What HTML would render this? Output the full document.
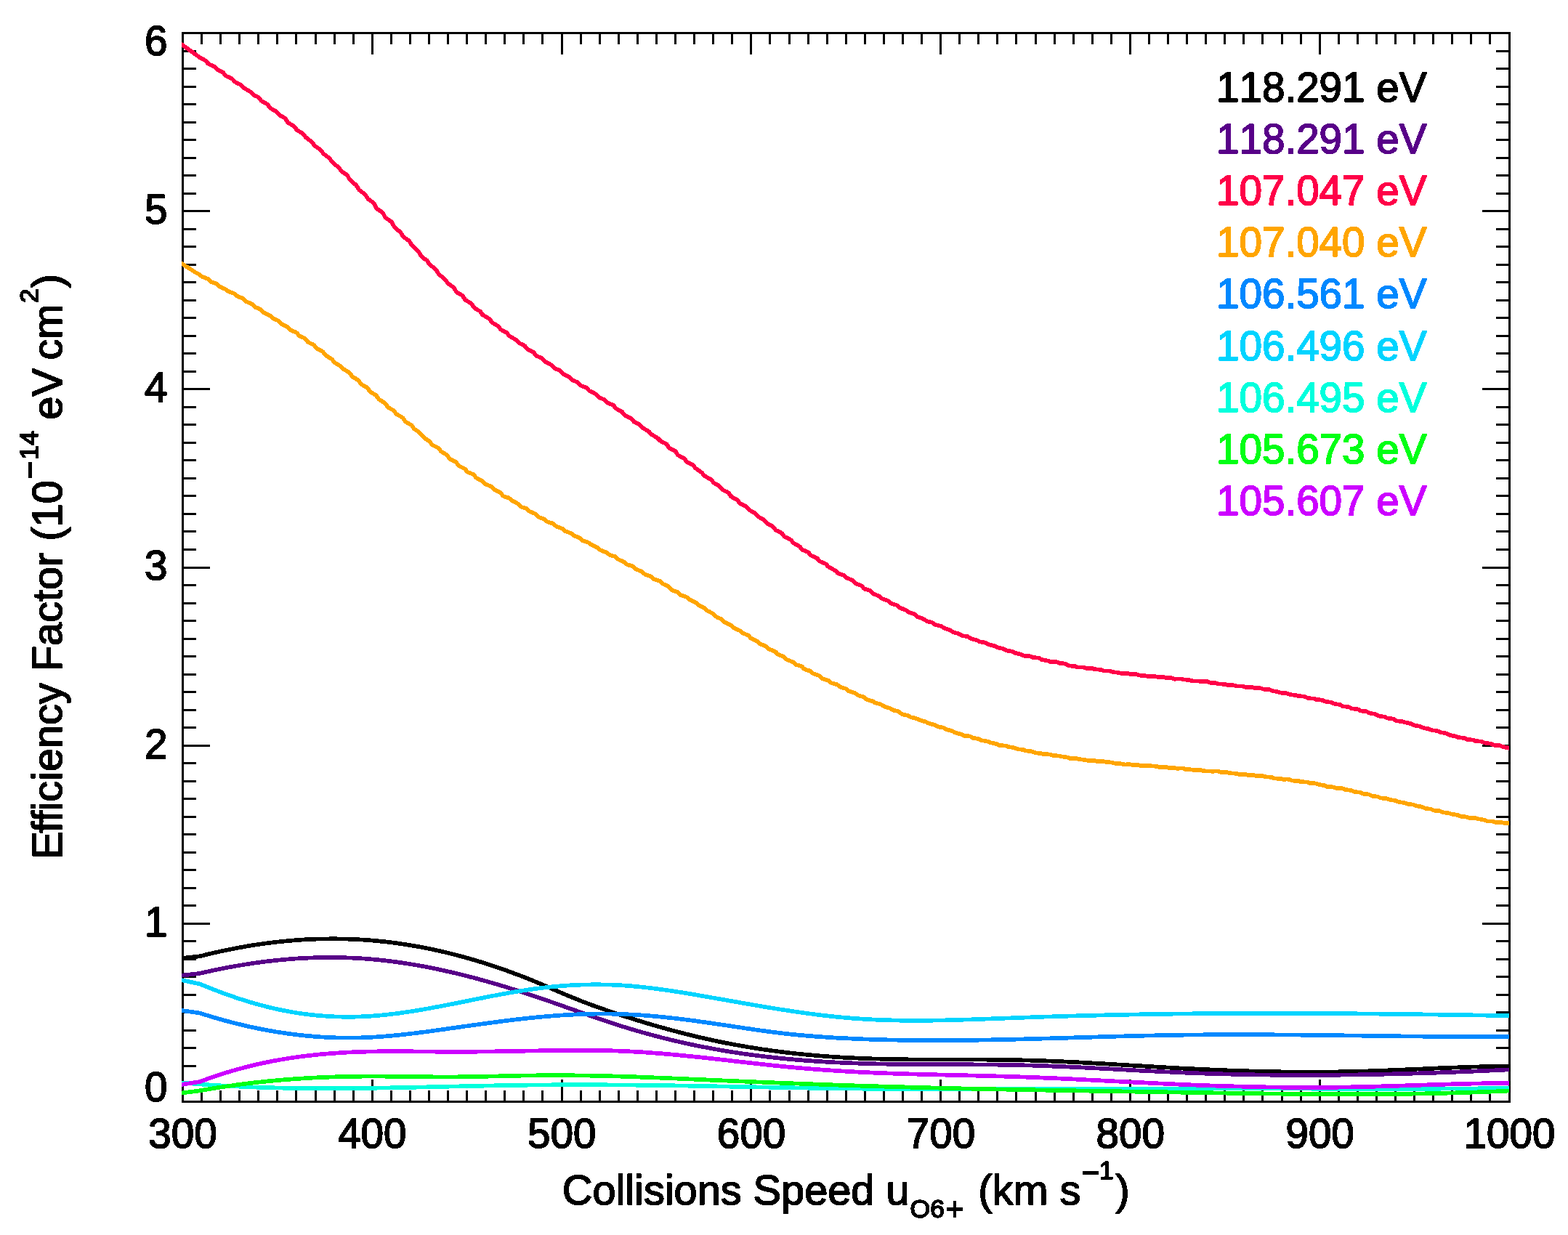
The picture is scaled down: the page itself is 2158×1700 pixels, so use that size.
<!DOCTYPE html>
<html lang="en"><head><meta charset="utf-8"><title>Efficiency Factor vs Collisions Speed</title>
<style>html,body{margin:0;padding:0;background:#fff}body{width:2158px;height:1700px;overflow:hidden}svg{display:block}text{font-family:"Liberation Sans",sans-serif;font-kerning:none;font-variant-ligatures:none;white-space:pre;stroke-width:1.7;stroke-linejoin:round;paint-order:stroke}.t{font-size:56.6px}.l{font-size:57.7px}.k{fill:#000;stroke:#000}</style></head><body>
<svg width="2158" height="1700" viewBox="0 0 2158 1700">
<rect width="2158" height="1700" fill="#fff"/>
<path d="M277.5,1516.5V1501M277.5,45.5V61M303.5,1516.5V1501M303.5,45.5V61M329.5,1516.5V1501M329.5,45.5V61M355.5,1516.5V1501M355.5,45.5V61M381.5,1516.5V1501M381.5,45.5V61M407.5,1516.5V1501M407.5,45.5V61M434.5,1516.5V1501M434.5,45.5V61M460.5,1516.5V1501M460.5,45.5V61M486.5,1516.5V1501M486.5,45.5V61M512.5,1516.5V1486M512.5,45.5V75M538.5,1516.5V1501M538.5,45.5V61M564.5,1516.5V1501M564.5,45.5V61M590.5,1516.5V1501M590.5,45.5V61M616.5,1516.5V1501M616.5,45.5V61M642.5,1516.5V1501M642.5,45.5V61M668.5,1516.5V1501M668.5,45.5V61M694.5,1516.5V1501M694.5,45.5V61M720.5,1516.5V1501M720.5,45.5V61M746.5,1516.5V1501M746.5,45.5V61M773.5,1516.5V1486M773.5,45.5V75M799.5,1516.5V1501M799.5,45.5V61M825.5,1516.5V1501M825.5,45.5V61M851.5,1516.5V1501M851.5,45.5V61M877.5,1516.5V1501M877.5,45.5V61M903.5,1516.5V1501M903.5,45.5V61M929.5,1516.5V1501M929.5,45.5V61M955.5,1516.5V1501M955.5,45.5V61M981.5,1516.5V1501M981.5,45.5V61M1007.5,1516.5V1501M1007.5,45.5V61M1033.5,1516.5V1486M1033.5,45.5V75M1059.5,1516.5V1501M1059.5,45.5V61M1086.5,1516.5V1501M1086.5,45.5V61M1112.5,1516.5V1501M1112.5,45.5V61M1138.5,1516.5V1501M1138.5,45.5V61M1164.5,1516.5V1501M1164.5,45.5V61M1190.5,1516.5V1501M1190.5,45.5V61M1216.5,1516.5V1501M1216.5,45.5V61M1242.5,1516.5V1501M1242.5,45.5V61M1268.5,1516.5V1501M1268.5,45.5V61M1294.5,1516.5V1486M1294.5,45.5V75M1320.5,1516.5V1501M1320.5,45.5V61M1346.5,1516.5V1501M1346.5,45.5V61M1372.5,1516.5V1501M1372.5,45.5V61M1398.5,1516.5V1501M1398.5,45.5V61M1425.5,1516.5V1501M1425.5,45.5V61M1451.5,1516.5V1501M1451.5,45.5V61M1477.5,1516.5V1501M1477.5,45.5V61M1503.5,1516.5V1501M1503.5,45.5V61M1529.5,1516.5V1501M1529.5,45.5V61M1555.5,1516.5V1486M1555.5,45.5V75M1581.5,1516.5V1501M1581.5,45.5V61M1607.5,1516.5V1501M1607.5,45.5V61M1633.5,1516.5V1501M1633.5,45.5V61M1659.5,1516.5V1501M1659.5,45.5V61M1685.5,1516.5V1501M1685.5,45.5V61M1711.5,1516.5V1501M1711.5,45.5V61M1737.5,1516.5V1501M1737.5,45.5V61M1764.5,1516.5V1501M1764.5,45.5V61M1790.5,1516.5V1501M1790.5,45.5V61M1816.5,1516.5V1486M1816.5,45.5V75M1842.5,1516.5V1501M1842.5,45.5V61M1868.5,1516.5V1501M1868.5,45.5V61M1894.5,1516.5V1501M1894.5,45.5V61M1920.5,1516.5V1501M1920.5,45.5V61M1946.5,1516.5V1501M1946.5,45.5V61M1972.5,1516.5V1501M1972.5,45.5V61M1998.5,1516.5V1501M1998.5,45.5V61M2024.5,1516.5V1501M2024.5,45.5V61M2050.5,1516.5V1501M2050.5,45.5V61M251.5,1491.5H270M2077.5,1491.5H2059M251.5,1467.5H270M2077.5,1467.5H2059M251.5,1442.5H270M2077.5,1442.5H2059M251.5,1418.5H270M2077.5,1418.5H2059M251.5,1393.5H270M2077.5,1393.5H2059M251.5,1369.5H270M2077.5,1369.5H2059M251.5,1344.5H270M2077.5,1344.5H2059M251.5,1320.5H270M2077.5,1320.5H2059M251.5,1295.5H270M2077.5,1295.5H2059M251.5,1271.5H289M2077.5,1271.5H2040M251.5,1246.5H270M2077.5,1246.5H2059M251.5,1222.5H270M2077.5,1222.5H2059M251.5,1197.5H270M2077.5,1197.5H2059M251.5,1173.5H270M2077.5,1173.5H2059M251.5,1148.5H270M2077.5,1148.5H2059M251.5,1124.5H270M2077.5,1124.5H2059M251.5,1099.5H270M2077.5,1099.5H2059M251.5,1075.5H270M2077.5,1075.5H2059M251.5,1050.5H270M2077.5,1050.5H2059M251.5,1026.5H289M2077.5,1026.5H2040M251.5,1001.5H270M2077.5,1001.5H2059M251.5,977.5H270M2077.5,977.5H2059M251.5,952.5H270M2077.5,952.5H2059M251.5,928.5H270M2077.5,928.5H2059M251.5,903.5H270M2077.5,903.5H2059M251.5,879.5H270M2077.5,879.5H2059M251.5,854.5H270M2077.5,854.5H2059M251.5,830.5H270M2077.5,830.5H2059M251.5,805.5H270M2077.5,805.5H2059M251.5,781.5H289M2077.5,781.5H2040M251.5,756.5H270M2077.5,756.5H2059M251.5,731.5H270M2077.5,731.5H2059M251.5,707.5H270M2077.5,707.5H2059M251.5,682.5H270M2077.5,682.5H2059M251.5,658.5H270M2077.5,658.5H2059M251.5,633.5H270M2077.5,633.5H2059M251.5,609.5H270M2077.5,609.5H2059M251.5,584.5H270M2077.5,584.5H2059M251.5,560.5H270M2077.5,560.5H2059M251.5,535.5H289M2077.5,535.5H2040M251.5,511.5H270M2077.5,511.5H2059M251.5,486.5H270M2077.5,486.5H2059M251.5,462.5H270M2077.5,462.5H2059M251.5,437.5H270M2077.5,437.5H2059M251.5,413.5H270M2077.5,413.5H2059M251.5,388.5H270M2077.5,388.5H2059M251.5,364.5H270M2077.5,364.5H2059M251.5,339.5H270M2077.5,339.5H2059M251.5,315.5H270M2077.5,315.5H2059M251.5,290.5H289M2077.5,290.5H2040M251.5,266.5H270M2077.5,266.5H2059M251.5,241.5H270M2077.5,241.5H2059M251.5,217.5H270M2077.5,217.5H2059M251.5,192.5H270M2077.5,192.5H2059M251.5,168.5H270M2077.5,168.5H2059M251.5,143.5H270M2077.5,143.5H2059M251.5,119.5H270M2077.5,119.5H2059M251.5,94.5H270M2077.5,94.5H2059M251.5,70.5H270M2077.5,70.5H2059" stroke="#000" stroke-width="3.0" fill="none" shape-rendering="crispEdges"/>
<rect x="251.5" y="45.5" width="1826.0" height="1471.0" fill="none" stroke="#000" stroke-width="3.0" shape-rendering="crispEdges"/>
<clipPath id="cp"><rect x="250.0" y="44.0" width="1827.0" height="1474.0"/></clipPath>
<g clip-path="url(#cp)" shape-rendering="crispEdges">
<path d="M245.2,1316.7 L248.2,1316.4 L251.2,1316.0 L254.2,1315.7 L257.2,1315.4 L260.2,1315.0 L263.2,1314.7 L266.2,1314.4 L269.2,1314.1 L272.2,1313.7 L275.0,1313.4 L277.8,1312.7 L280.8,1311.9 L283.8,1311.2 L286.8,1310.4 L289.8,1309.7 L292.9,1309.0 L295.9,1308.3 L298.9,1307.7 L301.9,1307.0 L304.9,1306.3 L307.9,1305.7 L310.9,1305.1 L313.9,1304.5 L316.9,1303.8 L320.0,1303.3 L323.0,1302.7 L326.0,1302.1 L329.0,1301.5 L332.0,1301.0 L335.0,1300.5 L338.0,1299.9 L341.0,1299.4 L344.0,1298.9 L347.1,1298.4 L350.1,1298.0 L353.1,1297.5 L356.1,1297.0 L359.1,1296.6 L362.1,1296.2 L365.1,1295.8 L368.1,1295.4 L371.1,1295.0 L374.2,1294.6 L377.2,1294.3 L380.2,1293.9 L383.2,1293.6 L386.2,1293.2 L389.2,1292.9 L392.2,1292.6 L395.2,1292.4 L398.3,1292.1 L401.3,1291.8 L404.3,1291.6 L407.3,1291.3 L410.3,1291.1 L413.3,1290.9 L416.3,1290.7 L419.3,1290.5 L422.3,1290.4 L425.4,1290.2 L428.4,1290.1 L431.4,1290.0 L434.4,1289.8 L437.4,1289.7 L440.4,1289.7 L443.4,1289.6 L446.5,1289.5 L449.5,1289.5 L452.5,1289.5 L455.5,1289.4 L458.5,1289.4 L461.5,1289.4 L464.5,1289.5 L467.5,1289.5 L470.6,1289.6 L473.6,1289.6 L476.6,1289.7 L479.6,1289.8 L482.6,1289.9 L485.6,1290.0 L488.6,1290.1 L491.6,1290.3 L494.7,1290.5 L497.7,1290.6 L500.7,1290.8 L503.7,1291.0 L506.7,1291.3 L509.7,1291.5 L512.7,1291.7 L515.8,1292.0 L518.8,1292.3 L521.8,1292.6 L524.8,1292.9 L527.8,1293.2 L530.8,1293.5 L533.8,1293.9 L536.8,1294.2 L539.9,1294.6 L542.9,1295.0 L545.9,1295.4 L548.9,1295.8 L551.9,1296.3 L554.9,1296.7 L557.9,1297.2 L560.9,1297.6 L564.0,1298.1 L567.0,1298.6 L570.0,1299.1 L573.0,1299.7 L576.0,1300.2 L579.0,1300.8 L582.0,1301.3 L585.0,1301.9 L588.1,1302.5 L591.1,1303.1 L594.1,1303.8 L597.1,1304.4 L600.1,1305.0 L603.1,1305.7 L606.1,1306.4 L609.1,1307.1 L612.2,1307.8 L615.2,1308.5 L618.2,1309.2 L621.2,1310.0 L624.2,1310.7 L627.2,1311.5 L630.2,1312.3 L633.2,1313.1 L636.2,1313.9 L639.3,1314.7 L642.3,1315.5 L645.3,1316.4 L648.3,1317.2 L651.3,1318.1 L654.3,1319.0 L657.3,1319.9 L660.3,1320.8 L663.3,1321.7 L666.4,1322.7 L669.4,1323.6 L672.4,1324.6 L675.4,1325.6 L678.4,1326.6 L681.4,1327.6 L684.4,1328.6 L687.4,1329.6 L690.4,1330.6 L693.4,1331.7 L696.5,1332.8 L699.5,1333.8 L702.5,1334.9 L705.5,1336.0 L708.5,1337.2 L711.5,1338.3 L714.5,1339.4 L717.5,1340.6 L720.5,1341.7 L723.5,1342.9 L726.6,1344.1 L729.6,1345.3 L732.6,1346.5 L735.6,1347.7 L738.6,1349.0 L741.6,1350.2 L744.6,1351.5 L747.6,1352.8 L750.6,1354.1 L753.6,1355.3 L756.6,1356.6 L759.6,1357.9 L762.6,1359.3 L765.6,1360.6 L768.6,1361.9 L771.6,1363.2 L774.6,1364.4 L777.6,1365.7 L780.6,1367.0 L783.6,1368.3 L786.6,1369.5 L789.6,1370.7 L792.6,1371.9 L795.6,1373.1 L798.5,1374.3 L801.5,1375.5 L804.5,1376.6 L807.5,1377.8 L810.5,1378.9 L813.5,1380.0 L816.5,1381.1 L819.5,1382.2 L822.5,1383.3 L825.5,1384.3 L828.4,1385.4 L831.4,1386.4 L834.4,1387.5 L837.4,1388.5 L840.4,1389.5 L843.4,1390.5 L846.4,1391.5 L849.4,1392.5 L852.4,1393.5 L855.4,1394.5 L858.4,1395.5 L861.4,1396.5 L864.4,1397.4 L867.4,1398.4 L870.4,1399.3 L873.4,1400.3 L876.3,1401.2 L879.3,1402.1 L882.3,1403.1 L885.3,1404.0 L888.3,1404.9 L891.3,1405.8 L894.3,1406.7 L897.3,1407.6 L900.3,1408.5 L903.3,1409.3 L906.3,1410.2 L909.3,1411.0 L912.3,1411.9 L915.3,1412.7 L918.3,1413.6 L921.3,1414.4 L924.2,1415.2 L927.2,1416.0 L930.2,1416.8 L933.2,1417.6 L936.2,1418.4 L939.2,1419.2 L942.2,1419.9 L945.2,1420.7 L948.2,1421.4 L951.2,1422.2 L954.2,1422.9 L957.2,1423.6 L960.2,1424.4 L963.1,1425.1 L966.1,1425.8 L969.1,1426.4 L972.1,1427.1 L975.1,1427.8 L978.1,1428.4 L981.1,1429.1 L984.1,1429.7 L987.1,1430.4 L990.1,1431.0 L993.1,1431.6 L996.1,1432.2 L999.1,1432.8 L1002.0,1433.4 L1005.0,1434.0 L1008.0,1434.5 L1011.0,1435.1 L1014.0,1435.6 L1017.0,1436.2 L1020.0,1436.7 L1023.0,1437.2 L1026.0,1437.7 L1029.0,1438.3 L1032.0,1438.8 L1035.0,1439.2 L1037.9,1439.7 L1040.9,1440.2 L1043.9,1440.7 L1046.9,1441.1 L1049.9,1441.6 L1052.9,1442.0 L1055.9,1442.4 L1058.9,1442.9 L1061.9,1443.3 L1064.9,1443.7 L1067.9,1444.1 L1070.9,1444.5 L1073.9,1444.9 L1076.9,1445.2 L1079.8,1445.6 L1082.8,1446.0 L1085.8,1446.3 L1088.8,1446.7 L1091.8,1447.0 L1094.8,1447.3 L1097.8,1447.7 L1100.8,1448.0 L1103.8,1448.3 L1106.8,1448.6 L1109.8,1448.9 L1112.8,1449.2 L1115.8,1449.4 L1118.8,1449.7 L1121.7,1450.0 L1124.7,1450.2 L1127.7,1450.5 L1130.7,1450.7 L1133.7,1451.0 L1136.7,1451.2 L1139.7,1451.4 L1142.7,1451.6 L1145.7,1451.8 L1148.7,1452.0 L1151.7,1452.2 L1154.7,1452.4 L1157.7,1452.6 L1160.7,1452.8 L1163.7,1452.9 L1166.7,1453.1 L1169.6,1453.3 L1172.6,1453.4 L1175.6,1453.5 L1178.6,1453.7 L1181.6,1453.8 L1184.6,1453.9 L1187.6,1454.1 L1190.6,1454.2 L1193.6,1454.3 L1196.6,1454.4 L1199.6,1454.5 L1202.6,1454.6 L1205.6,1454.7 L1208.6,1454.7 L1211.6,1454.8 L1214.6,1454.9 L1217.6,1455.0 L1220.6,1455.0 L1223.6,1455.1 L1226.6,1455.1 L1229.5,1455.2 L1232.5,1455.2 L1235.5,1455.3 L1238.5,1455.3 L1241.5,1455.4 L1244.5,1455.4 L1247.5,1455.4 L1250.5,1455.5 L1253.5,1455.5 L1256.5,1455.5 L1259.5,1455.5 L1262.5,1455.6 L1265.5,1455.6 L1268.5,1455.6 L1271.5,1455.6 L1274.5,1455.6 L1277.5,1455.6 L1280.5,1455.6 L1283.5,1455.6 L1286.5,1455.6 L1289.5,1455.6 L1292.5,1455.6 L1295.5,1455.6 L1298.5,1455.7 L1301.5,1455.7 L1304.5,1455.7 L1307.5,1455.7 L1310.5,1455.7 L1313.5,1455.7 L1316.5,1455.7 L1319.5,1455.7 L1322.5,1455.7 L1325.5,1455.7 L1328.5,1455.7 L1331.5,1455.7 L1334.5,1455.7 L1337.5,1455.7 L1340.5,1455.7 L1343.5,1455.7 L1346.5,1455.7 L1349.5,1455.7 L1352.5,1455.7 L1355.5,1455.7 L1358.5,1455.8 L1361.5,1455.8 L1364.5,1455.8 L1367.5,1455.8 L1370.5,1455.9 L1373.5,1455.9 L1376.5,1455.9 L1379.5,1456.0 L1382.5,1456.0 L1385.5,1456.0 L1388.5,1456.1 L1391.5,1456.1 L1394.6,1456.2 L1397.6,1456.3 L1400.6,1456.3 L1403.6,1456.4 L1406.6,1456.5 L1409.6,1456.5 L1412.6,1456.6 L1415.6,1456.7 L1418.6,1456.8 L1421.6,1456.9 L1424.6,1457.0 L1427.6,1457.1 L1430.6,1457.2 L1433.6,1457.3 L1436.6,1457.4 L1439.6,1457.5 L1442.6,1457.6 L1445.6,1457.7 L1448.6,1457.9 L1451.6,1458.0 L1454.6,1458.1 L1457.6,1458.2 L1460.6,1458.4 L1463.6,1458.5 L1466.6,1458.6 L1469.6,1458.8 L1472.6,1458.9 L1475.6,1459.1 L1478.6,1459.2 L1481.6,1459.4 L1484.6,1459.5 L1487.6,1459.7 L1490.6,1459.8 L1493.7,1460.0 L1496.7,1460.2 L1499.7,1460.3 L1502.7,1460.5 L1505.7,1460.7 L1508.7,1460.8 L1511.7,1461.0 L1514.7,1461.2 L1517.7,1461.3 L1520.7,1461.5 L1523.7,1461.7 L1526.7,1461.9 L1529.7,1462.0 L1532.7,1462.2 L1535.7,1462.4 L1538.7,1462.6 L1541.7,1462.7 L1544.7,1462.9 L1547.7,1463.1 L1550.7,1463.3 L1553.7,1463.5 L1556.7,1463.6 L1559.7,1463.8 L1562.7,1464.0 L1565.7,1464.2 L1568.7,1464.4 L1571.7,1464.5 L1574.7,1464.7 L1577.7,1464.9 L1580.7,1465.1 L1583.7,1465.2 L1586.7,1465.4 L1589.7,1465.6 L1592.7,1465.8 L1595.7,1465.9 L1598.7,1466.1 L1601.7,1466.3 L1604.7,1466.5 L1607.7,1466.6 L1610.7,1466.8 L1613.7,1467.0 L1616.7,1467.1 L1619.7,1467.3 L1622.7,1467.5 L1625.7,1467.6 L1628.6,1467.8 L1631.6,1467.9 L1634.6,1468.1 L1637.6,1468.2 L1640.6,1468.4 L1643.6,1468.5 L1646.6,1468.7 L1649.6,1468.8 L1652.6,1469.0 L1655.6,1469.1 L1658.6,1469.2 L1661.6,1469.4 L1664.6,1469.5 L1667.6,1469.6 L1670.6,1469.8 L1673.6,1469.9 L1676.6,1470.0 L1679.6,1470.1 L1682.6,1470.3 L1685.6,1470.4 L1688.6,1470.5 L1691.6,1470.6 L1694.6,1470.7 L1697.6,1470.8 L1700.6,1470.9 L1703.6,1471.0 L1706.6,1471.1 L1709.6,1471.2 L1712.6,1471.3 L1715.6,1471.4 L1718.6,1471.5 L1721.6,1471.6 L1724.6,1471.7 L1727.6,1471.8 L1730.6,1471.8 L1733.6,1471.9 L1736.6,1472.0 L1739.6,1472.0 L1742.6,1472.1 L1745.6,1472.2 L1748.6,1472.2 L1751.6,1472.3 L1754.6,1472.3 L1757.5,1472.4 L1760.5,1472.4 L1763.5,1472.5 L1766.5,1472.5 L1769.5,1472.6 L1772.5,1472.6 L1775.5,1472.6 L1778.5,1472.7 L1781.5,1472.7 L1784.5,1472.7 L1787.5,1472.7 L1790.5,1472.8 L1793.5,1472.8 L1796.5,1472.8 L1799.5,1472.8 L1802.5,1472.8 L1805.5,1472.8 L1808.5,1472.8 L1811.5,1472.8 L1814.5,1472.8 L1817.5,1472.7 L1820.5,1472.7 L1823.5,1472.7 L1826.5,1472.7 L1829.5,1472.7 L1832.5,1472.6 L1835.5,1472.6 L1838.5,1472.5 L1841.5,1472.5 L1844.5,1472.4 L1847.4,1472.4 L1850.4,1472.3 L1853.4,1472.3 L1856.4,1472.2 L1859.4,1472.2 L1862.4,1472.1 L1865.4,1472.0 L1868.4,1471.9 L1871.4,1471.8 L1874.4,1471.8 L1877.4,1471.7 L1880.4,1471.6 L1883.4,1471.5 L1886.4,1471.4 L1889.4,1471.3 L1892.4,1471.2 L1895.4,1471.1 L1898.4,1471.0 L1901.4,1470.8 L1904.4,1470.7 L1907.4,1470.6 L1910.4,1470.5 L1913.4,1470.4 L1916.4,1470.3 L1919.4,1470.1 L1922.4,1470.0 L1925.4,1469.9 L1928.4,1469.8 L1931.4,1469.6 L1934.4,1469.5 L1937.4,1469.4 L1940.4,1469.2 L1943.4,1469.1 L1946.4,1469.0 L1949.4,1468.8 L1952.4,1468.7 L1955.4,1468.6 L1958.4,1468.5 L1961.4,1468.3 L1964.4,1468.2 L1967.4,1468.1 L1970.4,1467.9 L1973.4,1467.8 L1976.4,1467.7 L1979.4,1467.5 L1982.4,1467.4 L1985.4,1467.3 L1988.4,1467.2 L1991.4,1467.0 L1994.4,1466.9 L1997.4,1466.8 L2000.4,1466.7 L2003.4,1466.6 L2006.4,1466.5 L2009.4,1466.3 L2012.4,1466.2 L2015.4,1466.1 L2018.4,1466.0 L2021.4,1465.9 L2024.4,1465.8 L2027.4,1465.7 L2030.4,1465.6 L2033.4,1465.6 L2036.4,1465.5 L2039.4,1465.4 L2042.4,1465.3 L2045.4,1465.2 L2048.4,1465.2 L2051.4,1465.1 L2054.4,1465.0 L2057.4,1465.0 L2060.5,1464.9 L2063.5,1464.9 L2066.5,1464.8 L2069.5,1464.8 L2072.5,1464.8 L2075.5,1464.7 L2078.5,1464.7 L2081.5,1464.7 L2081.5,1470.4 L2078.5,1470.4 L2075.5,1470.4 L2072.5,1470.5 L2069.5,1470.5 L2066.5,1470.5 L2063.5,1470.6 L2060.5,1470.6 L2057.6,1470.7 L2054.6,1470.7 L2051.6,1470.8 L2048.6,1470.9 L2045.6,1470.9 L2042.6,1471.0 L2039.6,1471.1 L2036.6,1471.2 L2033.6,1471.3 L2030.6,1471.3 L2027.6,1471.4 L2024.6,1471.5 L2021.6,1471.6 L2018.6,1471.7 L2015.6,1471.8 L2012.6,1471.9 L2009.6,1472.0 L2006.6,1472.2 L2003.6,1472.3 L2000.6,1472.4 L1997.6,1472.5 L1994.6,1472.6 L1991.6,1472.7 L1988.6,1472.9 L1985.6,1473.0 L1982.6,1473.1 L1979.6,1473.2 L1976.6,1473.4 L1973.6,1473.5 L1970.6,1473.6 L1967.6,1473.8 L1964.6,1473.9 L1961.6,1474.0 L1958.6,1474.1 L1955.6,1474.3 L1952.6,1474.4 L1949.6,1474.5 L1946.6,1474.7 L1943.6,1474.8 L1940.6,1474.9 L1937.6,1475.1 L1934.6,1475.2 L1931.6,1475.3 L1928.6,1475.5 L1925.6,1475.6 L1922.6,1475.7 L1919.6,1475.8 L1916.6,1476.0 L1913.6,1476.1 L1910.6,1476.2 L1907.6,1476.3 L1904.6,1476.4 L1901.6,1476.5 L1898.6,1476.7 L1895.6,1476.8 L1892.6,1476.9 L1889.6,1477.0 L1886.6,1477.1 L1883.6,1477.2 L1880.6,1477.3 L1877.6,1477.4 L1874.6,1477.5 L1871.6,1477.5 L1868.6,1477.6 L1865.6,1477.7 L1862.6,1477.8 L1859.6,1477.9 L1856.6,1477.9 L1853.6,1478.0 L1850.6,1478.0 L1847.6,1478.1 L1844.5,1478.1 L1841.5,1478.2 L1838.5,1478.2 L1835.5,1478.3 L1832.5,1478.3 L1829.5,1478.4 L1826.5,1478.4 L1823.5,1478.4 L1820.5,1478.4 L1817.5,1478.4 L1814.5,1478.5 L1811.5,1478.5 L1808.5,1478.5 L1805.5,1478.5 L1802.5,1478.5 L1799.5,1478.5 L1796.5,1478.5 L1793.5,1478.5 L1790.5,1478.5 L1787.5,1478.4 L1784.5,1478.4 L1781.5,1478.4 L1778.5,1478.4 L1775.5,1478.3 L1772.5,1478.3 L1769.5,1478.3 L1766.5,1478.2 L1763.5,1478.2 L1760.5,1478.1 L1757.5,1478.1 L1754.4,1478.0 L1751.4,1478.0 L1748.4,1477.9 L1745.4,1477.9 L1742.4,1477.8 L1739.4,1477.7 L1736.4,1477.7 L1733.4,1477.6 L1730.4,1477.5 L1727.4,1477.5 L1724.4,1477.4 L1721.4,1477.3 L1718.4,1477.2 L1715.4,1477.1 L1712.4,1477.0 L1709.4,1476.9 L1706.4,1476.8 L1703.4,1476.7 L1700.4,1476.6 L1697.4,1476.5 L1694.4,1476.4 L1691.4,1476.3 L1688.4,1476.2 L1685.4,1476.1 L1682.4,1476.0 L1679.4,1475.8 L1676.4,1475.7 L1673.4,1475.6 L1670.4,1475.5 L1667.4,1475.3 L1664.4,1475.2 L1661.4,1475.1 L1658.4,1474.9 L1655.4,1474.8 L1652.4,1474.7 L1649.4,1474.5 L1646.4,1474.4 L1643.4,1474.2 L1640.4,1474.1 L1637.4,1473.9 L1634.4,1473.8 L1631.4,1473.6 L1628.4,1473.5 L1625.3,1473.3 L1622.3,1473.1 L1619.3,1473.0 L1616.3,1472.8 L1613.3,1472.7 L1610.3,1472.5 L1607.3,1472.3 L1604.3,1472.2 L1601.3,1472.0 L1598.3,1471.8 L1595.3,1471.6 L1592.3,1471.5 L1589.3,1471.3 L1586.3,1471.1 L1583.3,1470.9 L1580.3,1470.8 L1577.3,1470.6 L1574.3,1470.4 L1571.3,1470.2 L1568.3,1470.0 L1565.3,1469.9 L1562.3,1469.7 L1559.3,1469.5 L1556.3,1469.3 L1553.3,1469.1 L1550.3,1469.0 L1547.3,1468.8 L1544.3,1468.6 L1541.3,1468.4 L1538.3,1468.3 L1535.3,1468.1 L1532.3,1467.9 L1529.3,1467.7 L1526.3,1467.5 L1523.3,1467.4 L1520.3,1467.2 L1517.3,1467.0 L1514.3,1466.9 L1511.3,1466.7 L1508.3,1466.5 L1505.3,1466.4 L1502.3,1466.2 L1499.3,1466.0 L1496.3,1465.9 L1493.3,1465.7 L1490.4,1465.5 L1487.4,1465.4 L1484.4,1465.2 L1481.4,1465.1 L1478.4,1464.9 L1475.4,1464.8 L1472.4,1464.6 L1469.4,1464.5 L1466.4,1464.3 L1463.4,1464.2 L1460.4,1464.1 L1457.4,1463.9 L1454.4,1463.8 L1451.4,1463.7 L1448.4,1463.6 L1445.4,1463.4 L1442.4,1463.3 L1439.4,1463.2 L1436.4,1463.1 L1433.4,1463.0 L1430.4,1462.9 L1427.4,1462.8 L1424.4,1462.7 L1421.4,1462.6 L1418.4,1462.5 L1415.4,1462.4 L1412.4,1462.3 L1409.4,1462.2 L1406.4,1462.2 L1403.4,1462.1 L1400.4,1462.0 L1397.4,1462.0 L1394.4,1461.9 L1391.5,1461.8 L1388.5,1461.8 L1385.5,1461.7 L1382.5,1461.7 L1379.5,1461.7 L1376.5,1461.6 L1373.5,1461.6 L1370.5,1461.6 L1367.5,1461.5 L1364.5,1461.5 L1361.5,1461.5 L1358.5,1461.5 L1355.5,1461.4 L1352.5,1461.4 L1349.5,1461.4 L1346.5,1461.4 L1343.5,1461.4 L1340.5,1461.4 L1337.5,1461.4 L1334.5,1461.4 L1331.5,1461.4 L1328.5,1461.4 L1325.5,1461.4 L1322.5,1461.4 L1319.5,1461.4 L1316.5,1461.4 L1313.5,1461.4 L1310.5,1461.4 L1307.5,1461.4 L1304.5,1461.4 L1301.5,1461.4 L1298.5,1461.4 L1295.5,1461.3 L1292.5,1461.3 L1289.5,1461.3 L1286.5,1461.3 L1283.5,1461.3 L1280.5,1461.3 L1277.5,1461.3 L1274.5,1461.3 L1271.5,1461.3 L1268.5,1461.3 L1265.5,1461.3 L1262.5,1461.3 L1259.5,1461.2 L1256.5,1461.2 L1253.5,1461.2 L1250.5,1461.2 L1247.5,1461.1 L1244.5,1461.1 L1241.5,1461.1 L1238.5,1461.0 L1235.5,1461.0 L1232.5,1460.9 L1229.5,1460.9 L1226.4,1460.8 L1223.4,1460.8 L1220.4,1460.7 L1217.4,1460.7 L1214.4,1460.6 L1211.4,1460.5 L1208.4,1460.4 L1205.4,1460.4 L1202.4,1460.3 L1199.4,1460.2 L1196.4,1460.1 L1193.4,1460.0 L1190.4,1459.9 L1187.4,1459.8 L1184.4,1459.6 L1181.4,1459.5 L1178.4,1459.4 L1175.4,1459.2 L1172.4,1459.1 L1169.4,1458.9 L1166.3,1458.8 L1163.3,1458.6 L1160.3,1458.5 L1157.3,1458.3 L1154.3,1458.1 L1151.3,1457.9 L1148.3,1457.7 L1145.3,1457.5 L1142.3,1457.3 L1139.3,1457.1 L1136.3,1456.9 L1133.3,1456.6 L1130.3,1456.4 L1127.3,1456.2 L1124.3,1455.9 L1121.3,1455.6 L1118.2,1455.4 L1115.2,1455.1 L1112.2,1454.8 L1109.2,1454.5 L1106.2,1454.3 L1103.2,1453.9 L1100.2,1453.6 L1097.2,1453.3 L1094.2,1453.0 L1091.2,1452.7 L1088.2,1452.3 L1085.2,1452.0 L1082.2,1451.6 L1079.2,1451.3 L1076.1,1450.9 L1073.1,1450.5 L1070.1,1450.1 L1067.1,1449.7 L1064.1,1449.3 L1061.1,1448.9 L1058.1,1448.5 L1055.1,1448.1 L1052.1,1447.6 L1049.1,1447.2 L1046.1,1446.8 L1043.1,1446.3 L1040.1,1445.8 L1037.1,1445.4 L1034.0,1444.9 L1031.0,1444.4 L1028.0,1443.9 L1025.0,1443.4 L1022.0,1442.9 L1019.0,1442.3 L1016.0,1441.8 L1013.0,1441.2 L1010.0,1440.7 L1007.0,1440.1 L1004.0,1439.6 L1001.0,1439.0 L997.9,1438.4 L994.9,1437.8 L991.9,1437.2 L988.9,1436.6 L985.9,1435.9 L982.9,1435.3 L979.9,1434.7 L976.9,1434.0 L973.9,1433.3 L970.9,1432.7 L967.9,1432.0 L964.9,1431.3 L961.9,1430.6 L958.8,1429.9 L955.8,1429.2 L952.8,1428.5 L949.8,1427.7 L946.8,1427.0 L943.8,1426.2 L940.8,1425.5 L937.8,1424.7 L934.8,1423.9 L931.8,1423.1 L928.8,1422.3 L925.8,1421.5 L922.8,1420.7 L919.7,1419.9 L916.7,1419.1 L913.7,1418.2 L910.7,1417.4 L907.7,1416.5 L904.7,1415.7 L901.7,1414.8 L898.7,1413.9 L895.7,1413.0 L892.7,1412.2 L889.7,1411.3 L886.7,1410.4 L883.7,1409.4 L880.7,1408.5 L877.7,1407.6 L874.7,1406.7 L871.6,1405.7 L868.6,1404.8 L865.6,1403.8 L862.6,1402.9 L859.6,1401.9 L856.6,1400.9 L853.6,1399.9 L850.6,1398.9 L847.6,1398.0 L844.6,1397.0 L841.6,1395.9 L838.6,1394.9 L835.6,1393.9 L832.6,1392.9 L829.6,1391.8 L826.6,1390.8 L823.5,1389.7 L820.5,1388.6 L817.5,1387.6 L814.5,1386.5 L811.5,1385.3 L808.5,1384.2 L805.5,1383.1 L802.5,1381.9 L799.5,1380.8 L796.5,1379.6 L793.4,1378.4 L790.4,1377.2 L787.4,1376.0 L784.4,1374.8 L781.4,1373.5 L778.4,1372.2 L775.4,1371.0 L772.4,1369.7 L769.4,1368.4 L766.4,1367.1 L763.4,1365.8 L760.4,1364.5 L757.4,1363.2 L754.4,1361.9 L751.4,1360.6 L748.4,1359.3 L745.4,1358.0 L742.4,1356.7 L739.4,1355.5 L736.4,1354.3 L733.4,1353.0 L730.4,1351.8 L727.4,1350.6 L724.4,1349.4 L721.5,1348.2 L718.5,1347.0 L715.5,1345.9 L712.5,1344.7 L709.5,1343.6 L706.5,1342.5 L703.5,1341.4 L700.5,1340.3 L697.5,1339.2 L694.5,1338.1 L691.6,1337.1 L688.6,1336.0 L685.6,1335.0 L682.6,1334.0 L679.6,1333.0 L676.6,1332.0 L673.6,1331.0 L670.6,1330.0 L667.6,1329.1 L664.6,1328.1 L661.7,1327.2 L658.7,1326.3 L655.7,1325.4 L652.7,1324.5 L649.7,1323.6 L646.7,1322.7 L643.7,1321.9 L640.7,1321.0 L637.7,1320.2 L634.8,1319.4 L631.8,1318.6 L628.8,1317.8 L625.8,1317.0 L622.8,1316.2 L619.8,1315.5 L616.8,1314.8 L613.8,1314.0 L610.8,1313.3 L607.9,1312.6 L604.9,1311.9 L601.9,1311.3 L598.9,1310.6 L595.9,1310.0 L592.9,1309.3 L589.9,1308.7 L586.9,1308.1 L584.0,1307.5 L581.0,1306.9 L578.0,1306.4 L575.0,1305.8 L572.0,1305.3 L569.0,1304.8 L566.0,1304.3 L563.0,1303.8 L560.1,1303.3 L557.1,1302.8 L554.1,1302.3 L551.1,1301.9 L548.1,1301.5 L545.1,1301.1 L542.1,1300.7 L539.1,1300.3 L536.2,1299.9 L533.2,1299.5 L530.2,1299.2 L527.2,1298.9 L524.2,1298.6 L521.2,1298.2 L518.2,1298.0 L515.2,1297.7 L512.3,1297.4 L509.3,1297.2 L506.3,1296.9 L503.3,1296.7 L500.3,1296.5 L497.3,1296.3 L494.3,1296.2 L491.4,1296.0 L488.4,1295.8 L485.4,1295.7 L482.4,1295.6 L479.4,1295.5 L476.4,1295.4 L473.4,1295.3 L470.4,1295.2 L467.5,1295.2 L464.5,1295.2 L461.5,1295.1 L458.5,1295.1 L455.5,1295.1 L452.5,1295.2 L449.5,1295.2 L446.5,1295.2 L443.6,1295.3 L440.6,1295.4 L437.6,1295.4 L434.6,1295.5 L431.6,1295.7 L428.6,1295.8 L425.6,1295.9 L422.7,1296.1 L419.7,1296.2 L416.7,1296.4 L413.7,1296.6 L410.7,1296.8 L407.7,1297.0 L404.7,1297.3 L401.7,1297.5 L398.7,1297.8 L395.8,1298.0 L392.8,1298.3 L389.8,1298.6 L386.8,1298.9 L383.8,1299.2 L380.8,1299.6 L377.8,1299.9 L374.8,1300.3 L371.9,1300.6 L368.9,1301.0 L365.9,1301.4 L362.9,1301.8 L359.9,1302.3 L356.9,1302.7 L353.9,1303.1 L350.9,1303.6 L347.9,1304.1 L345.0,1304.5 L342.0,1305.0 L339.0,1305.5 L336.0,1306.1 L333.0,1306.6 L330.0,1307.1 L327.0,1307.7 L324.0,1308.3 L321.0,1308.8 L318.1,1309.4 L315.1,1310.0 L312.1,1310.7 L309.1,1311.3 L306.1,1311.9 L303.1,1312.6 L300.1,1313.2 L297.1,1313.9 L294.1,1314.6 L291.2,1315.3 L288.2,1316.0 L285.2,1316.7 L282.2,1317.4 L279.2,1318.2 L276.0,1319.0 L272.8,1319.4 L269.8,1319.7 L266.8,1320.0 L263.8,1320.4 L260.8,1320.7 L257.8,1321.0 L254.8,1321.4 L251.8,1321.7 L248.8,1322.0 L245.8,1322.4Z" fill="#000000"/>
<path d="M245.2,1340.4 L248.2,1340.1 L251.2,1339.7 L254.2,1339.4 L257.2,1339.0 L260.2,1338.7 L263.2,1338.4 L266.2,1338.0 L269.2,1337.7 L272.2,1337.3 L275.0,1336.9 L277.9,1336.3 L280.9,1335.6 L283.9,1334.9 L286.9,1334.3 L289.9,1333.6 L292.9,1333.0 L295.9,1332.3 L298.9,1331.7 L301.9,1331.1 L304.9,1330.5 L308.0,1329.9 L311.0,1329.3 L314.0,1328.8 L317.0,1328.2 L320.0,1327.7 L323.0,1327.1 L326.0,1326.6 L329.0,1326.1 L332.0,1325.6 L335.0,1325.1 L338.1,1324.6 L341.1,1324.1 L344.1,1323.7 L347.1,1323.2 L350.1,1322.8 L353.1,1322.4 L356.1,1321.9 L359.1,1321.5 L362.1,1321.1 L365.1,1320.8 L368.2,1320.4 L371.2,1320.0 L374.2,1319.7 L377.2,1319.4 L380.2,1319.1 L383.2,1318.7 L386.2,1318.5 L389.2,1318.2 L392.2,1317.9 L395.3,1317.6 L398.3,1317.4 L401.3,1317.2 L404.3,1316.9 L407.3,1316.7 L410.3,1316.5 L413.3,1316.3 L416.3,1316.2 L419.4,1316.0 L422.4,1315.9 L425.4,1315.7 L428.4,1315.6 L431.4,1315.5 L434.4,1315.4 L437.4,1315.3 L440.4,1315.3 L443.5,1315.2 L446.5,1315.2 L449.5,1315.1 L452.5,1315.1 L455.5,1315.1 L458.5,1315.1 L461.5,1315.1 L464.5,1315.2 L467.6,1315.2 L470.6,1315.3 L473.6,1315.4 L476.6,1315.5 L479.6,1315.6 L482.6,1315.7 L485.6,1315.8 L488.6,1316.0 L491.7,1316.1 L494.7,1316.3 L497.7,1316.5 L500.7,1316.7 L503.7,1316.9 L506.7,1317.1 L509.7,1317.4 L512.8,1317.7 L515.8,1317.9 L518.8,1318.2 L521.8,1318.5 L524.8,1318.8 L527.8,1319.2 L530.8,1319.5 L533.8,1319.8 L536.9,1320.2 L539.9,1320.6 L542.9,1321.0 L545.9,1321.4 L548.9,1321.8 L551.9,1322.2 L554.9,1322.7 L557.9,1323.1 L560.9,1323.6 L564.0,1324.1 L567.0,1324.6 L570.0,1325.1 L573.0,1325.6 L576.0,1326.1 L579.0,1326.7 L582.0,1327.2 L585.0,1327.8 L588.0,1328.4 L591.0,1328.9 L594.1,1329.5 L597.1,1330.1 L600.1,1330.8 L603.1,1331.4 L606.1,1332.0 L609.1,1332.7 L612.1,1333.3 L615.1,1334.0 L618.1,1334.7 L621.1,1335.4 L624.2,1336.1 L627.2,1336.8 L630.2,1337.5 L633.2,1338.2 L636.2,1339.0 L639.2,1339.7 L642.2,1340.5 L645.2,1341.3 L648.2,1342.0 L651.2,1342.8 L654.2,1343.6 L657.2,1344.4 L660.2,1345.3 L663.3,1346.1 L666.3,1346.9 L669.3,1347.8 L672.3,1348.6 L675.3,1349.5 L678.3,1350.3 L681.3,1351.2 L684.3,1352.1 L687.3,1353.0 L690.3,1353.9 L693.3,1354.8 L696.3,1355.7 L699.3,1356.6 L702.3,1357.5 L705.4,1358.5 L708.4,1359.4 L711.4,1360.4 L714.4,1361.3 L717.4,1362.3 L720.4,1363.3 L723.4,1364.2 L726.4,1365.2 L729.4,1366.2 L732.4,1367.2 L735.4,1368.2 L738.4,1369.2 L741.4,1370.2 L744.4,1371.3 L747.4,1372.3 L750.4,1373.3 L753.4,1374.4 L756.4,1375.4 L759.4,1376.5 L762.4,1377.5 L765.4,1378.6 L768.4,1379.6 L771.4,1380.7 L774.5,1381.7 L777.5,1382.8 L780.5,1383.9 L783.5,1384.9 L786.5,1386.0 L789.5,1387.1 L792.5,1388.1 L795.5,1389.2 L798.5,1390.3 L801.4,1391.3 L804.4,1392.4 L807.4,1393.4 L810.4,1394.5 L813.4,1395.5 L816.4,1396.6 L819.4,1397.6 L822.4,1398.6 L825.4,1399.7 L828.4,1400.7 L831.4,1401.7 L834.4,1402.7 L837.4,1403.7 L840.4,1404.7 L843.4,1405.7 L846.4,1406.7 L849.4,1407.6 L852.4,1408.6 L855.4,1409.5 L858.3,1410.5 L861.3,1411.4 L864.3,1412.3 L867.3,1413.2 L870.3,1414.1 L873.3,1415.0 L876.3,1415.9 L879.3,1416.8 L882.3,1417.6 L885.3,1418.5 L888.3,1419.3 L891.3,1420.1 L894.3,1421.0 L897.2,1421.8 L900.2,1422.6 L903.2,1423.4 L906.2,1424.2 L909.2,1424.9 L912.2,1425.7 L915.2,1426.5 L918.2,1427.2 L921.2,1427.9 L924.2,1428.7 L927.2,1429.4 L930.2,1430.1 L933.1,1430.8 L936.1,1431.5 L939.1,1432.2 L942.1,1432.8 L945.1,1433.5 L948.1,1434.1 L951.1,1434.8 L954.1,1435.4 L957.1,1436.0 L960.1,1436.7 L963.1,1437.3 L966.1,1437.9 L969.0,1438.5 L972.0,1439.0 L975.0,1439.6 L978.0,1440.2 L981.0,1440.7 L984.0,1441.3 L987.0,1441.8 L990.0,1442.3 L993.0,1442.8 L996.0,1443.4 L999.0,1443.9 L1002.0,1444.4 L1005.0,1444.8 L1007.9,1445.3 L1010.9,1445.8 L1013.9,1446.2 L1016.9,1446.7 L1019.9,1447.1 L1022.9,1447.6 L1025.9,1448.0 L1028.9,1448.4 L1031.9,1448.8 L1034.9,1449.2 L1037.9,1449.6 L1040.9,1450.0 L1043.9,1450.4 L1046.8,1450.8 L1049.8,1451.1 L1052.8,1451.5 L1055.8,1451.9 L1058.8,1452.2 L1061.8,1452.5 L1064.8,1452.9 L1067.8,1453.2 L1070.8,1453.5 L1073.8,1453.8 L1076.8,1454.1 L1079.8,1454.4 L1082.8,1454.7 L1085.8,1455.0 L1088.8,1455.3 L1091.8,1455.5 L1094.7,1455.8 L1097.7,1456.0 L1100.7,1456.3 L1103.7,1456.5 L1106.7,1456.8 L1109.7,1457.0 L1112.7,1457.2 L1115.7,1457.4 L1118.7,1457.7 L1121.7,1457.9 L1124.7,1458.1 L1127.7,1458.3 L1130.7,1458.4 L1133.7,1458.6 L1136.7,1458.8 L1139.7,1459.0 L1142.7,1459.1 L1145.7,1459.3 L1148.6,1459.5 L1151.6,1459.6 L1154.6,1459.8 L1157.6,1459.9 L1160.6,1460.0 L1163.6,1460.2 L1166.6,1460.3 L1169.6,1460.4 L1172.6,1460.5 L1175.6,1460.6 L1178.6,1460.7 L1181.6,1460.8 L1184.6,1460.9 L1187.6,1461.0 L1190.6,1461.1 L1193.6,1461.2 L1196.6,1461.3 L1199.6,1461.3 L1202.6,1461.4 L1205.6,1461.5 L1208.6,1461.5 L1211.6,1461.6 L1214.6,1461.7 L1217.5,1461.7 L1220.5,1461.8 L1223.5,1461.8 L1226.5,1461.8 L1229.5,1461.9 L1232.5,1461.9 L1235.5,1462.0 L1238.5,1462.0 L1241.5,1462.0 L1244.5,1462.1 L1247.5,1462.1 L1250.5,1462.1 L1253.5,1462.1 L1256.5,1462.1 L1259.5,1462.2 L1262.5,1462.2 L1265.5,1462.2 L1268.5,1462.2 L1271.5,1462.2 L1274.5,1462.2 L1277.5,1462.3 L1280.5,1462.3 L1283.5,1462.3 L1286.5,1462.3 L1289.5,1462.3 L1292.5,1462.3 L1295.5,1462.3 L1298.5,1462.3 L1301.5,1462.3 L1304.5,1462.3 L1307.5,1462.3 L1310.5,1462.3 L1313.5,1462.3 L1316.5,1462.4 L1319.5,1462.4 L1322.5,1462.4 L1325.5,1462.4 L1328.5,1462.4 L1331.5,1462.4 L1334.5,1462.4 L1337.5,1462.4 L1340.5,1462.5 L1343.5,1462.5 L1346.5,1462.5 L1349.5,1462.5 L1352.5,1462.5 L1355.5,1462.6 L1358.5,1462.6 L1361.5,1462.6 L1364.5,1462.6 L1367.5,1462.7 L1370.5,1462.7 L1373.5,1462.8 L1376.5,1462.8 L1379.5,1462.8 L1382.5,1462.9 L1385.5,1462.9 L1388.6,1463.0 L1391.6,1463.0 L1394.6,1463.1 L1397.6,1463.2 L1400.6,1463.2 L1403.6,1463.3 L1406.6,1463.4 L1409.6,1463.5 L1412.6,1463.5 L1415.6,1463.6 L1418.6,1463.7 L1421.6,1463.8 L1424.6,1463.9 L1427.6,1464.0 L1430.6,1464.1 L1433.6,1464.2 L1436.6,1464.3 L1439.6,1464.4 L1442.6,1464.5 L1445.6,1464.7 L1448.6,1464.8 L1451.6,1464.9 L1454.6,1465.0 L1457.6,1465.2 L1460.6,1465.3 L1463.6,1465.4 L1466.6,1465.5 L1469.6,1465.7 L1472.6,1465.8 L1475.6,1466.0 L1478.6,1466.1 L1481.6,1466.2 L1484.6,1466.4 L1487.6,1466.5 L1490.6,1466.7 L1493.6,1466.8 L1496.6,1467.0 L1499.6,1467.1 L1502.6,1467.3 L1505.6,1467.4 L1508.6,1467.6 L1511.6,1467.7 L1514.6,1467.9 L1517.6,1468.1 L1520.6,1468.2 L1523.7,1468.4 L1526.7,1468.5 L1529.7,1468.7 L1532.7,1468.9 L1535.7,1469.0 L1538.7,1469.2 L1541.7,1469.3 L1544.7,1469.5 L1547.7,1469.7 L1550.7,1469.8 L1553.7,1470.0 L1556.7,1470.1 L1559.7,1470.3 L1562.6,1470.5 L1565.6,1470.6 L1568.6,1470.8 L1571.6,1470.9 L1574.6,1471.1 L1577.6,1471.2 L1580.6,1471.4 L1583.6,1471.5 L1586.6,1471.7 L1589.6,1471.8 L1592.6,1472.0 L1595.6,1472.1 L1598.6,1472.3 L1601.6,1472.4 L1604.6,1472.6 L1607.6,1472.7 L1610.6,1472.8 L1613.6,1473.0 L1616.6,1473.1 L1619.6,1473.3 L1622.6,1473.4 L1625.6,1473.5 L1628.6,1473.6 L1631.6,1473.8 L1634.6,1473.9 L1637.6,1474.0 L1640.6,1474.1 L1643.6,1474.2 L1646.6,1474.3 L1649.6,1474.5 L1652.6,1474.6 L1655.6,1474.7 L1658.6,1474.8 L1661.6,1474.9 L1664.6,1475.0 L1667.6,1475.1 L1670.6,1475.2 L1673.6,1475.2 L1676.6,1475.3 L1679.6,1475.4 L1682.6,1475.5 L1685.6,1475.6 L1688.6,1475.7 L1691.6,1475.7 L1694.6,1475.8 L1697.6,1475.9 L1700.6,1476.0 L1703.6,1476.0 L1706.6,1476.1 L1709.6,1476.1 L1712.6,1476.2 L1715.6,1476.3 L1718.6,1476.3 L1721.5,1476.4 L1724.5,1476.4 L1727.5,1476.5 L1730.5,1476.5 L1733.5,1476.6 L1736.5,1476.6 L1739.5,1476.7 L1742.5,1476.7 L1745.5,1476.7 L1748.5,1476.8 L1751.5,1476.8 L1754.5,1476.8 L1757.5,1476.8 L1760.5,1476.9 L1763.5,1476.9 L1766.5,1476.9 L1769.5,1476.9 L1772.5,1477.0 L1775.5,1477.0 L1778.5,1477.0 L1781.5,1477.0 L1784.5,1477.0 L1787.5,1477.0 L1790.5,1477.0 L1793.5,1477.0 L1796.5,1477.0 L1799.5,1477.0 L1802.5,1477.0 L1805.5,1477.0 L1808.5,1477.0 L1811.5,1477.0 L1814.5,1477.0 L1817.5,1477.0 L1820.5,1477.0 L1823.5,1476.9 L1826.5,1476.9 L1829.5,1476.9 L1832.5,1476.9 L1835.5,1476.9 L1838.5,1476.8 L1841.5,1476.8 L1844.5,1476.8 L1847.5,1476.7 L1850.5,1476.7 L1853.5,1476.7 L1856.5,1476.6 L1859.5,1476.6 L1862.5,1476.6 L1865.5,1476.5 L1868.5,1476.5 L1871.5,1476.4 L1874.5,1476.4 L1877.5,1476.3 L1880.5,1476.3 L1883.4,1476.2 L1886.4,1476.2 L1889.4,1476.1 L1892.4,1476.0 L1895.4,1476.0 L1898.4,1475.9 L1901.4,1475.9 L1904.4,1475.8 L1907.4,1475.7 L1910.4,1475.7 L1913.4,1475.6 L1916.4,1475.5 L1919.4,1475.4 L1922.4,1475.4 L1925.4,1475.3 L1928.4,1475.2 L1931.4,1475.1 L1934.4,1475.1 L1937.4,1475.0 L1940.4,1474.9 L1943.4,1474.8 L1946.4,1474.7 L1949.4,1474.6 L1952.4,1474.5 L1955.4,1474.4 L1958.4,1474.3 L1961.4,1474.3 L1964.4,1474.2 L1967.4,1474.1 L1970.4,1474.0 L1973.4,1473.9 L1976.4,1473.8 L1979.4,1473.6 L1982.4,1473.5 L1985.4,1473.4 L1988.4,1473.3 L1991.4,1473.2 L1994.4,1473.1 L1997.4,1473.0 L2000.4,1472.9 L2003.4,1472.8 L2006.4,1472.6 L2009.4,1472.5 L2012.4,1472.4 L2015.4,1472.3 L2018.4,1472.2 L2021.4,1472.0 L2024.4,1471.9 L2027.4,1471.8 L2030.4,1471.7 L2033.4,1471.5 L2036.4,1471.4 L2039.4,1471.3 L2042.4,1471.1 L2045.4,1471.0 L2048.4,1470.9 L2051.4,1470.7 L2054.4,1470.6 L2057.4,1470.5 L2060.4,1470.3 L2063.4,1470.2 L2066.4,1470.0 L2069.4,1469.9 L2072.4,1469.7 L2075.4,1469.6 L2078.4,1469.4 L2081.4,1469.3 L2081.6,1475.0 L2078.6,1475.1 L2075.6,1475.3 L2072.6,1475.4 L2069.6,1475.6 L2066.6,1475.7 L2063.6,1475.9 L2060.6,1476.0 L2057.6,1476.1 L2054.6,1476.3 L2051.6,1476.4 L2048.6,1476.6 L2045.6,1476.7 L2042.6,1476.8 L2039.6,1477.0 L2036.6,1477.1 L2033.6,1477.2 L2030.6,1477.4 L2027.6,1477.5 L2024.6,1477.6 L2021.6,1477.7 L2018.6,1477.9 L2015.6,1478.0 L2012.6,1478.1 L2009.6,1478.2 L2006.6,1478.3 L2003.6,1478.5 L2000.6,1478.6 L1997.6,1478.7 L1994.6,1478.8 L1991.6,1478.9 L1988.6,1479.0 L1985.6,1479.1 L1982.6,1479.2 L1979.6,1479.3 L1976.6,1479.5 L1973.6,1479.6 L1970.6,1479.7 L1967.6,1479.8 L1964.6,1479.9 L1961.6,1480.0 L1958.6,1480.0 L1955.6,1480.1 L1952.6,1480.2 L1949.6,1480.3 L1946.6,1480.4 L1943.6,1480.5 L1940.6,1480.6 L1937.6,1480.7 L1934.6,1480.8 L1931.6,1480.8 L1928.6,1480.9 L1925.6,1481.0 L1922.6,1481.1 L1919.6,1481.1 L1916.6,1481.2 L1913.6,1481.3 L1910.6,1481.4 L1907.6,1481.4 L1904.6,1481.5 L1901.6,1481.6 L1898.6,1481.6 L1895.6,1481.7 L1892.6,1481.7 L1889.6,1481.8 L1886.6,1481.9 L1883.6,1481.9 L1880.5,1482.0 L1877.5,1482.0 L1874.5,1482.1 L1871.5,1482.1 L1868.5,1482.2 L1865.5,1482.2 L1862.5,1482.3 L1859.5,1482.3 L1856.5,1482.3 L1853.5,1482.4 L1850.5,1482.4 L1847.5,1482.4 L1844.5,1482.5 L1841.5,1482.5 L1838.5,1482.5 L1835.5,1482.6 L1832.5,1482.6 L1829.5,1482.6 L1826.5,1482.6 L1823.5,1482.6 L1820.5,1482.7 L1817.5,1482.7 L1814.5,1482.7 L1811.5,1482.7 L1808.5,1482.7 L1805.5,1482.7 L1802.5,1482.7 L1799.5,1482.7 L1796.5,1482.7 L1793.5,1482.7 L1790.5,1482.7 L1787.5,1482.7 L1784.5,1482.7 L1781.5,1482.7 L1778.5,1482.7 L1775.5,1482.7 L1772.5,1482.7 L1769.5,1482.6 L1766.5,1482.6 L1763.5,1482.6 L1760.5,1482.6 L1757.5,1482.5 L1754.5,1482.5 L1751.5,1482.5 L1748.5,1482.5 L1745.5,1482.4 L1742.5,1482.4 L1739.5,1482.3 L1736.5,1482.3 L1733.5,1482.3 L1730.5,1482.2 L1727.5,1482.2 L1724.5,1482.1 L1721.5,1482.1 L1718.4,1482.0 L1715.4,1482.0 L1712.4,1481.9 L1709.4,1481.8 L1706.4,1481.8 L1703.4,1481.7 L1700.4,1481.6 L1697.4,1481.6 L1694.4,1481.5 L1691.4,1481.4 L1688.4,1481.4 L1685.4,1481.3 L1682.4,1481.2 L1679.4,1481.1 L1676.4,1481.0 L1673.4,1480.9 L1670.4,1480.9 L1667.4,1480.8 L1664.4,1480.7 L1661.4,1480.6 L1658.4,1480.5 L1655.4,1480.4 L1652.4,1480.3 L1649.4,1480.2 L1646.4,1480.0 L1643.4,1479.9 L1640.4,1479.8 L1637.4,1479.7 L1634.4,1479.6 L1631.4,1479.5 L1628.4,1479.3 L1625.4,1479.2 L1622.4,1479.1 L1619.4,1478.9 L1616.4,1478.8 L1613.4,1478.7 L1610.4,1478.5 L1607.4,1478.4 L1604.4,1478.3 L1601.4,1478.1 L1598.4,1478.0 L1595.4,1477.8 L1592.4,1477.7 L1589.4,1477.5 L1586.4,1477.4 L1583.4,1477.2 L1580.4,1477.1 L1577.4,1476.9 L1574.4,1476.8 L1571.4,1476.6 L1568.4,1476.5 L1565.4,1476.3 L1562.4,1476.1 L1559.3,1476.0 L1556.3,1475.8 L1553.3,1475.7 L1550.3,1475.5 L1547.3,1475.3 L1544.3,1475.2 L1541.3,1475.0 L1538.3,1474.9 L1535.3,1474.7 L1532.3,1474.5 L1529.3,1474.4 L1526.3,1474.2 L1523.3,1474.1 L1520.4,1473.9 L1517.4,1473.8 L1514.4,1473.6 L1511.4,1473.4 L1508.4,1473.3 L1505.4,1473.1 L1502.4,1473.0 L1499.4,1472.8 L1496.4,1472.7 L1493.4,1472.5 L1490.4,1472.4 L1487.4,1472.2 L1484.4,1472.1 L1481.4,1471.9 L1478.4,1471.8 L1475.4,1471.7 L1472.4,1471.5 L1469.4,1471.4 L1466.4,1471.2 L1463.4,1471.1 L1460.4,1471.0 L1457.4,1470.9 L1454.4,1470.7 L1451.4,1470.6 L1448.4,1470.5 L1445.4,1470.4 L1442.4,1470.2 L1439.4,1470.1 L1436.4,1470.0 L1433.4,1469.9 L1430.4,1469.8 L1427.4,1469.7 L1424.4,1469.6 L1421.4,1469.5 L1418.4,1469.4 L1415.4,1469.3 L1412.4,1469.2 L1409.4,1469.2 L1406.4,1469.1 L1403.4,1469.0 L1400.4,1468.9 L1397.4,1468.9 L1394.4,1468.8 L1391.4,1468.7 L1388.4,1468.7 L1385.5,1468.6 L1382.5,1468.6 L1379.5,1468.5 L1376.5,1468.5 L1373.5,1468.5 L1370.5,1468.4 L1367.5,1468.4 L1364.5,1468.3 L1361.5,1468.3 L1358.5,1468.3 L1355.5,1468.3 L1352.5,1468.2 L1349.5,1468.2 L1346.5,1468.2 L1343.5,1468.2 L1340.5,1468.2 L1337.5,1468.1 L1334.5,1468.1 L1331.5,1468.1 L1328.5,1468.1 L1325.5,1468.1 L1322.5,1468.1 L1319.5,1468.1 L1316.5,1468.1 L1313.5,1468.0 L1310.5,1468.0 L1307.5,1468.0 L1304.5,1468.0 L1301.5,1468.0 L1298.5,1468.0 L1295.5,1468.0 L1292.5,1468.0 L1289.5,1468.0 L1286.5,1468.0 L1283.5,1468.0 L1280.5,1468.0 L1277.5,1468.0 L1274.5,1467.9 L1271.5,1467.9 L1268.5,1467.9 L1265.5,1467.9 L1262.5,1467.9 L1259.5,1467.9 L1256.5,1467.8 L1253.5,1467.8 L1250.5,1467.8 L1247.5,1467.8 L1244.5,1467.8 L1241.5,1467.7 L1238.5,1467.7 L1235.5,1467.7 L1232.5,1467.6 L1229.5,1467.6 L1226.5,1467.5 L1223.5,1467.5 L1220.5,1467.5 L1217.5,1467.4 L1214.4,1467.4 L1211.4,1467.3 L1208.4,1467.2 L1205.4,1467.2 L1202.4,1467.1 L1199.4,1467.0 L1196.4,1467.0 L1193.4,1466.9 L1190.4,1466.8 L1187.4,1466.7 L1184.4,1466.6 L1181.4,1466.5 L1178.4,1466.4 L1175.4,1466.3 L1172.4,1466.2 L1169.4,1466.1 L1166.4,1466.0 L1163.4,1465.9 L1160.4,1465.7 L1157.4,1465.6 L1154.4,1465.4 L1151.4,1465.3 L1148.4,1465.2 L1145.3,1465.0 L1142.3,1464.8 L1139.3,1464.7 L1136.3,1464.5 L1133.3,1464.3 L1130.3,1464.1 L1127.3,1463.9 L1124.3,1463.8 L1121.3,1463.6 L1118.3,1463.3 L1115.3,1463.1 L1112.3,1462.9 L1109.3,1462.7 L1106.3,1462.5 L1103.3,1462.2 L1100.3,1462.0 L1097.3,1461.7 L1094.3,1461.5 L1091.2,1461.2 L1088.2,1460.9 L1085.2,1460.7 L1082.2,1460.4 L1079.2,1460.1 L1076.2,1459.8 L1073.2,1459.5 L1070.2,1459.2 L1067.2,1458.9 L1064.2,1458.5 L1061.2,1458.2 L1058.2,1457.9 L1055.2,1457.5 L1052.2,1457.2 L1049.2,1456.8 L1046.2,1456.4 L1043.1,1456.1 L1040.1,1455.7 L1037.1,1455.3 L1034.1,1454.9 L1031.1,1454.5 L1028.1,1454.1 L1025.1,1453.6 L1022.1,1453.2 L1019.1,1452.8 L1016.1,1452.3 L1013.1,1451.9 L1010.1,1451.4 L1007.1,1450.9 L1004.0,1450.5 L1001.0,1450.0 L998.0,1449.5 L995.0,1449.0 L992.0,1448.5 L989.0,1447.9 L986.0,1447.4 L983.0,1446.9 L980.0,1446.3 L977.0,1445.8 L974.0,1445.2 L971.0,1444.6 L968.0,1444.0 L964.9,1443.5 L961.9,1442.9 L958.9,1442.2 L955.9,1441.6 L952.9,1441.0 L949.9,1440.4 L946.9,1439.7 L943.9,1439.1 L940.9,1438.4 L937.9,1437.7 L934.9,1437.0 L931.9,1436.3 L928.8,1435.6 L925.8,1434.9 L922.8,1434.2 L919.8,1433.5 L916.8,1432.7 L913.8,1432.0 L910.8,1431.2 L907.8,1430.5 L904.8,1429.7 L901.8,1428.9 L898.8,1428.1 L895.8,1427.3 L892.7,1426.5 L889.7,1425.6 L886.7,1424.8 L883.7,1424.0 L880.7,1423.1 L877.7,1422.2 L874.7,1421.4 L871.7,1420.5 L868.7,1419.6 L865.7,1418.7 L862.7,1417.8 L859.7,1416.9 L856.7,1415.9 L853.6,1415.0 L850.6,1414.0 L847.6,1413.1 L844.6,1412.1 L841.6,1411.1 L838.6,1410.1 L835.6,1409.1 L832.6,1408.1 L829.6,1407.1 L826.6,1406.1 L823.6,1405.1 L820.6,1404.0 L817.6,1403.0 L814.6,1401.9 L811.6,1400.9 L808.6,1399.9 L805.6,1398.8 L802.6,1397.7 L799.6,1396.7 L796.5,1395.6 L793.5,1394.6 L790.5,1393.5 L787.5,1392.4 L784.5,1391.4 L781.5,1390.3 L778.5,1389.2 L775.5,1388.2 L772.5,1387.1 L769.6,1386.1 L766.6,1385.0 L763.6,1383.9 L760.6,1382.9 L757.6,1381.8 L754.6,1380.8 L751.6,1379.7 L748.6,1378.7 L745.6,1377.7 L742.6,1376.7 L739.6,1375.6 L736.6,1374.6 L733.6,1373.6 L730.6,1372.6 L727.6,1371.6 L724.6,1370.6 L721.6,1369.7 L718.6,1368.7 L715.6,1367.7 L712.6,1366.8 L709.6,1365.8 L706.6,1364.9 L703.6,1363.9 L700.7,1363.0 L697.7,1362.1 L694.7,1361.1 L691.7,1360.2 L688.7,1359.3 L685.7,1358.4 L682.7,1357.5 L679.7,1356.7 L676.7,1355.8 L673.7,1354.9 L670.7,1354.1 L667.7,1353.2 L664.7,1352.4 L661.7,1351.6 L658.8,1350.8 L655.8,1349.9 L652.8,1349.1 L649.8,1348.3 L646.8,1347.6 L643.8,1346.8 L640.8,1346.0 L637.8,1345.3 L634.8,1344.5 L631.8,1343.8 L628.8,1343.1 L625.8,1342.3 L622.8,1341.6 L619.9,1340.9 L616.9,1340.2 L613.9,1339.6 L610.9,1338.9 L607.9,1338.2 L604.9,1337.6 L601.9,1337.0 L598.9,1336.3 L595.9,1335.7 L592.9,1335.1 L590.0,1334.5 L587.0,1334.0 L584.0,1333.4 L581.0,1332.8 L578.0,1332.3 L575.0,1331.7 L572.0,1331.2 L569.0,1330.7 L566.0,1330.2 L563.0,1329.7 L560.1,1329.2 L557.1,1328.8 L554.1,1328.3 L551.1,1327.9 L548.1,1327.5 L545.1,1327.0 L542.1,1326.6 L539.1,1326.2 L536.1,1325.9 L533.2,1325.5 L530.2,1325.2 L527.2,1324.8 L524.2,1324.5 L521.2,1324.2 L518.2,1323.9 L515.2,1323.6 L512.2,1323.3 L509.3,1323.1 L506.3,1322.8 L503.3,1322.6 L500.3,1322.4 L497.3,1322.2 L494.3,1322.0 L491.3,1321.8 L488.4,1321.7 L485.4,1321.5 L482.4,1321.4 L479.4,1321.3 L476.4,1321.2 L473.4,1321.1 L470.4,1321.0 L467.4,1320.9 L464.5,1320.9 L461.5,1320.8 L458.5,1320.8 L455.5,1320.8 L452.5,1320.8 L449.5,1320.8 L446.5,1320.9 L443.5,1320.9 L440.6,1321.0 L437.6,1321.0 L434.6,1321.1 L431.6,1321.2 L428.6,1321.3 L425.6,1321.4 L422.6,1321.6 L419.6,1321.7 L416.7,1321.9 L413.7,1322.0 L410.7,1322.2 L407.7,1322.4 L404.7,1322.6 L401.7,1322.8 L398.7,1323.1 L395.7,1323.3 L392.8,1323.6 L389.8,1323.8 L386.8,1324.1 L383.8,1324.4 L380.8,1324.7 L377.8,1325.0 L374.8,1325.4 L371.8,1325.7 L368.8,1326.1 L365.9,1326.4 L362.9,1326.8 L359.9,1327.2 L356.9,1327.6 L353.9,1328.0 L350.9,1328.4 L347.9,1328.9 L344.9,1329.3 L341.9,1329.8 L338.9,1330.2 L336.0,1330.7 L333.0,1331.2 L330.0,1331.7 L327.0,1332.2 L324.0,1332.7 L321.0,1333.3 L318.0,1333.8 L315.0,1334.4 L312.0,1334.9 L309.0,1335.5 L306.1,1336.1 L303.1,1336.7 L300.1,1337.3 L297.1,1337.9 L294.1,1338.5 L291.1,1339.2 L288.1,1339.8 L285.1,1340.5 L282.1,1341.2 L279.1,1341.8 L276.0,1342.6 L272.8,1343.0 L269.8,1343.3 L266.8,1343.7 L263.8,1344.0 L260.8,1344.4 L257.8,1344.7 L254.8,1345.1 L251.8,1345.4 L248.8,1345.8 L245.8,1346.1Z" fill="#580088"/>
<path d="M247.2,55.6 L248.7,56.7 L250.2,57.7 L251.7,58.8 L253.2,59.9 L254.7,61.0 L256.2,62.0 L257.7,63.1 L259.2,64.2 L260.7,65.3 L262.2,66.4 L263.7,67.4 L265.2,68.5 L266.7,69.6 L268.2,70.7 L269.7,71.7 L271.2,72.8 L272.7,73.9 L274.4,75.2 L275.7,76.7 L276.6,76.8 L278.3,77.6 L279.9,78.5 L281.4,79.4 L282.9,80.2 L284.9,81.5 L286.6,83.5 L288.0,85.0 L289.1,85.9 L290.2,86.4 L291.6,87.0 L293.1,87.6 L294.6,88.3 L296.7,89.2 L298.6,91.1 L300.0,92.6 L301.2,93.7 L302.3,94.2 L303.8,95.0 L305.3,95.7 L306.8,96.5 L308.8,97.6 L310.7,99.8 L312.1,101.7 L313.0,102.3 L314.2,102.8 L315.7,103.5 L317.2,104.2 L318.7,104.9 L320.6,105.8 L322.5,107.5 L324.1,109.3 L325.3,110.6 L326.3,111.0 L327.8,111.7 L329.3,112.5 L330.8,113.2 L332.6,114.2 L334.6,115.9 L336.1,117.7 L337.2,118.7 L338.4,119.4 L339.9,120.2 L341.4,121.1 L342.9,121.9 L344.6,122.9 L346.4,124.3 L348.0,125.9 L349.4,127.4 L350.5,128.3 L351.7,128.8 L353.2,129.5 L354.7,130.2 L356.5,131.0 L358.6,132.6 L360.3,135.0 L361.5,136.7 L362.4,137.1 L363.9,137.9 L365.4,138.7 L366.9,139.6 L368.6,140.6 L370.6,142.1 L372.3,144.5 L373.6,146.3 L374.7,147.1 L376.1,148.0 L377.4,148.9 L378.8,149.6 L380.3,150.3 L382.3,151.4 L384.2,153.5 L385.6,155.2 L386.7,156.3 L387.8,156.7 L389.5,157.7 L391.0,158.7 L392.5,159.6 L394.6,161.0 L396.4,163.6 L397.8,165.9 L398.8,166.9 L400.1,167.7 L401.5,168.6 L403.0,169.5 L404.5,170.5 L406.4,171.7 L408.2,173.7 L409.7,175.7 L410.9,177.1 L411.9,177.7 L413.4,178.6 L415.0,179.5 L416.5,180.4 L418.3,181.5 L420.2,183.5 L421.7,185.7 L423.0,187.1 L424.2,188.0 L425.7,189.2 L427.2,190.3 L428.7,191.5 L430.4,192.8 L432.2,194.7 L433.8,196.8 L435.1,198.7 L436.1,199.3 L437.6,200.3 L439.1,201.3 L440.6,202.3 L442.3,203.4 L444.2,205.3 L445.9,207.7 L447.1,209.7 L448.2,210.4 L449.7,211.5 L451.2,212.7 L452.7,213.8 L454.3,215.0 L456.2,216.7 L457.9,219.1 L459.2,221.1 L460.4,222.3 L461.8,223.3 L463.3,224.5 L464.7,225.7 L466.2,226.8 L468.1,228.3 L469.8,230.7 L471.3,232.8 L472.4,234.2 L473.5,234.8 L475.0,235.8 L476.6,236.8 L478.2,238.0 L480.2,239.6 L482.0,242.6 L483.3,245.2 L484.5,246.3 L485.9,247.5 L487.4,248.8 L488.9,250.1 L490.4,251.3 L492.2,252.9 L493.9,255.5 L495.4,257.9 L496.6,259.8 L497.8,260.6 L499.2,261.7 L500.6,262.7 L502.1,263.7 L504.0,265.0 L505.8,267.4 L507.4,270.0 L508.6,272.1 L509.6,272.5 L511.2,273.6 L512.7,274.7 L514.2,275.8 L516.1,277.3 L518.0,279.9 L519.5,283.1 L520.7,285.5 L521.6,285.9 L523.0,286.8 L524.5,287.8 L526.0,288.7 L527.9,290.0 L529.9,292.3 L531.5,295.5 L532.7,297.9 L533.6,298.2 L535.2,299.3 L536.7,300.4 L538.2,301.5 L539.9,302.7 L541.8,304.7 L543.5,307.8 L544.8,310.5 L545.9,311.4 L547.4,312.7 L548.9,314.0 L550.4,315.3 L552.0,316.7 L553.8,318.6 L555.4,321.3 L556.7,323.5 L557.8,324.3 L559.2,325.3 L560.7,326.4 L562.2,327.5 L563.7,328.6 L565.7,330.3 L567.4,333.1 L568.8,335.4 L570.0,336.8 L571.4,338.1 L572.9,339.4 L574.4,340.8 L575.9,342.1 L577.7,343.9 L579.4,346.4 L581.0,349.0 L582.2,351.3 L583.2,351.9 L584.7,353.1 L586.1,354.1 L587.4,354.9 L589.6,356.3 L591.4,359.0 L592.9,361.7 L593.9,363.0 L595.1,363.7 L596.6,364.7 L598.3,366.0 L599.8,367.2 L601.6,368.8 L603.4,371.2 L604.9,373.8 L606.1,375.5 L607.4,376.6 L608.8,377.9 L610.3,379.0 L611.8,380.2 L613.4,381.5 L615.2,383.4 L616.9,385.7 L618.2,388.0 L619.1,388.5 L620.7,389.5 L622.1,390.6 L623.6,391.7 L625.4,392.9 L627.3,394.9 L628.9,397.6 L630.2,399.8 L631.2,400.5 L632.5,401.3 L634.0,402.2 L635.5,403.0 L637.1,404.1 L639.2,405.8 L640.9,408.5 L642.2,410.6 L643.1,411.2 L644.5,412.0 L646.0,412.9 L647.4,413.8 L649.0,414.7 L651.1,416.1 L652.9,418.8 L654.3,420.9 L655.4,422.2 L656.5,422.8 L657.9,423.7 L659.4,424.5 L660.9,425.4 L663.1,426.8 L664.9,429.4 L666.0,431.3 L666.9,431.6 L668.5,432.5 L669.9,433.4 L671.4,434.3 L673.0,435.2 L674.9,436.4 L676.7,438.4 L678.2,440.3 L679.5,441.9 L680.5,442.5 L682.0,443.4 L683.5,444.3 L684.9,445.2 L686.8,446.3 L688.7,448.3 L690.2,450.3 L691.3,451.5 L692.4,452.1 L693.9,452.9 L695.4,453.7 L696.9,454.6 L698.7,455.6 L700.6,457.4 L702.1,459.4 L703.3,460.5 L704.5,461.3 L706.0,462.2 L707.4,463.0 L708.9,463.9 L710.6,464.8 L712.4,466.2 L714.0,467.8 L715.4,469.2 L716.5,470.1 L717.7,470.6 L719.3,471.4 L720.8,472.1 L722.5,473.0 L724.5,474.4 L726.2,476.6 L727.5,478.3 L728.4,478.9 L729.7,479.5 L731.2,480.2 L732.7,480.9 L734.3,481.7 L736.5,483.1 L738.3,485.5 L739.5,487.2 L740.3,487.6 L741.7,488.2 L743.2,488.9 L744.7,489.5 L746.2,490.2 L748.3,491.3 L750.2,493.4 L751.5,495.0 L752.5,495.7 L753.9,496.5 L755.4,497.3 L756.9,498.1 L758.4,499.0 L760.3,500.1 L762.1,501.9 L763.6,503.5 L764.6,504.6 L765.5,504.9 L767.0,505.5 L768.5,506.0 L770.0,506.6 L772.2,507.5 L774.2,509.5 L775.6,511.4 L776.6,512.4 L777.7,512.9 L779.2,513.6 L780.7,514.3 L782.2,515.1 L784.1,516.0 L786.0,517.6 L787.6,519.3 L788.7,520.5 L789.6,520.8 L791.1,521.5 L792.6,522.1 L794.1,522.8 L796.0,523.6 L797.9,525.1 L799.7,527.0 L800.8,528.4 L801.5,528.6 L803.0,529.2 L804.5,529.8 L806.0,530.3 L807.8,531.0 L809.9,532.4 L811.7,534.5 L812.7,535.8 L813.5,535.8 L815.2,536.6 L816.8,537.4 L818.4,538.3 L820.0,539.2 L821.9,540.5 L823.6,542.3 L825.0,543.9 L826.1,544.9 L827.1,545.3 L828.4,545.8 L829.9,546.3 L831.5,546.9 L833.8,547.9 L835.7,550.1 L836.9,551.7 L837.8,552.1 L839.1,552.6 L840.6,553.3 L842.1,553.9 L843.6,554.5 L845.8,555.6 L847.7,557.7 L849.1,559.4 L850.2,560.4 L851.4,561.1 L852.9,561.9 L854.4,562.7 L855.9,563.5 L857.9,564.7 L859.8,567.0 L861.1,568.9 L862.0,569.5 L863.3,570.1 L864.8,570.9 L866.3,571.6 L867.8,572.4 L869.6,573.3 L871.5,574.9 L873.2,576.8 L874.4,578.4 L875.3,578.7 L876.8,579.4 L878.3,580.2 L879.8,580.9 L881.7,581.9 L883.7,583.8 L885.1,585.8 L886.2,586.8 L887.4,587.4 L888.9,588.2 L890.4,589.1 L891.9,589.9 L893.6,590.9 L895.5,592.4 L897.2,594.3 L898.4,595.7 L899.5,596.3 L901.0,597.3 L902.5,598.2 L904.0,599.1 L905.5,600.0 L907.4,601.3 L909.1,603.0 L910.5,604.5 L911.6,605.5 L912.6,605.9 L914.1,606.5 L915.7,607.2 L917.4,608.0 L919.6,609.5 L921.4,612.1 L922.6,614.0 L923.6,614.7 L924.8,615.3 L926.3,616.1 L927.9,616.9 L929.4,617.7 L931.6,619.1 L933.4,621.8 L934.7,623.8 L935.7,624.8 L936.8,625.4 L938.2,626.1 L939.7,626.8 L941.2,627.5 L943.4,628.7 L945.3,631.1 L946.7,633.1 L947.6,634.0 L948.8,634.6 L950.3,635.3 L951.8,636.1 L953.3,636.9 L955.3,637.9 L957.2,639.9 L958.6,641.7 L959.8,642.8 L961.1,643.8 L962.6,644.8 L964.1,645.9 L965.6,646.9 L967.4,648.2 L969.2,650.1 L970.6,652.0 L971.7,653.1 L972.9,653.7 L974.4,654.5 L975.9,655.3 L977.4,656.1 L979.1,657.1 L980.9,658.5 L982.7,660.4 L984.0,662.4 L984.9,662.8 L986.4,663.6 L987.9,664.5 L989.4,665.4 L991.2,666.4 L993.1,668.0 L994.8,670.2 L996.0,671.9 L996.8,672.3 L998.2,672.9 L999.7,673.6 L1001.2,674.3 L1003.0,675.2 L1005.1,676.8 L1006.9,679.3 L1008.2,681.2 L1009.1,682.0 L1010.4,682.7 L1011.9,683.6 L1013.3,684.4 L1014.8,685.1 L1016.9,686.3 L1018.8,688.8 L1020.0,690.5 L1020.9,690.8 L1022.3,691.6 L1023.8,692.4 L1025.4,693.2 L1026.9,694.1 L1028.8,695.2 L1030.7,697.2 L1032.0,698.8 L1033.1,699.8 L1034.4,700.5 L1035.9,701.3 L1037.4,702.2 L1038.9,703.1 L1040.8,704.2 L1042.6,706.0 L1044.1,707.8 L1045.3,709.1 L1046.3,709.5 L1047.8,710.3 L1049.3,711.1 L1050.8,711.9 L1052.8,712.9 L1054.7,714.9 L1056.2,717.0 L1057.3,718.4 L1058.2,718.7 L1059.7,719.4 L1061.2,720.1 L1062.7,720.8 L1064.6,721.8 L1066.7,723.7 L1068.3,725.9 L1069.4,727.5 L1070.2,727.7 L1071.7,728.5 L1073.2,729.2 L1074.7,729.9 L1076.6,730.8 L1078.7,732.6 L1080.3,735.0 L1081.3,736.6 L1082.0,736.4 L1083.9,737.4 L1085.4,738.2 L1086.9,739.1 L1088.5,739.9 L1090.4,741.3 L1092.1,743.1 L1093.5,744.7 L1094.6,745.6 L1095.9,746.3 L1097.4,747.1 L1098.9,748.0 L1100.5,748.9 L1102.4,750.2 L1104.2,752.2 L1105.5,753.8 L1106.5,754.7 L1107.6,755.1 L1109.1,755.7 L1110.6,756.3 L1112.1,757.0 L1114.4,758.0 L1116.3,760.4 L1117.5,762.0 L1118.3,762.5 L1119.7,763.1 L1121.2,763.8 L1122.7,764.5 L1124.2,765.2 L1126.2,766.2 L1128.1,768.1 L1129.5,769.7 L1130.6,770.6 L1131.6,771.0 L1133.1,771.7 L1134.7,772.3 L1136.2,773.1 L1138.2,774.0 L1140.1,775.9 L1141.5,777.5 L1142.5,778.3 L1143.9,779.0 L1145.4,779.8 L1146.8,780.6 L1148.3,781.4 L1150.1,782.4 L1151.9,783.7 L1153.6,785.3 L1154.8,786.8 L1155.6,787.0 L1156.9,787.5 L1158.3,787.9 L1159.8,788.4 L1161.7,788.9 L1163.8,790.3 L1165.6,792.1 L1166.6,793.3 L1167.3,793.3 L1169.0,793.9 L1170.5,794.5 L1172.0,795.0 L1173.8,795.7 L1175.9,797.1 L1177.7,799.2 L1178.8,800.6 L1179.6,800.8 L1181.0,801.4 L1182.5,802.0 L1184.0,802.6 L1185.7,803.2 L1187.9,804.4 L1189.7,806.5 L1190.8,807.9 L1191.6,808.2 L1192.8,808.6 L1194.3,809.0 L1195.8,809.5 L1197.4,809.9 L1199.7,810.9 L1201.6,812.9 L1202.9,814.5 L1203.8,815.0 L1205.1,815.5 L1206.6,816.1 L1208.1,816.8 L1209.6,817.4 L1211.6,818.3 L1213.5,820.1 L1214.7,821.3 L1215.6,821.7 L1217.0,822.2 L1218.5,822.7 L1219.9,823.2 L1221.5,823.8 L1223.4,824.5 L1225.3,825.9 L1226.9,827.3 L1227.9,828.3 L1228.8,828.5 L1230.3,828.9 L1231.8,829.4 L1233.3,829.8 L1235.4,830.5 L1237.4,832.1 L1238.8,833.5 L1239.8,834.1 L1241.0,834.6 L1242.5,835.1 L1244.0,835.7 L1245.4,836.2 L1247.2,836.8 L1249.1,837.9 L1250.9,839.2 L1252.0,840.4 L1252.7,840.4 L1254.2,840.8 L1255.9,841.3 L1257.4,841.9 L1259.3,842.5 L1261.3,843.8 L1263.1,845.6 L1264.0,846.7 L1264.8,846.7 L1266.5,847.4 L1267.9,847.9 L1269.4,848.4 L1271.0,849.0 L1272.9,849.8 L1274.6,851.0 L1276.0,852.0 L1277.1,852.6 L1278.2,852.8 L1279.7,853.2 L1281.2,853.6 L1282.8,853.9 L1285.0,854.7 L1286.9,856.4 L1287.9,857.4 L1288.6,857.4 L1290.2,857.8 L1291.7,858.2 L1293.2,858.5 L1294.7,858.9 L1296.6,859.4 L1298.5,860.5 L1300.0,861.4 L1301.2,862.1 L1302.4,862.5 L1303.9,863.0 L1305.4,863.5 L1306.9,864.0 L1308.8,864.6 L1310.7,865.9 L1312.0,867.0 L1313.1,867.5 L1314.3,867.9 L1315.8,868.3 L1317.3,868.8 L1318.8,869.2 L1320.6,869.8 L1322.4,870.8 L1324.0,871.7 L1325.0,872.4 L1325.9,872.4 L1327.4,872.7 L1328.9,872.9 L1330.4,873.1 L1332.5,873.4 L1334.6,874.6 L1336.1,875.8 L1337.1,876.3 L1338.3,876.6 L1339.8,877.1 L1341.3,877.5 L1342.7,877.9 L1344.3,878.2 L1346.2,878.9 L1347.9,879.9 L1349.0,880.6 L1350.0,880.7 L1351.5,880.9 L1353.0,881.2 L1354.6,881.5 L1356.3,881.9 L1358.3,882.6 L1360.0,883.7 L1361.1,884.4 L1362.1,884.5 L1363.7,884.9 L1365.2,885.3 L1366.7,885.7 L1368.3,886.1 L1370.1,886.7 L1371.8,887.6 L1373.2,888.3 L1374.3,888.7 L1375.6,889.0 L1377.1,889.3 L1378.6,889.7 L1380.2,890.0 L1382.1,890.5 L1383.9,891.5 L1385.2,892.3 L1386.3,892.7 L1387.5,892.9 L1389.0,893.2 L1390.5,893.4 L1392.0,893.7 L1394.0,894.1 L1395.9,895.1 L1397.1,895.8 L1398.2,896.1 L1399.7,896.5 L1401.2,896.8 L1402.7,897.2 L1404.2,897.5 L1405.9,898.0 L1407.8,898.8 L1409.2,899.6 L1410.2,900.0 L1411.1,900.0 L1412.6,900.1 L1414.1,900.1 L1415.6,900.2 L1417.5,900.3 L1419.6,901.0 L1421.1,901.8 L1422.1,902.2 L1423.3,902.2 L1424.8,902.4 L1426.3,902.5 L1427.8,902.7 L1429.6,902.9 L1431.7,903.5 L1433.5,904.6 L1434.6,905.3 L1435.5,905.4 L1437.0,905.7 L1438.5,906.0 L1440.0,906.3 L1441.5,906.6 L1443.3,906.9 L1445.1,907.7 L1446.1,908.1 L1447.0,908.1 L1448.5,908.0 L1450.0,908.0 L1451.5,908.0 L1453.3,908.1 L1455.4,908.5 L1457.3,909.4 L1458.3,909.9 L1459.3,910.0 L1460.8,910.1 L1462.3,910.3 L1464.0,910.5 L1465.6,910.8 L1467.5,911.3 L1469.3,912.3 L1470.7,913.0 L1471.7,913.4 L1472.9,913.6 L1474.2,913.8 L1475.5,913.8 L1477.0,913.8 L1479.2,913.9 L1481.2,914.8 L1482.3,915.4 L1483.3,915.5 L1484.6,915.5 L1486.0,915.5 L1487.5,915.5 L1489.0,915.5 L1491.0,915.6 L1492.9,916.2 L1494.3,916.7 L1495.3,917.0 L1496.5,916.9 L1498.0,916.9 L1499.5,916.9 L1501.0,916.9 L1502.9,917.0 L1505.0,917.6 L1506.3,918.1 L1507.4,918.3 L1508.8,918.5 L1510.3,918.6 L1511.8,918.7 L1513.3,918.9 L1515.0,919.0 L1516.9,919.5 L1518.5,920.1 L1519.5,920.5 L1520.6,920.5 L1522.1,920.6 L1523.6,920.6 L1525.1,920.7 L1526.8,920.7 L1528.8,921.1 L1530.5,921.7 L1531.7,922.2 L1532.9,922.3 L1534.4,922.5 L1535.9,922.7 L1537.3,922.8 L1539.0,923.0 L1540.6,923.4 L1542.2,923.7 L1543.5,924.1 L1544.6,924.2 L1545.8,924.1 L1547.3,924.0 L1548.8,923.9 L1550.4,923.8 L1552.6,923.9 L1554.5,924.6 L1555.4,925.0 L1556.4,924.9 L1558.0,924.9 L1559.5,924.9 L1561.1,924.9 L1562.8,925.0 L1564.8,925.3 L1566.5,926.0 L1567.9,926.5 L1569.0,926.8 L1570.4,927.0 L1571.9,927.2 L1573.2,927.4 L1574.5,927.4 L1576.3,927.4 L1578.2,927.8 L1579.5,928.1 L1580.6,928.2 L1582.0,928.2 L1583.5,928.2 L1585.0,928.2 L1586.4,928.2 L1588.2,928.2 L1590.0,928.4 L1591.5,928.7 L1592.7,928.9 L1593.9,928.8 L1595.5,928.8 L1597.1,928.9 L1598.6,928.9 L1600.3,929.0 L1602.1,929.3 L1603.8,929.8 L1604.9,930.1 L1606.1,930.1 L1607.6,930.2 L1609.1,930.2 L1610.6,930.3 L1612.4,930.4 L1614.4,930.8 L1616.0,931.5 L1617.0,931.9 L1617.9,931.8 L1619.4,931.7 L1620.9,931.6 L1622.4,931.5 L1624.1,931.5 L1626.0,931.7 L1627.9,932.2 L1629.0,932.6 L1630.2,932.6 L1631.8,932.8 L1633.3,932.9 L1634.8,933.1 L1636.4,933.3 L1638.2,933.6 L1639.8,934.0 L1641.0,934.4 L1642.2,934.5 L1643.6,934.5 L1645.1,934.5 L1646.6,934.6 L1648.1,934.6 L1649.9,934.7 L1651.6,935.1 L1652.9,935.4 L1654.0,935.4 L1655.3,935.4 L1656.8,935.3 L1658.3,935.2 L1660.0,935.1 L1662.1,935.2 L1664.1,936.0 L1665.4,936.6 L1666.5,936.9 L1667.8,937.0 L1669.3,937.2 L1670.8,937.3 L1672.1,937.4 L1673.9,937.5 L1675.9,938.0 L1677.2,938.5 L1678.3,938.7 L1679.6,938.7 L1681.1,938.7 L1682.6,938.8 L1684.1,938.8 L1685.9,938.9 L1687.8,939.4 L1689.4,940.0 L1690.5,940.3 L1691.6,940.3 L1693.1,940.4 L1694.5,940.4 L1696.0,940.4 L1697.8,940.4 L1699.7,940.7 L1701.4,941.3 L1702.4,941.7 L1703.4,941.6 L1705.0,941.6 L1706.5,941.6 L1708.0,941.6 L1709.8,941.6 L1711.9,942.1 L1713.6,942.8 L1714.6,943.2 L1715.5,943.2 L1716.9,943.1 L1718.4,943.1 L1719.9,943.0 L1721.6,942.9 L1723.6,943.1 L1725.4,943.7 L1726.5,944.1 L1727.5,944.1 L1729.1,944.1 L1730.6,944.2 L1732.1,944.3 L1733.7,944.3 L1735.6,944.6 L1737.4,945.2 L1738.7,945.6 L1739.8,945.8 L1741.2,945.9 L1742.7,946.0 L1744.2,946.1 L1745.7,946.2 L1747.7,946.4 L1749.7,947.2 L1751.1,947.9 L1752.2,948.2 L1753.5,948.5 L1755.0,948.7 L1756.5,949.0 L1758.0,949.3 L1759.8,949.7 L1761.5,950.3 L1762.7,950.8 L1763.8,950.9 L1765.2,951.0 L1766.7,951.1 L1768.2,951.2 L1769.7,951.4 L1771.6,951.6 L1773.5,952.2 L1775.0,952.8 L1776.2,953.2 L1777.4,953.4 L1778.9,953.6 L1780.4,953.8 L1781.8,954.1 L1783.4,954.1 L1785.3,954.5 L1786.8,955.0 L1787.9,955.4 L1789.1,955.4 L1790.6,955.5 L1792.2,955.5 L1793.9,955.7 L1795.7,956.0 L1797.6,956.7 L1799.2,957.5 L1800.4,958.0 L1801.5,958.2 L1802.9,958.4 L1804.2,958.6 L1805.6,958.6 L1807.3,958.7 L1809.2,959.0 L1811.0,959.7 L1812.1,960.1 L1813.1,960.1 L1814.8,960.2 L1816.4,960.4 L1817.9,960.6 L1819.5,960.9 L1821.5,961.3 L1823.2,962.2 L1824.5,962.8 L1825.5,963.0 L1826.9,963.2 L1828.4,963.4 L1829.9,963.6 L1831.4,963.8 L1833.5,964.2 L1835.4,965.2 L1836.7,965.9 L1837.6,966.3 L1838.8,966.4 L1840.3,966.6 L1841.8,966.7 L1843.3,966.9 L1845.5,967.3 L1847.6,968.6 L1848.7,969.4 L1849.5,969.6 L1850.8,969.7 L1852.3,969.8 L1853.8,970.0 L1855.3,970.2 L1857.4,970.5 L1859.4,971.5 L1860.8,972.3 L1861.7,972.7 L1862.8,972.8 L1864.3,972.9 L1865.8,973.1 L1867.3,973.2 L1869.3,973.5 L1871.4,974.4 L1872.8,975.3 L1873.8,975.8 L1874.8,975.8 L1876.3,976.0 L1877.8,976.2 L1879.3,976.3 L1881.3,976.6 L1883.4,977.5 L1884.9,978.5 L1885.9,979.0 L1886.9,979.1 L1888.4,979.4 L1889.9,979.6 L1891.5,979.9 L1893.3,980.2 L1895.3,981.0 L1897.1,982.1 L1898.1,982.9 L1898.9,983.0 L1900.4,983.2 L1901.9,983.4 L1903.2,983.6 L1904.9,983.7 L1907.1,984.2 L1909.0,985.3 L1909.9,985.9 L1910.7,985.9 L1912.2,986.0 L1913.9,986.1 L1915.5,986.4 L1917.1,986.7 L1919.2,987.3 L1921.1,988.5 L1922.2,989.3 L1923.1,989.5 L1924.4,989.8 L1925.7,989.8 L1927.1,989.9 L1928.7,990.0 L1930.8,990.2 L1932.7,991.1 L1933.8,991.6 L1934.9,991.7 L1936.6,992.0 L1938.2,992.4 L1939.7,992.7 L1941.2,993.1 L1943.0,993.5 L1944.8,994.4 L1946.3,995.2 L1947.4,995.7 L1948.5,995.9 L1950.0,996.1 L1951.5,996.4 L1953.0,996.7 L1954.9,997.0 L1956.9,998.0 L1958.2,998.8 L1959.2,999.1 L1960.5,999.4 L1962.0,999.6 L1963.5,999.9 L1965.0,1000.2 L1966.8,1000.5 L1968.6,1001.3 L1970.1,1001.9 L1971.2,1002.3 L1972.4,1002.5 L1973.9,1002.7 L1975.4,1002.9 L1976.9,1003.1 L1978.6,1003.3 L1980.5,1003.9 L1982.3,1004.8 L1983.5,1005.4 L1984.4,1005.6 L1985.9,1005.8 L1987.4,1006.0 L1988.9,1006.3 L1990.7,1006.6 L1992.8,1007.3 L1994.5,1008.4 L1995.7,1009.1 L1996.6,1009.3 L1998.0,1009.6 L1999.5,1009.8 L2000.9,1010.1 L2002.4,1010.3 L2004.5,1010.7 L2006.4,1011.7 L2007.3,1012.3 L2008.2,1012.3 L2009.8,1012.5 L2011.3,1012.6 L2012.9,1012.8 L2014.5,1013.0 L2016.4,1013.4 L2018.2,1014.2 L2019.6,1014.9 L2020.6,1015.2 L2021.7,1015.3 L2023.2,1015.4 L2024.6,1015.5 L2026.1,1015.5 L2028.2,1015.6 L2030.3,1016.6 L2031.4,1017.2 L2032.3,1017.3 L2033.7,1017.4 L2035.3,1017.5 L2036.8,1017.7 L2038.3,1017.8 L2040.3,1018.1 L2042.2,1018.9 L2043.5,1019.6 L2044.5,1019.8 L2045.9,1020.0 L2047.4,1020.2 L2048.9,1020.5 L2050.4,1020.7 L2052.2,1021.0 L2054.0,1021.6 L2055.7,1022.3 L2056.8,1022.9 L2057.6,1022.9 L2059.1,1022.9 L2060.6,1023.0 L2062.1,1023.1 L2064.0,1023.2 L2066.1,1023.9 L2067.7,1024.7 L2068.8,1025.1 L2070.1,1025.4 L2071.6,1025.7 L2073.0,1026.0 L2074.5,1026.3 L2076.2,1026.6 L2078.0,1027.2 L2079.4,1027.8 L2080.3,1028.1 L2081.4,1028.0 L2081.6,1033.7 L2079.7,1033.7 L2077.6,1033.2 L2076.0,1032.5 L2074.8,1032.1 L2073.5,1031.9 L2072.0,1031.6 L2070.4,1031.3 L2068.9,1031.0 L2067.2,1030.6 L2065.3,1029.9 L2063.9,1029.1 L2063.0,1028.8 L2061.9,1028.8 L2060.4,1028.7 L2058.9,1028.6 L2057.4,1028.6 L2055.2,1028.4 L2053.3,1027.5 L2052.0,1026.9 L2050.8,1026.5 L2049.6,1026.3 L2048.1,1026.1 L2046.6,1025.9 L2045.1,1025.6 L2043.5,1025.4 L2041.5,1024.9 L2039.8,1024.1 L2038.7,1023.6 L2037.7,1023.5 L2036.2,1023.4 L2034.7,1023.2 L2033.3,1023.1 L2031.7,1023.0 L2029.6,1022.6 L2027.7,1021.7 L2026.8,1021.2 L2025.9,1021.2 L2024.4,1021.2 L2022.8,1021.1 L2021.3,1021.0 L2019.4,1020.8 L2017.4,1020.2 L2015.8,1019.4 L2014.6,1018.8 L2013.5,1018.7 L2012.1,1018.5 L2010.7,1018.3 L2009.2,1018.1 L2007.8,1018.0 L2005.7,1017.8 L2003.6,1016.7 L2002.5,1016.0 L2001.6,1015.9 L2000.1,1015.7 L1998.5,1015.5 L1997.0,1015.2 L1995.4,1014.9 L1993.3,1014.3 L1991.5,1013.2 L1990.2,1012.4 L1989.3,1012.1 L1988.1,1011.9 L1986.6,1011.7 L1985.1,1011.4 L1983.6,1011.2 L1981.5,1010.8 L1979.7,1009.8 L1978.5,1009.2 L1977.4,1008.9 L1976.1,1008.7 L1974.6,1008.5 L1973.1,1008.3 L1971.6,1008.1 L1969.8,1007.9 L1967.9,1007.2 L1966.4,1006.5 L1965.2,1006.0 L1964.0,1005.8 L1962.5,1005.5 L1961.0,1005.3 L1959.5,1005.0 L1957.8,1004.6 L1955.8,1003.9 L1954.1,1003.0 L1953.1,1002.4 L1952.0,1002.3 L1950.5,1002.0 L1949.0,1001.8 L1947.5,1001.5 L1945.6,1001.1 L1943.7,1000.3 L1942.2,999.5 L1941.0,998.9 L1939.8,998.6 L1938.3,998.3 L1936.8,997.9 L1935.4,997.6 L1934.1,997.4 L1932.2,997.1 L1930.3,996.3 L1929.2,995.7 L1928.3,995.7 L1926.9,995.6 L1925.3,995.5 L1923.6,995.4 L1921.9,995.1 L1919.8,994.5 L1917.9,993.3 L1916.8,992.5 L1915.9,992.3 L1914.5,992.0 L1913.1,991.8 L1911.8,991.7 L1910.3,991.6 L1908.1,991.3 L1906.0,990.2 L1904.9,989.5 L1904.1,989.3 L1902.8,989.3 L1901.1,989.1 L1899.6,988.8 L1898.1,988.6 L1895.9,988.2 L1893.9,986.8 L1892.7,986.1 L1891.7,985.7 L1890.5,985.5 L1889.1,985.2 L1887.6,985.0 L1886.1,984.8 L1884.1,984.4 L1882.1,983.4 L1880.6,982.5 L1879.7,982.1 L1878.7,982.0 L1877.2,981.8 L1875.7,981.7 L1874.2,981.5 L1872.2,981.3 L1870.2,980.4 L1868.6,979.4 L1867.7,979.0 L1866.7,978.9 L1865.2,978.7 L1863.7,978.6 L1862.2,978.4 L1860.3,978.2 L1858.2,977.4 L1856.6,976.4 L1855.6,975.9 L1854.7,975.8 L1853.2,975.7 L1851.7,975.5 L1850.2,975.4 L1848.5,975.2 L1846.3,974.5 L1844.4,973.3 L1843.5,972.6 L1842.7,972.6 L1841.2,972.4 L1839.7,972.2 L1838.2,972.1 L1836.4,971.8 L1834.3,971.1 L1832.6,970.2 L1831.5,969.6 L1830.6,969.4 L1829.1,969.2 L1827.6,969.0 L1826.1,968.9 L1824.5,968.6 L1822.5,968.1 L1820.8,967.3 L1819.5,966.7 L1818.5,966.5 L1817.1,966.3 L1815.6,966.1 L1814.2,965.9 L1812.9,965.8 L1810.9,965.7 L1809.0,965.0 L1807.8,964.5 L1806.7,964.4 L1805.4,964.3 L1803.8,964.3 L1802.1,964.1 L1800.5,963.8 L1798.6,963.5 L1796.8,962.6 L1795.4,962.0 L1794.3,961.6 L1793.1,961.4 L1791.8,961.2 L1790.4,961.2 L1788.9,961.1 L1787.1,961.0 L1785.2,960.5 L1783.7,960.0 L1782.6,959.8 L1781.2,959.7 L1779.6,959.5 L1778.1,959.3 L1776.6,959.0 L1774.8,958.8 L1773.0,958.2 L1771.5,957.5 L1770.4,957.1 L1769.3,957.0 L1767.8,956.9 L1766.3,956.8 L1764.8,956.7 L1763.2,956.6 L1761.3,956.3 L1759.5,955.7 L1758.2,955.2 L1757.0,954.9 L1755.5,954.6 L1754.0,954.3 L1752.5,954.1 L1750.8,953.7 L1748.9,953.2 L1747.3,952.4 L1746.3,951.9 L1745.3,951.9 L1743.8,951.8 L1742.3,951.7 L1740.8,951.6 L1739.2,951.5 L1737.3,951.1 L1735.6,950.5 L1734.4,950.1 L1733.3,950.0 L1731.9,950.0 L1730.4,949.9 L1728.9,949.8 L1727.5,949.8 L1725.5,949.8 L1723.6,949.1 L1722.4,948.7 L1721.4,948.6 L1720.1,948.7 L1718.6,948.8 L1717.1,948.8 L1715.5,948.9 L1713.4,948.8 L1711.4,948.1 L1710.1,947.5 L1709.2,947.3 L1708.0,947.3 L1706.5,947.3 L1705.0,947.3 L1703.6,947.3 L1701.6,947.3 L1699.6,946.7 L1698.3,946.2 L1697.2,946.0 L1696.0,946.1 L1694.5,946.1 L1692.9,946.1 L1691.4,946.0 L1689.5,945.9 L1687.6,945.4 L1686.2,944.9 L1685.1,944.6 L1683.9,944.5 L1682.4,944.5 L1680.9,944.4 L1679.4,944.4 L1677.7,944.4 L1675.8,944.0 L1674.1,943.4 L1673.1,943.1 L1671.9,943.1 L1670.2,943.0 L1668.7,942.8 L1667.2,942.7 L1665.5,942.5 L1663.6,941.9 L1661.9,941.3 L1660.9,940.8 L1660.0,940.8 L1658.7,940.9 L1657.2,941.0 L1655.7,941.0 L1654.0,941.1 L1652.1,941.0 L1650.4,940.7 L1649.1,940.4 L1647.9,940.3 L1646.4,940.3 L1644.9,940.2 L1643.4,940.2 L1641.8,940.2 L1640.0,940.0 L1638.2,939.5 L1636.8,939.1 L1635.6,938.9 L1634.2,938.8 L1632.7,938.6 L1631.2,938.4 L1629.8,938.3 L1628.0,938.2 L1626.1,937.6 L1625.0,937.3 L1623.9,937.2 L1622.6,937.2 L1621.1,937.3 L1619.6,937.4 L1618.1,937.5 L1616.0,937.5 L1614.0,936.8 L1612.6,936.3 L1611.6,936.0 L1610.4,936.0 L1608.9,935.9 L1607.4,935.9 L1605.9,935.8 L1604.1,935.8 L1602.2,935.2 L1600.9,934.9 L1599.7,934.6 L1598.4,934.6 L1596.9,934.6 L1595.5,934.5 L1594.1,934.5 L1592.3,934.6 L1590.5,934.3 L1589.0,934.0 L1587.8,933.9 L1586.6,933.9 L1585.0,933.9 L1583.5,933.9 L1582.0,933.9 L1580.4,933.9 L1578.5,933.7 L1576.8,933.3 L1575.7,933.1 L1574.5,933.1 L1572.8,933.1 L1571.1,932.9 L1569.6,932.6 L1568.0,932.4 L1566.1,932.0 L1564.5,931.3 L1563.2,930.8 L1562.2,930.7 L1560.9,930.6 L1559.5,930.6 L1558.0,930.6 L1556.6,930.6 L1554.6,930.7 L1552.5,929.9 L1551.4,929.5 L1550.6,929.5 L1549.2,929.6 L1547.7,929.7 L1546.2,929.8 L1544.4,929.9 L1542.5,929.7 L1540.8,929.3 L1539.4,928.9 L1538.0,928.7 L1536.7,928.5 L1535.1,928.3 L1533.6,928.1 L1532.1,927.9 L1530.3,927.7 L1528.5,927.1 L1527.2,926.6 L1526.2,926.4 L1524.9,926.3 L1523.4,926.3 L1521.9,926.3 L1520.4,926.2 L1518.5,926.1 L1516.5,925.5 L1515.1,925.0 L1514.0,924.7 L1512.7,924.6 L1511.2,924.4 L1509.7,924.3 L1508.2,924.1 L1506.6,924.0 L1504.7,923.6 L1503.0,922.9 L1502.1,922.6 L1501.0,922.6 L1499.5,922.6 L1498.0,922.6 L1496.5,922.6 L1494.7,922.6 L1492.7,922.1 L1491.1,921.5 L1490.0,921.2 L1489.0,921.2 L1487.5,921.2 L1486.0,921.2 L1484.4,921.2 L1482.7,921.2 L1480.7,920.8 L1478.8,920.0 L1477.8,919.5 L1477.0,919.5 L1475.5,919.5 L1473.8,919.5 L1472.1,919.2 L1470.3,918.9 L1468.3,918.2 L1466.7,917.3 L1465.5,916.6 L1464.4,916.4 L1463.0,916.1 L1461.7,916.0 L1460.2,915.8 L1458.7,915.7 L1456.7,915.4 L1454.7,914.5 L1453.6,913.9 L1452.7,913.7 L1451.5,913.7 L1450.0,913.7 L1448.5,913.7 L1447.0,913.8 L1444.9,913.7 L1442.9,912.9 L1441.7,912.4 L1440.5,912.2 L1439.0,911.9 L1437.5,911.6 L1436.0,911.3 L1434.5,911.0 L1432.4,910.6 L1430.5,909.4 L1429.3,908.7 L1428.4,908.4 L1427.2,908.3 L1425.7,908.2 L1424.2,908.1 L1422.7,907.9 L1420.9,907.7 L1418.9,907.0 L1417.4,906.3 L1416.5,905.9 L1415.4,905.9 L1413.9,905.8 L1412.4,905.8 L1410.9,905.7 L1408.8,905.5 L1406.8,904.7 L1405.2,903.9 L1404.1,903.4 L1402.8,903.1 L1401.3,902.7 L1399.8,902.4 L1398.3,902.0 L1396.8,901.6 L1394.9,901.0 L1393.1,900.1 L1392.0,899.4 L1391.0,899.3 L1389.5,899.0 L1388.0,898.8 L1386.5,898.5 L1384.7,898.2 L1382.8,897.4 L1381.1,896.5 L1379.9,895.8 L1378.8,895.5 L1377.4,895.2 L1375.9,894.9 L1374.4,894.5 L1372.7,894.2 L1370.8,893.5 L1369.2,892.6 L1367.9,891.9 L1366.7,891.6 L1365.3,891.2 L1363.8,890.8 L1362.3,890.5 L1360.9,890.1 L1358.9,889.7 L1357.0,888.5 L1355.7,887.7 L1354.7,887.4 L1353.4,887.1 L1352.0,886.8 L1350.5,886.6 L1349.0,886.3 L1347.0,885.9 L1345.1,884.8 L1343.8,884.1 L1342.7,883.7 L1341.3,883.4 L1339.7,883.0 L1338.2,882.5 L1336.7,882.1 L1334.9,881.6 L1332.9,880.5 L1331.4,879.3 L1330.5,878.8 L1329.6,878.7 L1328.1,878.5 L1326.6,878.3 L1325.1,878.1 L1323.0,877.7 L1321.0,876.6 L1319.6,875.7 L1318.4,875.0 L1317.2,874.7 L1315.7,874.2 L1314.2,873.8 L1312.7,873.3 L1310.9,872.8 L1309.0,871.8 L1307.3,870.5 L1306.2,869.7 L1305.1,869.4 L1303.6,868.9 L1302.1,868.4 L1300.6,867.9 L1298.8,867.3 L1297.0,866.3 L1295.5,865.4 L1294.4,864.6 L1293.3,864.4 L1291.8,864.1 L1290.3,863.7 L1288.8,863.3 L1287.4,863.0 L1285.1,862.4 L1283.1,860.6 L1282.0,859.6 L1281.2,859.4 L1279.8,859.1 L1278.3,858.7 L1276.8,858.4 L1274.9,857.9 L1273.0,856.8 L1271.4,855.7 L1270.1,854.8 L1269.0,854.3 L1267.6,853.8 L1266.1,853.3 L1264.5,852.7 L1263.2,852.1 L1261.0,851.6 L1258.9,849.6 L1257.7,848.2 L1256.7,847.6 L1255.6,847.2 L1254.1,846.7 L1252.8,846.3 L1251.3,846.0 L1249.0,845.3 L1247.1,843.6 L1245.9,842.6 L1244.8,842.0 L1243.6,841.6 L1242.0,841.0 L1240.5,840.5 L1239.0,839.9 L1237.2,839.2 L1235.2,837.9 L1233.6,836.3 L1232.6,835.5 L1231.7,835.3 L1230.2,834.8 L1228.7,834.4 L1227.2,833.9 L1225.1,833.2 L1223.1,831.6 L1221.7,830.3 L1220.6,829.5 L1219.5,829.1 L1218.1,828.6 L1216.5,828.1 L1215.0,827.5 L1213.4,826.9 L1211.3,825.9 L1209.5,824.1 L1208.4,823.0 L1207.4,822.7 L1205.9,822.0 L1204.4,821.4 L1202.9,820.8 L1201.2,820.1 L1199.1,818.7 L1197.4,816.7 L1196.3,815.5 L1195.6,815.4 L1194.2,814.9 L1192.7,814.5 L1191.2,814.0 L1189.4,813.5 L1187.2,812.3 L1185.3,810.2 L1184.1,808.8 L1183.3,808.4 L1182.0,807.9 L1180.5,807.3 L1179.0,806.7 L1177.4,806.1 L1175.2,805.0 L1173.3,802.8 L1172.1,801.3 L1171.2,800.8 L1170.0,800.4 L1168.5,799.8 L1167.0,799.3 L1165.7,798.8 L1163.4,798.0 L1161.4,796.0 L1160.2,794.7 L1159.3,794.1 L1158.2,793.8 L1156.7,793.4 L1155.1,792.9 L1153.4,792.3 L1151.2,791.3 L1149.4,789.3 L1148.1,788.1 L1146.9,787.1 L1145.7,786.5 L1144.2,785.7 L1142.6,784.8 L1141.1,784.0 L1139.5,783.1 L1137.5,781.7 L1135.9,779.8 L1134.8,778.6 L1133.8,778.2 L1132.3,777.6 L1130.9,776.9 L1129.4,776.3 L1127.4,775.4 L1125.5,773.7 L1123.9,772.0 L1122.8,770.8 L1121.8,770.4 L1120.3,769.7 L1118.8,769.0 L1117.3,768.3 L1115.7,767.5 L1113.5,766.2 L1111.7,763.9 L1110.6,762.4 L1109.9,762.2 L1108.4,761.6 L1106.9,761.0 L1105.4,760.4 L1103.5,759.5 L1101.5,757.8 L1099.8,755.9 L1098.6,754.4 L1097.5,753.7 L1096.1,752.9 L1094.6,752.1 L1093.1,751.3 L1091.4,750.3 L1089.5,748.7 L1087.9,746.9 L1086.6,745.5 L1085.5,744.8 L1084.1,744.0 L1082.6,743.2 L1081.1,742.4 L1080.0,741.7 L1077.7,741.0 L1075.7,738.3 L1074.3,736.3 L1073.4,735.5 L1072.3,735.0 L1070.8,734.3 L1069.3,733.6 L1067.8,732.9 L1065.6,731.7 L1063.7,729.3 L1062.3,727.4 L1061.4,726.4 L1060.3,726.0 L1058.8,725.3 L1057.3,724.6 L1055.8,723.9 L1053.7,722.7 L1051.8,720.5 L1050.3,718.6 L1049.2,717.4 L1048.2,716.9 L1046.7,716.1 L1045.2,715.4 L1043.7,714.6 L1041.7,713.5 L1039.9,711.5 L1038.4,709.9 L1037.2,708.6 L1036.1,708.0 L1034.6,707.2 L1033.1,706.3 L1031.6,705.4 L1029.9,704.4 L1028.0,702.9 L1026.3,701.0 L1025.2,699.6 L1024.1,699.0 L1022.6,698.2 L1021.2,697.5 L1019.7,696.7 L1018.1,695.9 L1016.0,694.6 L1014.2,692.1 L1013.1,690.5 L1012.2,690.2 L1010.7,689.4 L1009.1,688.5 L1007.6,687.7 L1005.9,686.7 L1003.8,685.0 L1002.1,682.5 L1000.9,680.6 L1000.0,680.1 L998.8,679.5 L997.3,678.8 L995.8,678.1 L994.2,677.3 L992.0,676.0 L990.2,673.7 L988.9,671.9 L987.8,671.0 L986.6,670.3 L985.1,669.4 L983.6,668.6 L982.1,667.7 L980.0,666.4 L978.3,663.9 L977.1,662.7 L975.9,661.8 L974.6,661.1 L973.1,660.3 L971.6,659.5 L970.1,658.7 L968.3,657.6 L966.4,655.8 L964.8,653.8 L963.6,652.4 L962.4,651.6 L960.9,650.5 L959.4,649.5 L957.9,648.4 L956.2,647.2 L954.4,645.5 L952.8,643.6 L951.7,642.4 L950.7,641.9 L949.2,641.2 L947.7,640.4 L946.2,639.6 L944.4,638.6 L942.3,636.9 L940.7,634.5 L939.6,632.9 L938.8,632.7 L937.3,632.0 L935.8,631.2 L934.2,630.4 L932.3,629.4 L930.3,627.4 L928.6,624.9 L927.4,623.0 L926.6,622.7 L925.1,621.9 L923.7,621.1 L922.2,620.4 L920.4,619.5 L918.4,617.8 L916.6,615.3 L915.4,613.4 L914.6,613.0 L913.3,612.3 L911.9,611.7 L910.4,611.1 L908.4,610.3 L906.5,608.6 L904.9,607.0 L903.6,605.6 L902.5,604.8 L901.0,604.0 L899.5,603.0 L898.0,602.1 L896.5,601.2 L894.6,600.0 L892.8,598.0 L891.5,596.5 L890.4,595.6 L889.1,594.9 L887.6,594.1 L886.1,593.2 L884.6,592.4 L882.8,591.4 L880.9,589.5 L879.3,587.5 L878.3,586.5 L877.2,586.0 L875.7,585.3 L874.2,584.6 L872.7,583.8 L870.6,582.7 L868.8,580.4 L867.5,579.0 L866.4,578.0 L865.2,577.5 L863.7,576.7 L862.2,576.0 L860.7,575.2 L859.0,574.4 L856.9,572.8 L855.2,570.4 L854.1,569.0 L853.1,568.5 L851.6,567.7 L850.1,566.9 L848.6,566.1 L846.8,565.0 L844.9,563.3 L843.3,561.4 L842.2,560.0 L841.4,559.8 L839.9,559.2 L838.4,558.5 L836.9,557.9 L835.2,557.2 L833.1,555.9 L831.3,553.8 L830.2,552.4 L829.5,552.2 L828.1,551.7 L826.6,551.2 L824.9,550.6 L822.9,549.6 L821.0,547.9 L819.4,546.2 L818.1,544.8 L817.0,544.1 L815.6,543.3 L814.2,542.4 L812.8,541.8 L811.5,541.2 L809.3,540.4 L807.3,538.1 L806.1,536.6 L805.2,536.1 L804.0,535.7 L802.5,535.1 L801.0,534.5 L799.5,533.9 L797.2,532.9 L795.3,530.7 L794.1,529.3 L793.0,528.5 L791.9,528.0 L790.4,527.4 L788.9,526.7 L787.4,526.1 L785.3,525.1 L783.4,523.2 L782.0,521.6 L780.9,520.7 L779.8,520.2 L778.3,519.5 L776.8,518.7 L775.3,518.0 L773.4,517.0 L771.4,515.3 L769.8,513.3 L768.8,512.2 L768.0,511.9 L766.5,511.4 L765.0,510.8 L763.5,510.2 L761.4,509.3 L759.4,507.4 L757.9,505.8 L756.7,504.5 L755.6,504.0 L754.1,503.1 L752.6,502.3 L751.1,501.4 L749.5,500.5 L747.5,499.1 L745.8,497.1 L744.7,495.7 L743.8,495.4 L742.3,494.8 L740.8,494.1 L739.3,493.4 L737.7,492.7 L735.5,491.2 L733.7,488.9 L732.5,487.1 L731.7,486.7 L730.3,486.1 L728.8,485.4 L727.3,484.6 L725.6,483.8 L723.5,482.3 L721.8,480.1 L720.5,478.5 L719.5,477.8 L718.2,477.2 L716.7,476.5 L715.3,475.7 L713.5,474.9 L711.6,473.5 L710.0,471.8 L708.6,470.4 L707.4,469.6 L706.1,468.8 L704.6,468.0 L703.0,467.0 L701.5,466.1 L699.7,465.0 L697.9,463.1 L696.4,461.2 L695.3,460.2 L694.1,459.5 L692.6,458.7 L691.1,457.9 L689.6,457.1 L687.7,455.9 L685.8,453.9 L684.3,451.9 L683.2,450.7 L682.1,450.1 L680.5,449.2 L679.0,448.2 L677.5,447.3 L675.5,446.0 L673.8,443.9 L672.3,442.1 L671.1,440.7 L670.0,440.1 L668.6,439.2 L667.1,438.3 L665.5,437.4 L664.1,436.6 L662.0,435.2 L660.1,432.6 L658.9,430.7 L658.1,430.3 L656.6,429.5 L655.1,428.6 L653.5,427.7 L651.6,426.5 L649.7,424.4 L648.1,421.9 L646.9,420.1 L646.0,419.5 L644.6,418.7 L643.0,417.8 L641.5,416.9 L639.9,415.9 L637.8,414.3 L636.1,411.5 L634.8,409.4 L633.9,408.7 L632.5,407.9 L631.0,407.0 L629.5,406.1 L627.8,405.1 L625.8,403.3 L624.1,400.6 L622.7,398.3 L621.6,397.2 L620.4,396.3 L618.9,395.3 L617.3,394.2 L615.9,393.2 L613.8,391.7 L612.1,388.8 L610.8,387.0 L609.6,385.7 L608.2,384.7 L606.7,383.5 L605.2,382.2 L603.6,380.9 L601.9,379.3 L600.1,376.9 L598.6,374.3 L597.4,372.6 L596.2,371.6 L594.7,370.4 L593.4,369.4 L591.9,368.4 L590.1,367.2 L588.1,364.8 L586.6,362.0 L585.4,360.2 L584.6,359.8 L582.9,358.8 L581.3,357.6 L579.8,356.5 L577.8,354.8 L576.0,351.9 L574.6,349.5 L573.3,347.4 L572.1,346.3 L570.6,345.0 L569.1,343.6 L567.6,342.3 L566.0,340.8 L564.2,338.7 L562.6,336.1 L561.3,333.9 L560.3,333.2 L558.8,332.1 L557.3,331.0 L555.8,329.9 L554.2,328.8 L552.3,327.0 L550.6,324.2 L549.2,322.0 L548.0,320.8 L546.6,319.6 L545.1,318.3 L543.6,317.0 L542.1,315.6 L540.2,313.7 L538.5,310.5 L537.2,308.0 L536.1,307.0 L534.8,306.1 L533.3,305.0 L531.8,304.0 L530.4,303.0 L528.3,301.4 L526.5,298.1 L525.1,295.4 L524.1,294.2 L523.0,293.5 L521.5,292.6 L520.0,291.6 L518.4,290.6 L516.3,289.0 L514.5,285.7 L513.0,282.8 L511.9,281.2 L510.8,280.4 L509.3,279.3 L507.8,278.3 L506.4,277.2 L504.4,275.8 L502.6,272.9 L501.2,270.6 L500.0,269.1 L498.9,268.4 L497.4,267.4 L495.8,266.3 L494.2,265.1 L492.4,263.5 L490.6,261.0 L489.1,258.6 L487.8,256.7 L486.6,255.7 L485.1,254.4 L483.6,253.1 L482.1,251.8 L480.5,250.4 L478.7,248.4 L477.0,245.4 L475.8,243.1 L474.8,242.5 L473.4,241.5 L472.0,240.6 L470.5,239.7 L468.6,238.4 L466.7,236.2 L465.2,234.0 L463.9,232.1 L462.8,231.3 L461.3,230.2 L459.7,229.0 L458.2,227.8 L456.6,226.6 L454.8,224.8 L453.1,222.4 L451.8,220.4 L450.7,219.4 L449.3,218.3 L447.8,217.2 L446.3,216.1 L444.8,214.9 L442.9,213.5 L441.1,210.9 L439.8,208.9 L438.7,207.9 L437.4,207.0 L435.9,206.0 L434.4,205.0 L432.9,204.0 L430.9,202.6 L429.2,200.2 L427.8,198.3 L426.6,197.0 L425.3,196.0 L423.8,194.9 L422.3,193.7 L420.8,192.6 L419.0,191.2 L417.3,189.2 L415.8,187.1 L414.7,185.9 L413.5,185.3 L412.0,184.4 L410.6,183.5 L409.1,182.6 L407.1,181.4 L405.3,179.3 L403.8,177.3 L402.6,176.0 L401.5,175.3 L400.0,174.4 L398.5,173.5 L396.9,172.5 L395.2,171.3 L393.2,169.4 L391.6,166.7 L390.4,164.9 L389.5,164.4 L388.0,163.5 L386.5,162.6 L385.2,161.8 L383.3,161.0 L381.4,159.1 L379.8,157.2 L378.7,155.8 L377.7,155.4 L376.2,154.7 L374.6,153.8 L372.9,152.7 L371.3,151.7 L369.4,150.1 L367.7,147.8 L366.4,146.0 L365.4,145.4 L364.1,144.5 L362.6,143.7 L361.1,142.9 L359.6,142.1 L357.5,140.7 L355.7,138.3 L354.4,136.5 L353.5,135.9 L352.3,135.3 L350.8,134.7 L349.3,134.0 L347.5,133.1 L345.6,131.5 L344.0,129.9 L342.6,128.5 L341.4,127.6 L340.1,126.9 L338.6,126.0 L337.1,125.2 L335.6,124.3 L333.8,123.3 L331.9,121.6 L330.4,119.8 L329.4,118.9 L328.2,118.3 L326.7,117.6 L325.2,116.9 L323.7,116.1 L321.7,115.1 L319.9,113.1 L318.5,111.5 L317.4,110.5 L316.3,110.1 L314.8,109.4 L313.3,108.7 L311.8,108.0 L310.0,107.2 L307.9,105.5 L306.3,103.3 L305.2,101.9 L304.2,101.6 L302.7,100.8 L301.2,100.1 L299.7,99.3 L297.8,98.4 L296.0,96.7 L294.4,95.0 L293.3,93.8 L292.4,93.5 L290.9,92.9 L289.4,92.3 L287.8,91.6 L285.9,90.7 L284.0,89.1 L282.4,87.2 L281.1,85.8 L280.1,85.2 L278.6,84.3 L277.1,83.5 L275.7,82.7 L274.4,82.1 L272.3,81.2 L270.6,79.4 L269.3,78.5 L267.8,77.4 L266.3,76.4 L264.8,75.3 L263.3,74.2 L261.8,73.1 L260.3,72.1 L258.8,71.0 L257.3,69.9 L255.8,68.8 L254.3,67.8 L252.8,66.7 L251.3,65.6 L249.8,64.5 L248.3,63.5 L246.8,62.4 L245.3,61.3 L243.8,60.2Z" fill="#FF0048"/>
<path d="M247.0,357.5 L248.5,358.4 L250.0,359.4 L251.5,360.4 L253.0,361.3 L254.5,362.3 L256.0,363.2 L257.5,364.2 L259.0,365.2 L260.5,366.1 L262.0,367.1 L263.5,368.1 L265.0,369.0 L266.5,370.0 L268.0,370.9 L269.5,371.9 L270.9,372.8 L272.2,373.4 L273.7,374.1 L275.6,375.1 L277.4,376.6 L278.8,377.8 L279.8,378.6 L281.0,379.0 L282.5,379.5 L284.0,380.1 L285.5,380.6 L287.6,381.5 L289.5,383.4 L290.8,384.8 L291.8,385.4 L292.9,385.8 L294.4,386.3 L295.9,386.9 L297.4,387.4 L299.6,388.2 L301.6,390.1 L302.8,391.5 L303.8,392.1 L305.2,392.7 L306.7,393.3 L308.2,394.0 L309.7,394.7 L311.4,395.5 L313.2,396.8 L314.6,397.9 L315.7,398.6 L317.0,399.0 L318.5,399.6 L320.0,400.2 L321.5,400.7 L323.4,401.5 L325.2,402.8 L326.8,404.1 L328.0,405.2 L329.1,405.6 L330.6,406.2 L332.1,406.8 L333.7,407.5 L335.4,408.3 L337.3,409.7 L339.1,411.4 L340.2,412.7 L341.1,413.0 L342.6,413.6 L344.1,414.2 L345.6,414.8 L347.3,415.5 L349.4,416.9 L351.1,418.9 L352.3,420.2 L353.1,420.5 L354.6,421.1 L356.2,421.8 L357.7,422.5 L359.4,423.3 L361.4,424.6 L363.1,426.5 L364.3,427.9 L365.3,428.3 L366.7,429.0 L368.2,429.7 L369.7,430.4 L371.2,431.1 L373.2,432.1 L374.9,433.7 L376.3,435.0 L377.4,435.8 L378.7,436.4 L380.2,437.1 L381.7,437.8 L383.2,438.5 L385.2,439.5 L387.1,441.4 L388.5,443.0 L389.6,444.0 L390.7,444.5 L392.2,445.2 L393.7,445.9 L395.2,446.6 L397.3,447.6 L399.2,449.7 L400.5,451.3 L401.4,452.0 L402.6,452.4 L404.1,453.0 L405.6,453.6 L407.1,454.2 L409.0,455.1 L411.0,456.8 L412.6,458.7 L413.8,459.9 L414.7,460.3 L416.2,461.0 L417.7,461.7 L419.2,462.5 L421.2,463.4 L423.1,465.3 L424.8,467.4 L425.9,469.1 L426.7,469.3 L428.2,469.9 L429.7,470.6 L431.2,471.3 L433.1,472.2 L435.1,474.0 L436.8,476.4 L437.9,478.0 L438.6,478.0 L440.2,478.8 L441.7,479.6 L443.3,480.3 L445.1,481.3 L447.1,483.0 L448.8,485.3 L450.0,487.1 L451.0,487.5 L452.5,488.5 L454.0,489.4 L455.5,490.3 L457.1,491.3 L459.0,492.7 L460.8,495.0 L462.0,496.6 L463.1,497.4 L464.5,498.3 L465.9,499.1 L467.3,499.9 L468.8,500.7 L470.8,501.8 L472.6,503.7 L474.0,505.3 L475.1,506.2 L476.4,506.9 L478.1,507.9 L479.6,508.9 L481.1,509.9 L483.0,511.2 L484.8,513.4 L486.2,515.4 L487.4,516.7 L488.5,517.3 L490.0,518.2 L491.5,519.1 L493.0,520.0 L494.9,521.3 L496.8,523.5 L498.3,525.7 L499.4,527.2 L500.3,527.5 L501.8,528.3 L503.3,529.0 L504.8,529.8 L506.8,530.9 L508.8,533.2 L510.4,535.6 L511.5,537.3 L512.5,537.8 L514.0,538.7 L515.5,539.6 L517.0,540.5 L518.9,541.7 L520.8,543.8 L522.3,546.2 L523.4,547.6 L524.5,548.2 L526.0,549.1 L527.5,550.1 L529.0,551.0 L530.7,552.1 L532.6,553.9 L534.3,556.1 L535.7,558.0 L536.7,559.0 L537.9,559.6 L539.4,560.5 L540.9,561.3 L542.5,562.2 L544.6,563.7 L546.4,566.4 L547.5,568.2 L548.3,568.4 L549.8,569.2 L551.3,570.0 L552.9,570.8 L554.6,571.9 L556.6,573.4 L558.3,575.8 L559.7,577.8 L560.8,578.9 L561.9,579.5 L563.4,580.4 L564.9,581.2 L566.4,582.1 L568.5,583.4 L570.4,586.0 L571.6,587.9 L572.6,588.6 L574.1,589.6 L575.7,590.7 L577.3,591.9 L578.8,593.1 L580.5,594.5 L582.2,596.6 L583.7,598.5 L584.9,599.9 L586.2,600.8 L587.6,601.8 L589.1,602.8 L590.6,603.9 L592.4,605.1 L594.1,607.0 L595.7,608.8 L596.8,610.2 L597.9,610.7 L599.3,611.5 L600.8,612.3 L602.3,613.0 L604.1,614.0 L606.0,615.6 L607.7,617.5 L609.0,619.4 L610.0,619.8 L611.5,620.7 L613.0,621.6 L614.5,622.5 L616.3,623.6 L618.3,625.6 L619.9,628.1 L620.9,629.8 L621.7,629.9 L623.3,630.7 L624.8,631.5 L626.3,632.2 L628.0,633.1 L630.1,634.7 L631.8,637.0 L633.0,638.7 L633.9,639.3 L635.2,639.9 L636.7,640.7 L638.2,641.4 L639.9,642.2 L642.0,643.5 L643.8,645.8 L644.9,647.3 L645.7,647.7 L647.0,648.2 L648.5,648.8 L650.0,649.4 L651.7,650.0 L653.9,651.3 L655.8,653.7 L657.0,655.4 L658.1,656.1 L659.4,656.8 L660.9,657.6 L662.3,658.4 L663.7,659.1 L665.7,660.0 L667.5,661.8 L668.9,663.3 L670.0,664.2 L671.1,664.6 L672.6,665.2 L674.1,665.8 L675.6,666.5 L677.6,667.4 L679.5,669.2 L681.0,670.8 L682.1,671.8 L683.1,672.2 L684.7,672.8 L686.3,673.7 L687.8,674.4 L689.7,675.4 L691.6,677.2 L693.2,679.2 L694.3,680.6 L695.1,680.8 L696.3,681.2 L697.8,681.6 L699.3,682.1 L701.3,682.7 L703.4,684.2 L705.0,685.9 L706.0,686.8 L707.2,687.3 L708.8,688.1 L710.3,688.8 L711.8,689.6 L713.5,690.5 L715.4,691.9 L717.1,693.7 L718.3,695.1 L719.1,695.4 L720.3,695.8 L721.8,696.2 L723.3,696.6 L725.0,697.1 L727.3,698.3 L729.1,700.3 L730.3,701.7 L731.1,701.9 L732.6,702.5 L734.1,703.1 L735.6,703.7 L737.1,704.3 L739.2,705.4 L741.1,707.3 L742.4,708.8 L743.4,709.5 L744.5,709.9 L746.0,710.4 L747.5,711.0 L749.0,711.6 L751.1,712.4 L753.0,714.3 L754.2,715.5 L755.0,715.9 L756.3,716.2 L757.8,716.6 L759.3,717.1 L760.9,717.5 L763.0,718.4 L765.0,720.1 L766.4,721.5 L767.5,722.4 L768.5,722.7 L770.0,723.3 L771.4,723.8 L772.9,724.3 L774.9,725.0 L776.9,726.6 L778.3,728.0 L779.3,728.7 L780.5,729.1 L782.0,729.6 L783.5,730.2 L785.0,730.7 L786.8,731.4 L788.7,732.6 L790.4,734.1 L791.5,735.1 L792.4,735.3 L793.9,735.8 L795.5,736.4 L797.0,737.0 L798.8,737.7 L800.8,739.0 L802.5,740.6 L803.5,741.7 L804.4,741.9 L806.0,742.5 L807.5,743.0 L809.0,743.6 L810.6,744.2 L812.5,745.1 L814.3,746.5 L815.5,747.5 L816.7,747.9 L818.2,748.7 L819.7,749.4 L821.2,750.2 L822.8,750.9 L824.7,752.0 L826.4,753.5 L827.6,754.6 L828.7,755.1 L830.0,755.6 L831.5,756.2 L833.0,756.8 L834.6,757.4 L836.4,758.2 L838.2,759.5 L839.7,760.7 L840.8,761.5 L841.8,761.7 L843.3,762.2 L844.8,762.6 L846.3,763.0 L848.5,763.8 L850.5,765.6 L851.9,767.2 L852.9,767.9 L854.2,768.4 L855.7,769.1 L857.2,769.8 L858.7,770.5 L860.5,771.3 L862.3,772.7 L863.9,774.0 L864.8,774.9 L865.6,775.0 L867.1,775.4 L868.6,775.7 L870.2,776.1 L872.4,776.8 L874.5,778.6 L876.1,780.3 L877.1,781.4 L878.0,781.6 L879.5,782.2 L881.0,782.7 L882.4,783.2 L884.3,783.9 L886.4,785.4 L888.0,787.2 L889.0,788.1 L890.1,788.5 L891.6,789.1 L893.0,789.6 L894.4,790.1 L896.2,790.7 L898.2,791.8 L899.9,793.4 L901.2,794.5 L902.1,795.0 L903.2,795.3 L904.8,795.7 L906.3,796.1 L908.0,796.7 L910.3,797.8 L912.1,799.9 L913.2,801.2 L914.0,801.3 L915.6,802.0 L917.3,802.8 L918.8,803.5 L920.3,804.3 L922.4,805.5 L924.2,807.5 L925.5,809.1 L926.4,809.8 L927.5,810.2 L929.0,810.7 L930.5,811.3 L932.0,811.8 L934.2,812.8 L936.1,814.8 L937.3,816.2 L938.1,816.6 L939.4,817.0 L940.9,817.5 L942.4,818.0 L943.9,818.4 L945.9,819.2 L947.9,820.7 L949.3,822.1 L950.4,822.9 L951.7,823.4 L953.2,824.1 L954.7,824.8 L956.2,825.5 L958.0,826.3 L959.9,827.8 L961.4,829.3 L962.6,830.3 L963.8,830.9 L965.3,831.7 L966.8,832.4 L968.3,833.2 L970.0,834.1 L971.9,835.5 L973.5,837.0 L974.6,838.2 L975.8,838.7 L977.3,839.4 L978.8,840.2 L980.3,840.9 L982.0,841.8 L983.9,843.2 L985.5,844.9 L986.8,846.2 L987.9,846.9 L989.2,847.5 L990.7,848.2 L992.1,848.9 L993.8,849.6 L995.9,850.9 L997.6,852.8 L998.7,854.1 L999.6,854.3 L1001.3,855.1 L1002.8,855.9 L1004.3,856.6 L1005.8,857.4 L1007.7,858.5 L1009.5,860.2 L1010.7,861.4 L1011.9,862.0 L1013.3,862.7 L1014.7,863.4 L1016.1,864.0 L1017.6,864.6 L1019.5,865.5 L1021.3,866.9 L1022.8,868.2 L1023.9,869.2 L1025.0,869.4 L1026.6,870.1 L1028.1,870.8 L1029.6,871.4 L1031.8,872.4 L1033.7,874.6 L1034.9,876.2 L1035.9,876.6 L1037.2,877.3 L1038.7,878.0 L1040.2,878.7 L1041.7,879.4 L1043.5,880.3 L1045.3,881.7 L1046.9,883.1 L1048.0,884.2 L1049.1,884.5 L1050.6,885.1 L1052.1,885.7 L1053.6,886.3 L1055.5,887.1 L1057.4,888.6 L1059.0,890.2 L1060.0,891.2 L1061.0,891.5 L1062.5,892.1 L1064.0,892.7 L1065.5,893.3 L1067.4,894.0 L1069.4,895.4 L1071.1,897.1 L1072.2,898.4 L1073.0,898.6 L1074.5,899.2 L1076.0,899.8 L1077.5,900.4 L1079.3,901.1 L1081.3,902.4 L1083.1,904.2 L1084.2,905.5 L1085.1,905.7 L1086.6,906.3 L1088.1,906.9 L1089.5,907.5 L1091.1,908.1 L1093.1,909.1 L1094.9,910.8 L1096.2,912.0 L1097.1,912.5 L1098.2,912.8 L1099.7,913.2 L1101.3,913.6 L1102.9,914.1 L1105.2,915.1 L1107.1,917.1 L1108.3,918.4 L1109.1,918.8 L1110.4,919.2 L1111.9,919.7 L1113.3,920.1 L1114.8,920.6 L1117.0,921.3 L1119.0,923.2 L1120.2,924.4 L1121.1,924.9 L1122.4,925.3 L1124.0,925.8 L1125.6,926.4 L1127.0,927.0 L1129.0,927.9 L1131.0,929.5 L1132.4,930.9 L1133.4,931.8 L1134.4,932.1 L1135.8,932.5 L1137.3,933.0 L1138.8,933.4 L1140.8,934.0 L1142.8,935.4 L1144.3,936.7 L1145.3,937.5 L1146.3,937.7 L1147.8,938.1 L1149.3,938.5 L1150.8,939.0 L1152.6,939.5 L1154.6,940.7 L1156.4,942.1 L1157.5,943.2 L1158.3,943.3 L1159.8,943.7 L1161.3,944.2 L1162.8,944.6 L1164.6,945.1 L1166.8,946.4 L1168.5,948.1 L1169.3,949.1 L1170.0,948.9 L1171.9,949.4 L1173.4,949.9 L1174.9,950.4 L1176.5,950.9 L1178.5,951.8 L1180.2,953.1 L1181.6,954.1 L1182.6,954.7 L1183.8,955.0 L1185.3,955.5 L1186.8,955.9 L1188.4,956.4 L1190.5,957.3 L1192.4,958.9 L1193.6,960.0 L1194.5,960.3 L1195.8,960.7 L1197.3,961.2 L1198.8,961.6 L1200.2,962.1 L1202.2,962.6 L1204.2,963.9 L1205.3,964.8 L1206.2,965.0 L1207.7,965.4 L1209.2,965.7 L1210.8,966.1 L1212.4,966.7 L1214.3,967.4 L1216.1,968.5 L1217.5,969.5 L1218.7,970.2 L1219.9,970.6 L1221.3,971.1 L1222.7,971.5 L1224.1,971.8 L1226.0,972.3 L1228.0,973.3 L1229.6,974.3 L1230.6,975.1 L1231.4,975.2 L1233.1,975.4 L1234.8,975.9 L1236.3,976.3 L1238.3,977.0 L1240.3,978.4 L1241.9,979.9 L1242.9,980.7 L1243.7,980.9 L1245.0,981.1 L1246.5,981.4 L1248.0,981.6 L1249.9,982.0 L1252.0,983.0 L1253.5,984.1 L1254.5,984.6 L1255.7,984.8 L1257.1,985.2 L1258.6,985.5 L1260.1,985.9 L1261.8,986.3 L1263.6,986.9 L1265.3,987.8 L1266.7,988.5 L1267.9,988.9 L1269.2,989.3 L1270.7,989.6 L1272.2,990.0 L1273.8,990.4 L1275.8,991.1 L1277.5,992.3 L1278.6,993.0 L1279.7,993.2 L1281.2,993.6 L1282.7,994.0 L1284.2,994.4 L1285.7,994.8 L1287.6,995.3 L1289.4,996.2 L1290.9,997.1 L1292.0,997.7 L1293.0,997.8 L1294.5,998.1 L1296.0,998.3 L1297.5,998.6 L1299.7,999.1 L1301.7,1000.5 L1302.8,1001.3 L1303.7,1001.5 L1305.2,1001.9 L1306.7,1002.3 L1308.2,1002.6 L1309.7,1003.0 L1311.6,1003.6 L1313.4,1004.6 L1314.8,1005.4 L1316.0,1006.0 L1317.3,1006.3 L1318.8,1006.8 L1320.2,1007.2 L1321.6,1007.5 L1323.3,1007.8 L1325.1,1008.5 L1326.9,1009.3 L1327.9,1010.1 L1328.7,1010.1 L1330.2,1010.2 L1331.7,1010.3 L1333.3,1010.4 L1335.2,1010.7 L1337.4,1011.6 L1338.9,1012.6 L1339.8,1013.0 L1340.9,1013.2 L1342.4,1013.4 L1344.0,1013.6 L1345.5,1013.9 L1347.2,1014.2 L1349.2,1014.9 L1350.9,1015.9 L1352.0,1016.6 L1352.9,1016.7 L1354.4,1016.9 L1355.9,1017.1 L1357.4,1017.3 L1359.0,1017.6 L1361.0,1018.1 L1362.8,1018.9 L1363.9,1019.5 L1365.0,1019.6 L1366.7,1020.0 L1368.2,1020.4 L1369.7,1020.7 L1371.2,1021.1 L1373.0,1021.6 L1374.7,1022.4 L1376.0,1023.1 L1376.9,1023.3 L1378.1,1023.3 L1379.6,1023.4 L1381.1,1023.5 L1382.6,1023.5 L1384.6,1023.7 L1386.6,1024.4 L1388.0,1025.1 L1389.1,1025.4 L1390.4,1025.6 L1391.9,1025.8 L1393.4,1026.0 L1394.9,1026.3 L1396.8,1026.6 L1398.7,1027.4 L1400.0,1028.0 L1401.1,1028.4 L1402.3,1028.5 L1403.8,1028.6 L1405.3,1028.8 L1406.8,1028.9 L1408.6,1029.1 L1410.6,1029.8 L1411.9,1030.4 L1412.9,1030.6 L1414.3,1030.8 L1415.8,1030.9 L1417.3,1031.1 L1418.9,1031.3 L1420.7,1031.6 L1422.5,1032.2 L1424.1,1032.8 L1425.3,1033.3 L1426.5,1033.5 L1428.0,1033.8 L1429.4,1034.0 L1430.7,1034.2 L1432.3,1034.2 L1434.1,1034.5 L1435.8,1035.0 L1436.9,1035.3 L1438.0,1035.3 L1439.5,1035.3 L1441.2,1035.4 L1442.8,1035.5 L1444.4,1035.7 L1446.3,1036.0 L1448.0,1036.6 L1449.2,1037.1 L1450.3,1037.3 L1451.7,1037.4 L1453.1,1037.4 L1454.6,1037.5 L1456.2,1037.5 L1458.1,1037.7 L1459.9,1038.3 L1461.1,1038.7 L1462.2,1038.7 L1463.8,1038.9 L1465.4,1039.1 L1466.9,1039.3 L1468.5,1039.5 L1470.3,1039.9 L1472.1,1040.6 L1473.4,1041.2 L1474.4,1041.5 L1475.4,1041.4 L1476.9,1041.4 L1478.4,1041.3 L1479.9,1041.3 L1481.9,1041.3 L1483.9,1041.9 L1485.1,1042.3 L1486.3,1042.4 L1487.7,1042.5 L1489.2,1042.7 L1490.7,1042.8 L1492.2,1042.9 L1494.0,1043.1 L1495.8,1043.6 L1497.3,1044.0 L1498.3,1044.3 L1499.3,1044.2 L1500.8,1044.1 L1502.3,1044.0 L1503.8,1043.9 L1505.7,1043.8 L1507.8,1044.3 L1509.4,1044.8 L1510.3,1045.1 L1511.4,1045.0 L1512.9,1045.0 L1514.4,1044.9 L1515.9,1044.8 L1517.8,1044.8 L1519.9,1045.3 L1521.4,1045.9 L1522.4,1046.1 L1523.7,1046.2 L1525.2,1046.3 L1526.7,1046.4 L1528.2,1046.5 L1529.9,1046.7 L1531.7,1047.0 L1533.3,1047.5 L1534.6,1047.9 L1535.8,1048.0 L1537.2,1048.1 L1538.7,1048.2 L1540.2,1048.4 L1541.7,1048.4 L1543.5,1048.6 L1545.2,1049.0 L1546.5,1049.4 L1547.7,1049.5 L1549.0,1049.5 L1550.4,1049.5 L1551.8,1049.4 L1553.4,1049.3 L1555.3,1049.3 L1557.2,1049.7 L1558.4,1050.0 L1559.4,1050.1 L1560.8,1050.0 L1562.5,1049.9 L1564.1,1050.0 L1565.6,1050.0 L1567.6,1050.2 L1569.5,1050.9 L1570.6,1051.4 L1571.7,1051.4 L1573.0,1051.5 L1574.3,1051.4 L1575.8,1051.3 L1577.3,1051.2 L1579.0,1051.1 L1580.8,1051.2 L1582.2,1051.4 L1583.6,1051.4 L1585.2,1051.5 L1586.7,1051.6 L1588.2,1051.7 L1589.7,1051.9 L1591.4,1052.0 L1593.2,1052.4 L1594.7,1052.8 L1595.8,1053.1 L1596.9,1053.0 L1598.4,1053.0 L1599.9,1052.9 L1601.4,1052.9 L1603.1,1052.8 L1605.0,1053.1 L1606.7,1053.5 L1607.9,1053.8 L1609.0,1053.8 L1610.5,1053.8 L1612.0,1053.8 L1613.5,1053.8 L1615.2,1053.9 L1617.1,1054.2 L1618.8,1054.7 L1619.8,1055.0 L1620.8,1054.9 L1622.3,1054.8 L1623.8,1054.7 L1625.3,1054.6 L1627.1,1054.6 L1629.3,1054.9 L1631.1,1055.6 L1632.2,1056.1 L1633.2,1056.2 L1634.7,1056.3 L1636.2,1056.3 L1637.6,1056.4 L1639.0,1056.5 L1640.9,1056.5 L1642.7,1057.0 L1643.8,1057.3 L1644.8,1057.2 L1646.2,1057.1 L1647.7,1056.9 L1649.4,1056.8 L1651.2,1056.8 L1653.2,1057.1 L1655.1,1057.8 L1656.2,1058.3 L1657.3,1058.3 L1658.8,1058.5 L1660.2,1058.7 L1661.4,1058.7 L1662.8,1058.6 L1664.6,1058.5 L1666.3,1058.7 L1667.9,1058.8 L1669.0,1059.1 L1670.2,1058.9 L1671.9,1058.7 L1673.5,1058.7 L1675.0,1058.7 L1677.0,1058.8 L1679.0,1059.5 L1680.3,1060.1 L1681.3,1060.2 L1682.6,1060.3 L1684.0,1060.3 L1685.5,1060.3 L1687.0,1060.3 L1688.8,1060.3 L1690.8,1060.7 L1692.2,1061.2 L1693.3,1061.4 L1694.7,1061.4 L1696.2,1061.6 L1697.7,1061.7 L1699.2,1061.8 L1700.9,1061.9 L1702.7,1062.2 L1704.3,1062.7 L1705.4,1063.0 L1706.5,1063.0 L1708.0,1063.0 L1709.5,1062.9 L1711.0,1062.9 L1712.6,1062.9 L1714.5,1063.1 L1716.2,1063.5 L1717.6,1063.9 L1718.7,1064.0 L1720.1,1064.0 L1721.6,1064.1 L1723.1,1064.1 L1724.7,1064.2 L1726.6,1064.4 L1728.4,1065.0 L1729.4,1065.3 L1730.4,1065.3 L1731.9,1065.2 L1733.4,1065.2 L1734.9,1065.2 L1736.5,1065.1 L1738.6,1065.3 L1740.4,1065.9 L1741.7,1066.4 L1742.8,1066.5 L1744.2,1066.6 L1745.7,1066.7 L1747.2,1066.8 L1748.7,1066.9 L1750.7,1067.1 L1752.5,1067.8 L1753.9,1068.4 L1755.0,1068.7 L1756.2,1068.7 L1757.7,1068.8 L1759.1,1068.9 L1760.4,1068.9 L1762.3,1068.8 L1764.4,1069.4 L1765.7,1069.8 L1766.6,1070.0 L1767.8,1069.9 L1769.4,1069.8 L1771.1,1069.7 L1772.7,1069.8 L1774.6,1070.0 L1776.6,1070.7 L1778.0,1071.4 L1779.0,1071.7 L1780.2,1071.8 L1781.6,1071.9 L1783.0,1071.9 L1784.5,1071.9 L1786.4,1072.0 L1788.3,1072.4 L1790.0,1073.0 L1791.0,1073.4 L1792.0,1073.4 L1793.5,1073.4 L1795.1,1073.5 L1796.6,1073.5 L1798.4,1073.5 L1800.4,1074.0 L1802.0,1074.7 L1803.0,1075.1 L1804.2,1075.1 L1805.7,1075.2 L1807.2,1075.3 L1808.7,1075.4 L1810.3,1075.5 L1812.3,1075.9 L1814.0,1076.5 L1815.4,1077.1 L1816.5,1077.4 L1817.8,1077.5 L1819.3,1077.7 L1820.8,1077.9 L1822.5,1078.1 L1824.6,1078.6 L1826.4,1079.7 L1827.3,1080.2 L1828.1,1080.2 L1829.6,1080.3 L1831.1,1080.3 L1832.6,1080.4 L1834.2,1080.5 L1836.2,1080.7 L1838.1,1081.5 L1839.4,1082.1 L1840.3,1082.3 L1841.5,1082.3 L1843.0,1082.3 L1844.5,1082.3 L1846.0,1082.3 L1848.2,1082.4 L1850.4,1083.4 L1851.4,1084.1 L1852.3,1084.1 L1853.9,1084.3 L1855.4,1084.5 L1856.9,1084.7 L1858.4,1084.9 L1860.3,1085.2 L1862.1,1085.9 L1863.7,1086.6 L1864.8,1087.2 L1865.8,1087.3 L1867.3,1087.4 L1868.8,1087.6 L1870.2,1087.7 L1872.1,1087.9 L1874.2,1088.7 L1875.7,1089.5 L1876.6,1089.8 L1877.7,1089.9 L1879.3,1090.0 L1880.8,1090.2 L1882.4,1090.4 L1884.2,1090.7 L1886.2,1091.4 L1887.9,1092.3 L1888.9,1092.9 L1889.9,1093.0 L1891.3,1093.2 L1892.8,1093.3 L1894.3,1093.5 L1896.0,1093.7 L1898.1,1094.3 L1899.9,1095.3 L1900.8,1095.8 L1901.7,1095.7 L1903.3,1095.9 L1904.8,1096.1 L1906.3,1096.2 L1907.9,1096.4 L1909.8,1096.7 L1911.5,1097.4 L1912.8,1097.9 L1914.0,1098.2 L1915.4,1098.3 L1916.9,1098.6 L1918.4,1098.8 L1920.0,1099.0 L1922.0,1099.4 L1923.9,1100.4 L1925.0,1101.1 L1925.9,1101.2 L1927.4,1101.4 L1928.9,1101.6 L1930.4,1101.8 L1931.9,1102.0 L1933.8,1102.3 L1935.7,1103.1 L1936.9,1103.6 L1938.0,1103.8 L1939.4,1104.0 L1940.9,1104.2 L1942.4,1104.4 L1943.9,1104.6 L1945.7,1104.9 L1947.6,1105.6 L1949.0,1106.2 L1950.2,1106.5 L1951.5,1106.8 L1953.0,1107.1 L1954.5,1107.3 L1956.0,1107.6 L1957.8,1108.0 L1959.6,1108.6 L1961.3,1109.4 L1962.4,1110.1 L1963.3,1110.1 L1964.8,1110.3 L1966.3,1110.5 L1967.8,1110.6 L1969.6,1110.8 L1971.7,1111.6 L1973.3,1112.4 L1974.2,1112.9 L1975.2,1112.9 L1976.7,1113.0 L1978.2,1113.1 L1979.8,1113.2 L1981.6,1113.5 L1983.6,1114.1 L1985.2,1114.9 L1986.2,1115.4 L1987.4,1115.5 L1988.9,1115.7 L1990.4,1115.9 L1991.8,1116.1 L1993.5,1116.3 L1995.3,1116.7 L1997.0,1117.4 L1998.2,1117.9 L1999.3,1118.0 L2000.9,1118.1 L2002.5,1118.4 L2004.0,1118.6 L2005.6,1118.9 L2007.5,1119.4 L2009.2,1120.2 L2010.5,1120.8 L2011.6,1121.1 L2012.8,1121.3 L2014.2,1121.3 L2015.7,1121.4 L2017.2,1121.5 L2019.2,1121.8 L2021.1,1122.5 L2022.4,1123.1 L2023.3,1123.3 L2024.4,1123.2 L2025.9,1123.2 L2027.4,1123.1 L2028.9,1123.1 L2031.0,1123.1 L2033.0,1123.8 L2034.2,1124.3 L2035.5,1124.5 L2037.0,1124.7 L2038.5,1125.0 L2040.0,1125.3 L2041.5,1125.6 L2043.3,1125.9 L2045.0,1126.5 L2046.5,1127.1 L2047.6,1127.6 L2048.6,1127.6 L2050.1,1127.6 L2051.6,1127.6 L2053.1,1127.7 L2055.0,1127.7 L2057.0,1128.4 L2058.5,1129.0 L2059.4,1129.4 L2060.5,1129.3 L2062.0,1129.3 L2063.5,1129.3 L2065.0,1129.2 L2066.7,1129.2 L2068.7,1129.6 L2070.2,1130.1 L2071.2,1130.3 L2072.4,1130.2 L2073.9,1130.2 L2075.4,1130.1 L2076.9,1130.1 L2078.7,1130.1 L2080.6,1130.3 L2082.2,1130.8 L2080.8,1136.3 L2079.4,1135.9 L2078.3,1135.8 L2077.1,1135.8 L2075.6,1135.8 L2074.1,1135.9 L2072.6,1135.9 L2070.8,1135.9 L2068.8,1135.6 L2067.3,1135.1 L2066.3,1134.9 L2065.0,1134.9 L2063.5,1135.0 L2062.0,1135.0 L2060.5,1135.0 L2058.6,1135.0 L2056.5,1134.4 L2055.0,1133.7 L2054.0,1133.4 L2052.9,1133.4 L2051.4,1133.3 L2049.9,1133.3 L2048.4,1133.3 L2046.4,1133.2 L2044.5,1132.4 L2043.0,1131.9 L2041.7,1131.4 L2040.5,1131.2 L2039.0,1130.9 L2037.5,1130.6 L2036.0,1130.4 L2034.5,1130.1 L2032.8,1129.8 L2031.0,1129.1 L2030.0,1128.7 L2029.1,1128.8 L2027.6,1128.8 L2026.1,1128.9 L2024.6,1128.9 L2022.7,1129.0 L2020.6,1128.5 L2018.9,1127.8 L2017.8,1127.3 L2016.8,1127.2 L2015.3,1127.1 L2013.8,1127.0 L2012.2,1126.9 L2010.4,1126.7 L2008.5,1126.2 L2006.8,1125.4 L2005.5,1124.8 L2004.4,1124.5 L2003.0,1124.3 L2001.5,1124.0 L2000.1,1123.8 L1998.7,1123.6 L1996.8,1123.4 L1995.0,1122.7 L1993.7,1122.1 L1992.5,1121.9 L1991.2,1121.8 L1989.6,1121.6 L1988.1,1121.4 L1986.6,1121.2 L1984.8,1120.9 L1982.8,1120.1 L1981.4,1119.3 L1980.4,1119.0 L1979.2,1118.9 L1977.8,1118.8 L1976.3,1118.7 L1974.8,1118.6 L1972.8,1118.4 L1970.7,1117.6 L1969.3,1116.7 L1968.4,1116.4 L1967.2,1116.3 L1965.7,1116.1 L1964.2,1116.0 L1962.7,1115.8 L1960.6,1115.5 L1958.7,1114.5 L1957.4,1113.9 L1956.2,1113.4 L1955.0,1113.2 L1953.5,1113.0 L1952.0,1112.7 L1950.5,1112.4 L1948.8,1112.1 L1947.0,1111.5 L1945.4,1110.8 L1944.3,1110.4 L1943.1,1110.3 L1941.6,1110.1 L1940.1,1109.9 L1938.6,1109.7 L1937.0,1109.5 L1935.1,1109.1 L1933.3,1108.3 L1932.2,1107.7 L1931.1,1107.6 L1929.6,1107.4 L1928.1,1107.2 L1926.6,1107.0 L1925.1,1106.8 L1923.0,1106.4 L1921.1,1105.4 L1920.0,1104.8 L1919.0,1104.6 L1917.6,1104.4 L1916.1,1104.2 L1914.6,1104.0 L1913.0,1103.8 L1911.2,1103.4 L1909.5,1102.7 L1908.2,1102.2 L1907.1,1102.0 L1905.7,1101.9 L1904.2,1101.7 L1902.7,1101.6 L1901.3,1101.4 L1899.2,1101.3 L1897.1,1100.2 L1895.9,1099.5 L1895.0,1099.3 L1893.7,1099.2 L1892.2,1099.0 L1890.7,1098.9 L1889.1,1098.7 L1887.1,1098.3 L1885.1,1097.3 L1883.8,1096.6 L1882.8,1096.2 L1881.6,1096.0 L1880.2,1095.8 L1878.7,1095.7 L1877.3,1095.6 L1875.4,1095.4 L1873.3,1094.7 L1871.8,1093.8 L1870.9,1093.4 L1869.8,1093.4 L1868.2,1093.3 L1866.7,1093.1 L1865.2,1093.0 L1863.2,1092.7 L1861.3,1091.8 L1859.9,1091.2 L1858.7,1090.7 L1857.6,1090.6 L1856.1,1090.4 L1854.6,1090.2 L1853.1,1090.0 L1851.7,1089.8 L1849.6,1089.5 L1847.6,1088.5 L1846.8,1087.9 L1846.0,1088.0 L1844.5,1088.0 L1843.0,1088.0 L1841.5,1088.0 L1839.7,1087.9 L1837.6,1087.5 L1835.9,1086.7 L1834.8,1086.2 L1833.8,1086.2 L1832.4,1086.1 L1830.9,1086.0 L1829.4,1086.0 L1827.9,1085.9 L1825.7,1085.7 L1823.6,1084.6 L1822.4,1083.9 L1821.5,1083.7 L1820.2,1083.6 L1818.7,1083.4 L1817.2,1083.2 L1815.5,1083.0 L1813.6,1082.5 L1812.0,1081.9 L1810.7,1081.4 L1809.7,1081.2 L1808.3,1081.1 L1806.8,1081.0 L1805.3,1080.9 L1803.8,1080.8 L1802.0,1080.7 L1800.0,1080.0 L1798.6,1079.4 L1797.6,1079.2 L1796.4,1079.2 L1794.9,1079.1 L1793.5,1079.1 L1792.0,1079.1 L1790.0,1079.1 L1788.0,1078.4 L1786.7,1077.9 L1785.6,1077.6 L1784.5,1077.6 L1783.0,1077.6 L1781.4,1077.6 L1779.8,1077.5 L1778.0,1077.3 L1776.0,1076.7 L1774.4,1076.0 L1773.4,1075.6 L1772.3,1075.5 L1770.9,1075.4 L1769.6,1075.5 L1768.2,1075.6 L1766.4,1075.7 L1764.3,1075.3 L1762.6,1074.8 L1761.7,1074.5 L1760.6,1074.6 L1758.9,1074.6 L1757.3,1074.5 L1755.8,1074.4 L1754.0,1074.3 L1752.1,1073.8 L1750.5,1073.1 L1749.3,1072.6 L1748.3,1072.6 L1746.8,1072.5 L1745.3,1072.4 L1743.8,1072.3 L1742.2,1072.2 L1740.3,1071.9 L1738.6,1071.3 L1737.4,1070.9 L1736.5,1070.8 L1735.1,1070.9 L1733.6,1070.9 L1732.1,1070.9 L1730.6,1071.0 L1728.6,1071.0 L1726.6,1070.4 L1725.4,1070.0 L1724.3,1069.9 L1722.9,1069.8 L1721.4,1069.8 L1719.9,1069.7 L1718.3,1069.7 L1716.4,1069.5 L1714.8,1069.0 L1713.5,1068.7 L1712.4,1068.6 L1711.0,1068.6 L1709.5,1068.6 L1708.0,1068.6 L1706.5,1068.7 L1704.6,1068.7 L1702.7,1068.2 L1701.3,1067.8 L1700.1,1067.6 L1698.8,1067.5 L1697.3,1067.4 L1695.8,1067.2 L1694.3,1067.1 L1692.7,1067.0 L1690.8,1066.8 L1689.2,1066.2 L1688.2,1066.0 L1687.0,1066.0 L1685.5,1066.0 L1684.0,1066.0 L1682.4,1066.0 L1680.7,1065.9 L1678.7,1065.5 L1677.0,1064.8 L1676.0,1064.4 L1675.0,1064.4 L1673.5,1064.4 L1672.1,1064.4 L1670.8,1064.5 L1669.0,1064.8 L1667.1,1064.5 L1665.7,1064.3 L1664.4,1064.2 L1663.2,1064.3 L1661.6,1064.4 L1659.8,1064.4 L1658.2,1064.2 L1656.7,1064.0 L1654.8,1063.8 L1652.9,1063.1 L1651.8,1062.6 L1650.8,1062.5 L1649.6,1062.5 L1648.3,1062.6 L1646.8,1062.7 L1645.2,1062.9 L1643.2,1062.9 L1641.3,1062.5 L1640.1,1062.1 L1639.0,1062.2 L1637.4,1062.1 L1635.8,1062.0 L1634.3,1062.0 L1632.8,1061.9 L1630.8,1061.7 L1628.9,1060.9 L1627.7,1060.3 L1626.9,1060.2 L1625.7,1060.3 L1624.2,1060.4 L1622.7,1060.5 L1621.2,1060.6 L1619.2,1060.7 L1617.2,1060.1 L1615.9,1059.7 L1614.8,1059.5 L1613.5,1059.5 L1612.0,1059.5 L1610.5,1059.5 L1609.0,1059.5 L1607.1,1059.5 L1605.3,1059.0 L1604.0,1058.7 L1602.9,1058.5 L1601.6,1058.6 L1600.1,1058.6 L1598.6,1058.7 L1597.1,1058.7 L1595.2,1058.8 L1593.3,1058.4 L1591.8,1057.9 L1590.6,1057.6 L1589.3,1057.5 L1587.8,1057.4 L1586.3,1057.3 L1584.8,1057.2 L1583.4,1057.1 L1581.8,1057.1 L1580.2,1056.9 L1579.0,1056.8 L1577.7,1056.9 L1576.2,1057.0 L1574.7,1057.1 L1573.0,1057.2 L1571.3,1057.1 L1569.4,1056.9 L1567.5,1056.2 L1566.4,1055.8 L1565.4,1055.7 L1563.9,1055.7 L1562.5,1055.6 L1561.2,1055.7 L1559.6,1055.8 L1557.6,1055.7 L1555.8,1055.3 L1554.7,1055.0 L1553.6,1055.0 L1552.2,1055.1 L1550.6,1055.2 L1549.0,1055.2 L1547.3,1055.2 L1545.5,1055.0 L1543.8,1054.5 L1542.5,1054.2 L1541.3,1054.1 L1539.8,1054.0 L1538.3,1053.9 L1536.8,1053.8 L1535.2,1053.7 L1533.4,1053.4 L1531.7,1053.0 L1530.3,1052.6 L1529.1,1052.3 L1527.8,1052.2 L1526.3,1052.1 L1524.8,1052.0 L1523.3,1051.9 L1521.6,1051.7 L1519.6,1051.3 L1518.1,1050.7 L1517.2,1050.5 L1516.1,1050.5 L1514.6,1050.6 L1513.1,1050.7 L1511.6,1050.7 L1509.7,1050.8 L1507.6,1050.3 L1506.2,1049.7 L1505.3,1049.5 L1504.2,1049.6 L1502.7,1049.7 L1501.2,1049.8 L1499.7,1049.9 L1497.7,1050.0 L1495.7,1049.5 L1494.2,1049.0 L1493.0,1048.7 L1491.8,1048.6 L1490.3,1048.5 L1488.8,1048.4 L1487.3,1048.2 L1485.7,1048.1 L1483.9,1047.8 L1482.1,1047.3 L1481.1,1046.9 L1480.1,1047.0 L1478.6,1047.0 L1477.1,1047.1 L1475.6,1047.1 L1473.6,1047.1 L1471.6,1046.6 L1469.9,1045.9 L1468.7,1045.3 L1467.5,1045.2 L1466.1,1045.0 L1464.6,1044.7 L1463.2,1044.5 L1461.8,1044.4 L1459.9,1044.3 L1458.1,1043.7 L1456.9,1043.3 L1455.8,1043.2 L1454.4,1043.2 L1452.9,1043.1 L1451.3,1043.0 L1449.7,1042.9 L1447.8,1042.6 L1446.0,1042.0 L1444.7,1041.5 L1443.6,1041.3 L1442.2,1041.2 L1440.8,1041.1 L1439.5,1041.0 L1438.0,1041.0 L1436.1,1040.9 L1434.2,1040.5 L1432.9,1040.1 L1431.7,1039.9 L1430.3,1039.9 L1428.6,1039.6 L1427.0,1039.4 L1425.5,1039.1 L1423.7,1038.8 L1421.9,1038.1 L1420.5,1037.5 L1419.3,1037.1 L1418.1,1036.9 L1416.7,1036.8 L1415.2,1036.6 L1413.7,1036.4 L1412.1,1036.2 L1410.1,1035.8 L1408.4,1035.1 L1407.4,1034.7 L1406.2,1034.6 L1404.7,1034.4 L1403.2,1034.3 L1401.7,1034.1 L1399.9,1033.9 L1398.0,1033.3 L1396.3,1032.6 L1395.2,1032.0 L1394.1,1031.9 L1392.6,1031.7 L1391.1,1031.4 L1389.6,1031.2 L1387.9,1031.0 L1386.0,1030.4 L1384.4,1029.7 L1383.4,1029.2 L1382.4,1029.2 L1380.9,1029.2 L1379.4,1029.1 L1377.9,1029.0 L1376.1,1028.9 L1374.0,1028.4 L1372.3,1027.6 L1371.0,1026.9 L1369.8,1026.6 L1368.3,1026.3 L1366.8,1025.9 L1365.3,1025.6 L1364.0,1025.2 L1362.1,1024.9 L1360.2,1024.0 L1359.0,1023.4 L1358.0,1023.2 L1356.6,1023.0 L1355.1,1022.8 L1353.6,1022.5 L1352.1,1022.3 L1350.0,1021.9 L1348.1,1020.9 L1346.8,1020.1 L1345.8,1019.8 L1344.5,1019.5 L1343.0,1019.3 L1341.6,1019.0 L1340.1,1018.8 L1338.2,1018.5 L1336.1,1017.6 L1334.6,1016.5 L1333.8,1016.2 L1332.7,1016.1 L1331.3,1016.0 L1329.8,1015.9 L1328.3,1015.7 L1326.1,1015.5 L1324.1,1014.3 L1322.9,1013.8 L1321.7,1013.3 L1320.4,1013.1 L1318.8,1012.7 L1317.2,1012.3 L1315.7,1011.8 L1314.0,1011.3 L1312.2,1010.5 L1310.6,1009.5 L1309.4,1008.8 L1308.3,1008.5 L1306.8,1008.2 L1305.3,1007.8 L1303.8,1007.4 L1302.3,1007.0 L1300.2,1006.4 L1298.3,1005.0 L1297.3,1004.2 L1296.5,1004.2 L1295.0,1004.0 L1293.5,1003.7 L1292.0,1003.5 L1290.0,1003.1 L1288.1,1002.1 L1286.6,1001.2 L1285.4,1000.6 L1284.3,1000.3 L1282.8,999.9 L1281.3,999.5 L1279.8,999.1 L1278.3,998.7 L1276.4,998.2 L1274.5,997.1 L1273.2,996.2 L1272.2,995.9 L1270.8,995.6 L1269.3,995.2 L1267.8,994.8 L1266.1,994.3 L1264.3,993.7 L1262.7,992.8 L1261.4,992.1 L1260.2,991.7 L1258.9,991.4 L1257.4,991.1 L1255.9,990.7 L1254.3,990.4 L1252.5,989.9 L1250.5,989.0 L1249.0,987.8 L1248.1,987.4 L1247.0,987.3 L1245.5,987.0 L1244.0,986.7 L1242.3,986.4 L1240.1,985.7 L1238.1,984.2 L1236.7,982.8 L1235.7,982.1 L1234.7,981.8 L1233.2,981.4 L1231.9,981.0 L1230.6,980.8 L1228.4,980.4 L1226.4,979.1 L1225.0,978.2 L1224.0,977.6 L1222.9,977.3 L1221.3,977.0 L1219.7,976.5 L1218.1,976.0 L1216.3,975.4 L1214.5,974.3 L1212.9,973.3 L1211.7,972.4 L1210.6,972.1 L1209.2,971.6 L1207.8,971.3 L1206.3,970.9 L1204.8,970.5 L1202.7,969.9 L1200.8,968.5 L1199.8,967.7 L1198.8,967.6 L1197.2,967.1 L1195.7,966.6 L1194.2,966.2 L1192.5,965.7 L1190.4,964.7 L1188.6,963.1 L1187.5,962.0 L1186.6,961.8 L1185.2,961.4 L1183.7,960.9 L1182.2,960.5 L1180.4,959.9 L1178.4,958.9 L1176.8,957.6 L1175.5,956.7 L1174.5,956.2 L1173.1,955.8 L1171.6,955.3 L1170.1,954.9 L1169.0,954.5 L1166.7,954.1 L1164.5,952.2 L1163.2,950.8 L1162.4,950.3 L1161.2,950.1 L1159.7,949.6 L1158.2,949.2 L1156.7,948.8 L1154.5,948.1 L1152.6,946.4 L1151.4,945.3 L1150.4,944.7 L1149.2,944.5 L1147.7,944.0 L1146.2,943.6 L1144.7,943.2 L1142.7,942.6 L1140.7,941.2 L1139.2,939.9 L1138.2,939.1 L1137.2,938.9 L1135.7,938.4 L1134.2,938.0 L1132.6,937.5 L1130.6,936.7 L1128.6,935.2 L1127.0,933.7 L1126.0,932.7 L1125.0,932.3 L1123.4,931.7 L1122.0,931.1 L1120.6,930.7 L1118.9,930.1 L1116.8,928.9 L1115.0,927.2 L1114.0,926.2 L1113.2,926.0 L1111.7,925.6 L1110.1,925.1 L1108.6,924.6 L1106.9,924.1 L1104.7,922.9 L1102.9,920.9 L1101.8,919.7 L1101.1,919.5 L1099.7,919.1 L1098.3,918.7 L1096.8,918.3 L1094.9,917.8 L1092.8,916.5 L1091.1,915.0 L1089.9,913.8 L1088.9,913.4 L1087.5,912.8 L1085.9,912.2 L1084.4,911.6 L1082.9,911.0 L1080.8,910.1 L1078.9,908.1 L1077.7,906.7 L1076.7,906.1 L1075.5,905.7 L1074.0,905.1 L1072.5,904.5 L1071.0,903.9 L1068.8,903.0 L1066.9,901.1 L1065.6,899.7 L1064.6,899.0 L1063.5,898.6 L1062.0,898.0 L1060.5,897.4 L1059.0,896.9 L1057.0,896.0 L1055.0,894.3 L1053.6,892.9 L1052.5,892.0 L1051.4,891.6 L1049.9,891.0 L1048.4,890.4 L1046.9,889.8 L1045.0,889.0 L1043.1,887.4 L1041.7,886.1 L1040.5,885.1 L1039.3,884.6 L1037.8,883.9 L1036.3,883.2 L1034.8,882.5 L1033.1,881.7 L1031.1,880.4 L1029.3,878.2 L1028.2,876.9 L1027.4,876.6 L1025.9,876.0 L1024.4,875.4 L1023.0,874.8 L1021.1,874.1 L1019.2,872.5 L1017.7,871.3 L1016.5,870.3 L1015.4,869.9 L1013.9,869.3 L1012.3,868.6 L1010.7,867.9 L1009.1,867.0 L1007.3,865.9 L1005.5,864.3 L1004.3,863.1 L1003.2,862.4 L1001.7,861.7 L1000.2,861.0 L998.7,860.3 L997.4,859.6 L995.3,858.7 L993.4,856.6 L992.1,855.2 L991.2,854.6 L989.9,854.1 L988.3,853.4 L986.8,852.7 L985.1,851.9 L983.2,850.6 L981.5,848.9 L980.1,847.5 L979.0,846.7 L977.7,846.0 L976.2,845.3 L974.7,844.5 L973.2,843.8 L971.4,842.8 L969.5,841.2 L968.1,839.8 L967.0,838.9 L965.7,838.3 L964.2,837.5 L962.7,836.8 L961.2,836.0 L959.4,835.1 L957.6,833.5 L956.1,832.1 L955.0,831.2 L953.8,830.7 L952.3,830.0 L950.8,829.3 L949.3,828.6 L947.6,827.8 L945.7,826.5 L944.1,825.0 L943.1,824.1 L942.1,823.9 L940.6,823.4 L939.1,822.9 L937.6,822.4 L935.9,821.8 L933.7,820.6 L931.9,818.6 L930.8,817.4 L930.0,817.2 L928.5,816.6 L927.0,816.1 L925.5,815.5 L923.6,814.8 L921.5,813.2 L919.8,811.2 L918.6,809.8 L917.7,809.3 L916.2,808.6 L914.7,807.9 L913.4,807.2 L912.0,806.7 L909.8,805.8 L907.9,803.6 L906.7,802.3 L906.0,802.0 L904.7,801.6 L903.2,801.2 L901.8,800.8 L899.9,800.3 L897.8,799.2 L896.1,797.6 L894.8,796.5 L893.8,795.9 L892.6,795.5 L891.0,795.0 L889.4,794.3 L887.9,793.7 L886.0,792.9 L884.0,791.2 L882.6,789.6 L881.7,789.0 L880.6,788.6 L879.0,788.1 L877.5,787.5 L876.0,787.0 L873.9,786.1 L871.9,784.2 L870.5,782.6 L869.6,781.7 L868.8,781.6 L867.4,781.3 L865.9,780.9 L864.4,780.6 L862.2,780.0 L860.1,778.3 L858.7,777.1 L857.5,776.2 L856.3,775.7 L854.8,775.0 L853.3,774.3 L851.8,773.6 L850.1,772.8 L848.1,771.4 L846.5,769.6 L845.5,768.6 L844.7,768.5 L843.2,768.1 L841.7,767.7 L840.2,767.2 L838.2,766.6 L836.3,765.2 L834.8,764.1 L833.6,763.1 L832.4,762.7 L831.0,762.1 L829.5,761.5 L828.0,760.9 L826.3,760.3 L824.4,759.3 L822.6,757.8 L821.3,756.6 L820.2,756.0 L818.8,755.3 L817.3,754.6 L815.8,753.8 L814.3,753.1 L812.5,752.4 L810.7,750.9 L809.5,749.9 L808.4,749.4 L807.0,748.9 L805.5,748.4 L804.0,747.9 L802.6,747.3 L800.5,746.5 L798.5,744.7 L797.2,743.4 L796.2,742.8 L795.0,742.3 L793.5,741.7 L792.1,741.2 L790.6,740.7 L788.5,740.0 L786.6,738.4 L785.3,737.2 L784.2,736.5 L783.0,736.1 L781.5,735.5 L780.0,735.0 L778.5,734.4 L776.7,733.7 L774.7,732.4 L773.1,730.8 L772.1,730.0 L771.1,729.7 L769.6,729.2 L768.0,728.6 L766.5,728.1 L764.5,727.3 L762.6,725.7 L761.0,724.2 L760.0,723.2 L759.1,722.9 L757.7,722.6 L756.2,722.1 L754.7,721.7 L753.0,721.2 L750.8,720.1 L749.0,718.3 L747.9,717.2 L747.0,716.9 L745.5,716.3 L744.0,715.8 L742.5,715.2 L740.6,714.5 L738.6,713.0 L736.9,711.2 L735.8,709.9 L734.9,709.6 L733.4,709.0 L731.9,708.4 L730.4,707.8 L728.9,707.2 L726.7,706.1 L724.9,704.1 L723.7,702.8 L723.0,702.5 L721.7,702.1 L720.2,701.7 L718.7,701.2 L716.9,700.7 L714.7,699.5 L712.9,697.5 L711.6,696.1 L710.5,695.3 L709.2,694.7 L707.7,693.9 L706.2,693.1 L704.8,692.4 L703.0,691.6 L701.0,690.0 L699.6,688.4 L698.7,687.8 L697.7,687.6 L696.2,687.1 L694.7,686.7 L692.9,686.1 L690.7,685.0 L688.8,682.8 L687.4,681.1 L686.3,680.0 L685.2,679.5 L683.7,678.7 L682.3,678.0 L680.9,677.4 L678.9,676.6 L677.0,674.8 L675.5,673.1 L674.4,672.1 L673.4,671.7 L671.9,671.0 L670.4,670.4 L668.9,669.8 L667.0,669.0 L665.1,667.5 L663.5,665.8 L662.3,664.6 L661.3,664.3 L659.7,663.5 L658.1,662.6 L656.6,661.8 L654.9,660.8 L653.0,659.3 L651.2,657.1 L650.1,655.5 L649.3,655.2 L648.0,654.7 L646.5,654.1 L645.0,653.5 L643.3,652.8 L641.1,651.5 L639.2,649.3 L638.0,647.6 L637.1,647.2 L635.8,646.5 L634.3,645.8 L632.8,645.1 L631.1,644.2 L629.0,642.7 L627.2,640.4 L625.9,638.6 L625.0,637.9 L623.7,637.3 L622.2,636.6 L620.7,635.8 L619.3,635.1 L617.1,634.0 L615.1,631.3 L613.7,629.1 L612.7,628.0 L611.5,627.4 L610.0,626.5 L608.5,625.6 L607.0,624.7 L605.0,623.4 L603.3,621.0 L602.0,619.6 L600.9,618.7 L599.7,618.1 L598.2,617.3 L596.7,616.5 L595.1,615.7 L593.2,614.5 L591.3,612.5 L589.9,610.7 L588.6,609.4 L587.4,608.6 L585.9,607.5 L584.4,606.5 L582.8,605.4 L581.1,604.0 L579.3,602.1 L577.8,600.1 L576.5,598.5 L575.2,597.6 L573.7,596.4 L572.3,595.3 L570.9,594.3 L569.4,593.3 L567.4,591.7 L565.6,589.2 L564.5,587.4 L563.6,587.0 L562.1,586.2 L560.6,585.3 L559.1,584.4 L557.2,583.3 L555.3,581.4 L553.7,579.1 L552.4,577.3 L551.4,576.6 L550.1,575.8 L548.7,575.0 L547.2,574.3 L545.7,573.5 L543.5,572.2 L541.6,569.5 L540.4,567.5 L539.5,567.0 L538.1,566.3 L536.6,565.4 L535.1,564.6 L533.3,563.6 L531.3,561.7 L529.7,559.5 L528.4,557.6 L527.3,556.7 L526.0,555.9 L524.5,554.9 L523.0,554.0 L521.5,553.0 L519.6,551.8 L517.7,549.5 L516.2,547.3 L515.1,546.0 L514.0,545.4 L512.5,544.5 L511.0,543.5 L509.5,542.6 L507.5,541.3 L505.6,538.8 L504.2,536.5 L503.2,535.3 L502.2,534.9 L500.7,534.1 L499.2,533.4 L497.7,532.6 L495.6,531.4 L493.7,529.0 L492.2,527.0 L491.1,525.5 L490.0,524.9 L488.5,524.0 L487.0,523.1 L485.5,522.2 L483.6,521.0 L481.8,519.0 L480.2,516.9 L479.0,515.3 L477.9,514.6 L476.4,513.7 L474.9,512.7 L473.6,511.8 L471.9,510.9 L470.0,509.4 L468.4,507.6 L467.2,506.2 L466.2,505.7 L464.7,504.9 L463.1,504.1 L461.5,503.1 L459.9,502.1 L458.0,500.6 L456.2,498.4 L455.0,496.7 L453.9,496.0 L452.5,495.2 L451.0,494.2 L449.5,493.3 L448.0,492.4 L446.0,491.1 L444.2,488.7 L442.9,486.8 L441.9,486.0 L440.7,485.4 L439.3,484.7 L437.8,484.0 L436.4,483.3 L434.1,482.3 L432.2,479.6 L430.9,477.7 L429.9,477.0 L428.8,476.5 L427.3,475.8 L425.8,475.1 L424.3,474.4 L422.1,473.3 L420.2,470.8 L418.9,469.1 L417.8,468.1 L416.8,467.6 L415.3,466.9 L413.8,466.2 L412.3,465.5 L410.2,464.4 L408.4,462.4 L407.0,460.8 L406.0,459.9 L404.9,459.5 L403.4,458.9 L401.9,458.3 L400.4,457.7 L398.6,456.9 L396.5,455.4 L394.8,453.4 L393.7,452.1 L392.8,451.7 L391.3,451.0 L389.8,450.3 L388.3,449.6 L386.4,448.7 L384.5,447.0 L382.9,445.3 L381.8,444.0 L380.8,443.6 L379.3,442.9 L377.8,442.3 L376.3,441.6 L374.6,440.7 L372.7,439.4 L371.1,437.9 L369.8,436.7 L368.8,436.2 L367.3,435.6 L365.8,434.9 L364.3,434.2 L362.7,433.4 L360.7,432.3 L358.9,430.3 L357.6,428.8 L356.6,428.3 L355.3,427.7 L353.8,427.0 L352.4,426.3 L350.9,425.7 L348.7,424.7 L346.9,422.6 L345.6,421.2 L344.7,420.6 L343.4,420.1 L341.9,419.5 L340.4,418.9 L338.9,418.2 L336.8,417.3 L334.9,415.3 L333.7,414.0 L332.6,413.3 L331.3,412.7 L329.9,412.1 L328.4,411.5 L326.9,410.8 L325.0,410.0 L323.2,408.5 L321.8,407.3 L320.6,406.5 L319.5,406.0 L318.0,405.5 L316.5,404.9 L315.0,404.4 L313.3,403.7 L311.4,402.6 L309.8,401.3 L308.6,400.4 L307.3,399.9 L305.8,399.2 L304.3,398.5 L302.8,397.9 L301.2,397.1 L299.2,395.9 L297.4,394.1 L296.4,393.0 L295.6,392.8 L294.1,392.2 L292.6,391.7 L291.1,391.2 L289.2,390.5 L287.2,389.1 L285.5,387.4 L284.4,386.2 L283.5,386.0 L282.0,385.4 L280.5,384.9 L279.0,384.3 L277.2,383.6 L275.2,382.3 L273.6,380.9 L272.4,379.8 L271.3,379.3 L269.8,378.6 L268.1,377.7 L266.5,376.7 L265.0,375.7 L263.5,374.8 L262.0,373.8 L260.5,372.9 L259.0,371.9 L257.5,370.9 L256.0,370.0 L254.5,369.0 L253.0,368.0 L251.5,367.1 L250.0,366.1 L248.5,365.2 L247.0,364.2 L245.5,363.2 L244.0,362.3Z" fill="#FFA500"/>
<path d="M245.9,1387.5 L248.9,1388.0 L251.9,1388.4 L254.9,1388.8 L257.9,1389.2 L260.9,1389.7 L263.9,1390.1 L266.9,1390.5 L269.9,1390.9 L272.9,1391.3 L276.2,1391.9 L279.4,1392.9 L282.4,1393.8 L285.3,1394.8 L288.3,1395.7 L291.3,1396.6 L294.3,1397.5 L297.3,1398.4 L300.3,1399.3 L303.3,1400.1 L306.3,1401.0 L309.3,1401.8 L312.2,1402.6 L315.2,1403.4 L318.2,1404.2 L321.2,1405.0 L324.2,1405.7 L327.2,1406.5 L330.2,1407.2 L333.2,1407.9 L336.1,1408.6 L339.1,1409.3 L342.1,1410.0 L345.1,1410.7 L348.1,1411.3 L351.1,1412.0 L354.1,1412.6 L357.1,1413.2 L360.1,1413.8 L363.0,1414.4 L366.0,1414.9 L369.0,1415.5 L372.0,1416.0 L375.0,1416.6 L378.0,1417.1 L381.0,1417.6 L383.9,1418.0 L386.9,1418.5 L389.9,1419.0 L392.9,1419.4 L395.9,1419.8 L398.9,1420.2 L401.9,1420.6 L404.9,1421.0 L407.8,1421.4 L410.8,1421.7 L413.8,1422.1 L416.8,1422.4 L419.8,1422.7 L422.8,1423.0 L425.8,1423.3 L428.7,1423.5 L431.7,1423.8 L434.7,1424.0 L437.7,1424.2 L440.7,1424.5 L443.7,1424.6 L446.7,1424.8 L449.6,1425.0 L452.6,1425.1 L455.6,1425.3 L458.6,1425.4 L461.6,1425.5 L464.6,1425.6 L467.6,1425.6 L470.5,1425.7 L473.5,1425.7 L476.5,1425.7 L479.5,1425.7 L482.5,1425.7 L485.5,1425.7 L488.5,1425.7 L491.4,1425.6 L494.4,1425.6 L497.4,1425.5 L500.4,1425.4 L503.4,1425.3 L506.4,1425.1 L509.4,1425.0 L512.3,1424.8 L515.3,1424.7 L518.3,1424.5 L521.3,1424.3 L524.3,1424.1 L527.3,1423.8 L530.3,1423.6 L533.3,1423.3 L536.2,1423.1 L539.2,1422.8 L542.2,1422.5 L545.2,1422.2 L548.2,1421.9 L551.2,1421.6 L554.2,1421.3 L557.2,1421.0 L560.2,1420.6 L563.2,1420.3 L566.2,1419.9 L569.2,1419.6 L572.1,1419.2 L575.1,1418.8 L578.1,1418.4 L581.1,1418.1 L584.1,1417.7 L587.1,1417.3 L590.1,1416.9 L593.1,1416.5 L596.1,1416.0 L599.1,1415.6 L602.1,1415.2 L605.1,1414.8 L608.1,1414.4 L611.1,1413.9 L614.1,1413.5 L617.1,1413.1 L620.1,1412.7 L623.1,1412.2 L626.1,1411.8 L629.1,1411.4 L632.1,1411.0 L635.1,1410.5 L638.1,1410.1 L641.1,1409.7 L644.1,1409.3 L647.1,1408.8 L650.1,1408.4 L653.1,1408.0 L656.1,1407.6 L659.1,1407.1 L662.1,1406.7 L665.1,1406.3 L668.1,1405.9 L671.1,1405.5 L674.1,1405.1 L677.1,1404.7 L680.1,1404.3 L683.1,1403.9 L686.1,1403.5 L689.1,1403.1 L692.1,1402.7 L695.1,1402.4 L698.1,1402.0 L701.2,1401.6 L704.2,1401.3 L707.2,1400.9 L710.2,1400.5 L713.2,1400.2 L716.2,1399.9 L719.2,1399.5 L722.2,1399.2 L725.2,1398.9 L728.2,1398.5 L731.2,1398.2 L734.2,1397.9 L737.2,1397.6 L740.2,1397.3 L743.2,1397.0 L746.2,1396.8 L749.2,1396.5 L752.3,1396.2 L755.3,1396.0 L758.3,1395.7 L761.3,1395.5 L764.3,1395.3 L767.3,1395.1 L770.3,1394.8 L773.3,1394.6 L776.3,1394.4 L779.3,1394.3 L782.3,1394.1 L785.3,1393.9 L788.4,1393.8 L791.4,1393.6 L794.4,1393.5 L797.4,1393.4 L800.4,1393.2 L803.4,1393.1 L806.4,1393.0 L809.4,1393.0 L812.4,1392.9 L815.4,1392.8 L818.5,1392.8 L821.5,1392.7 L824.5,1392.7 L827.5,1392.7 L830.5,1392.7 L833.5,1392.7 L836.5,1392.7 L839.5,1392.7 L842.5,1392.8 L845.6,1392.8 L848.6,1392.9 L851.6,1393.0 L854.6,1393.1 L857.6,1393.2 L860.6,1393.3 L863.6,1393.4 L866.6,1393.6 L869.7,1393.7 L872.7,1393.9 L875.7,1394.1 L878.7,1394.3 L881.7,1394.5 L884.7,1394.7 L887.7,1394.9 L890.7,1395.2 L893.7,1395.4 L896.7,1395.7 L899.8,1395.9 L902.8,1396.2 L905.8,1396.5 L908.8,1396.8 L911.8,1397.1 L914.8,1397.4 L917.8,1397.7 L920.8,1398.0 L923.8,1398.3 L926.8,1398.7 L929.8,1399.0 L932.8,1399.4 L935.8,1399.7 L938.8,1400.1 L941.9,1400.5 L944.9,1400.9 L947.9,1401.3 L950.9,1401.6 L953.9,1402.0 L956.9,1402.4 L959.9,1402.9 L962.9,1403.3 L965.9,1403.7 L968.9,1404.1 L971.9,1404.5 L974.9,1405.0 L977.9,1405.4 L980.9,1405.8 L983.9,1406.3 L986.9,1406.7 L989.9,1407.2 L992.9,1407.6 L995.9,1408.1 L998.9,1408.5 L1001.9,1409.0 L1004.9,1409.4 L1007.9,1409.9 L1010.9,1410.3 L1013.9,1410.8 L1016.9,1411.2 L1019.9,1411.7 L1022.9,1412.1 L1025.9,1412.6 L1028.9,1413.0 L1031.9,1413.4 L1034.9,1413.9 L1037.9,1414.3 L1040.9,1414.7 L1043.9,1415.2 L1046.9,1415.6 L1049.9,1416.0 L1052.9,1416.4 L1055.9,1416.8 L1058.9,1417.2 L1061.9,1417.6 L1064.9,1418.0 L1067.9,1418.4 L1070.8,1418.7 L1073.8,1419.1 L1076.8,1419.5 L1079.8,1419.8 L1082.8,1420.1 L1085.8,1420.5 L1088.8,1420.8 L1091.8,1421.1 L1094.8,1421.4 L1097.8,1421.7 L1100.8,1422.0 L1103.8,1422.3 L1106.8,1422.5 L1109.7,1422.8 L1112.7,1423.1 L1115.7,1423.3 L1118.7,1423.5 L1121.7,1423.8 L1124.7,1424.0 L1127.7,1424.2 L1130.7,1424.4 L1133.7,1424.6 L1136.7,1424.8 L1139.7,1425.0 L1142.7,1425.2 L1145.7,1425.4 L1148.7,1425.6 L1151.7,1425.8 L1154.7,1425.9 L1157.7,1426.1 L1160.6,1426.3 L1163.6,1426.4 L1166.6,1426.5 L1169.6,1426.7 L1172.6,1426.8 L1175.6,1427.0 L1178.6,1427.1 L1181.6,1427.2 L1184.6,1427.3 L1187.6,1427.5 L1190.6,1427.6 L1193.6,1427.7 L1196.6,1427.8 L1199.6,1427.9 L1202.6,1428.0 L1205.6,1428.1 L1208.6,1428.2 L1211.6,1428.2 L1214.6,1428.3 L1217.6,1428.4 L1220.6,1428.5 L1223.6,1428.5 L1226.6,1428.6 L1229.6,1428.7 L1232.6,1428.7 L1235.6,1428.8 L1238.5,1428.8 L1241.5,1428.9 L1244.5,1428.9 L1247.5,1429.0 L1250.5,1429.0 L1253.5,1429.0 L1256.5,1429.1 L1259.5,1429.1 L1262.5,1429.1 L1265.5,1429.2 L1268.5,1429.2 L1271.5,1429.2 L1274.5,1429.2 L1277.5,1429.2 L1280.5,1429.2 L1283.5,1429.2 L1286.5,1429.2 L1289.5,1429.2 L1292.5,1429.2 L1295.5,1429.2 L1298.5,1429.2 L1301.5,1429.2 L1304.5,1429.2 L1307.5,1429.2 L1310.5,1429.2 L1313.5,1429.1 L1316.5,1429.1 L1319.5,1429.1 L1322.5,1429.1 L1325.5,1429.0 L1328.5,1429.0 L1331.5,1429.0 L1334.5,1428.9 L1337.5,1428.9 L1340.5,1428.9 L1343.5,1428.8 L1346.5,1428.8 L1349.5,1428.7 L1352.5,1428.7 L1355.5,1428.6 L1358.5,1428.6 L1361.4,1428.5 L1364.4,1428.5 L1367.4,1428.4 L1370.4,1428.3 L1373.4,1428.3 L1376.4,1428.2 L1379.4,1428.2 L1382.4,1428.1 L1385.4,1428.0 L1388.4,1428.0 L1391.4,1427.9 L1394.4,1427.8 L1397.4,1427.8 L1400.4,1427.7 L1403.4,1427.6 L1406.4,1427.5 L1409.4,1427.5 L1412.4,1427.4 L1415.4,1427.3 L1418.4,1427.2 L1421.4,1427.1 L1424.4,1427.1 L1427.4,1427.0 L1430.4,1426.9 L1433.4,1426.8 L1436.4,1426.7 L1439.4,1426.6 L1442.4,1426.6 L1445.4,1426.5 L1448.4,1426.4 L1451.4,1426.3 L1454.4,1426.2 L1457.4,1426.1 L1460.4,1426.0 L1463.4,1426.0 L1466.4,1425.9 L1469.4,1425.8 L1472.4,1425.7 L1475.4,1425.6 L1478.4,1425.5 L1481.4,1425.4 L1484.4,1425.3 L1487.4,1425.2 L1490.4,1425.1 L1493.4,1425.1 L1496.4,1425.0 L1499.4,1424.9 L1502.4,1424.8 L1505.4,1424.7 L1508.4,1424.6 L1511.4,1424.5 L1514.4,1424.4 L1517.4,1424.4 L1520.4,1424.3 L1523.4,1424.2 L1526.4,1424.1 L1529.4,1424.0 L1532.4,1423.9 L1535.4,1423.8 L1538.4,1423.8 L1541.4,1423.7 L1544.4,1423.6 L1547.4,1423.5 L1550.4,1423.4 L1553.4,1423.3 L1556.4,1423.3 L1559.4,1423.2 L1562.4,1423.1 L1565.4,1423.0 L1568.4,1423.0 L1571.4,1422.9 L1574.4,1422.8 L1577.4,1422.7 L1580.4,1422.7 L1583.4,1422.6 L1586.4,1422.5 L1589.4,1422.5 L1592.4,1422.4 L1595.4,1422.3 L1598.4,1422.3 L1601.4,1422.2 L1604.4,1422.2 L1607.4,1422.1 L1610.4,1422.1 L1613.5,1422.0 L1616.5,1422.0 L1619.5,1421.9 L1622.5,1421.9 L1625.5,1421.8 L1628.5,1421.8 L1631.5,1421.7 L1634.5,1421.7 L1637.5,1421.6 L1640.5,1421.6 L1643.5,1421.6 L1646.5,1421.5 L1649.5,1421.5 L1652.5,1421.5 L1655.5,1421.5 L1658.5,1421.4 L1661.5,1421.4 L1664.5,1421.4 L1667.5,1421.4 L1670.5,1421.4 L1673.5,1421.3 L1676.5,1421.3 L1679.5,1421.3 L1682.5,1421.3 L1685.5,1421.3 L1688.5,1421.3 L1691.5,1421.3 L1694.5,1421.3 L1697.5,1421.3 L1700.5,1421.3 L1703.5,1421.3 L1706.5,1421.3 L1709.5,1421.3 L1712.5,1421.3 L1715.5,1421.3 L1718.5,1421.3 L1721.5,1421.3 L1724.5,1421.3 L1727.5,1421.3 L1730.5,1421.3 L1733.5,1421.3 L1736.5,1421.4 L1739.5,1421.4 L1742.5,1421.4 L1745.5,1421.4 L1748.5,1421.4 L1751.5,1421.4 L1754.5,1421.5 L1757.5,1421.5 L1760.5,1421.5 L1763.5,1421.5 L1766.5,1421.5 L1769.5,1421.6 L1772.5,1421.6 L1775.5,1421.6 L1778.5,1421.7 L1781.5,1421.7 L1784.5,1421.7 L1787.5,1421.7 L1790.5,1421.8 L1793.5,1421.8 L1796.5,1421.8 L1799.5,1421.9 L1802.5,1421.9 L1805.5,1421.9 L1808.5,1422.0 L1811.5,1422.0 L1814.5,1422.0 L1817.5,1422.1 L1820.5,1422.1 L1823.5,1422.1 L1826.5,1422.2 L1829.5,1422.2 L1832.5,1422.2 L1835.5,1422.3 L1838.5,1422.3 L1841.5,1422.4 L1844.5,1422.4 L1847.5,1422.4 L1850.5,1422.5 L1853.5,1422.5 L1856.5,1422.5 L1859.5,1422.6 L1862.5,1422.6 L1865.5,1422.7 L1868.5,1422.7 L1871.5,1422.7 L1874.5,1422.8 L1877.5,1422.8 L1880.5,1422.9 L1883.5,1422.9 L1886.5,1422.9 L1889.5,1423.0 L1892.5,1423.0 L1895.5,1423.1 L1898.5,1423.1 L1901.5,1423.1 L1904.5,1423.2 L1907.5,1423.2 L1910.5,1423.2 L1913.5,1423.3 L1916.5,1423.3 L1919.5,1423.3 L1922.5,1423.4 L1925.5,1423.4 L1928.5,1423.5 L1931.5,1423.5 L1934.5,1423.5 L1937.5,1423.6 L1940.5,1423.6 L1943.5,1423.6 L1946.5,1423.6 L1949.5,1423.7 L1952.5,1423.7 L1955.5,1423.7 L1958.5,1423.8 L1961.5,1423.8 L1964.5,1423.8 L1967.5,1423.8 L1970.5,1423.9 L1973.5,1423.9 L1976.5,1423.9 L1979.5,1423.9 L1982.5,1424.0 L1985.5,1424.0 L1988.5,1424.0 L1991.5,1424.0 L1994.5,1424.0 L1997.5,1424.0 L2000.5,1424.1 L2003.5,1424.1 L2006.5,1424.1 L2009.5,1424.1 L2012.5,1424.1 L2015.5,1424.1 L2018.5,1424.1 L2021.5,1424.1 L2024.5,1424.1 L2027.5,1424.1 L2030.5,1424.1 L2033.5,1424.1 L2036.5,1424.1 L2039.5,1424.1 L2042.5,1424.1 L2045.5,1424.1 L2048.5,1424.1 L2051.5,1424.1 L2054.5,1424.1 L2057.5,1424.1 L2060.5,1424.1 L2063.5,1424.1 L2066.5,1424.1 L2069.5,1424.0 L2072.5,1424.0 L2075.5,1424.0 L2078.5,1424.0 L2081.5,1424.0 L2081.5,1429.7 L2078.5,1429.7 L2075.5,1429.7 L2072.5,1429.7 L2069.5,1429.7 L2066.5,1429.8 L2063.5,1429.8 L2060.5,1429.8 L2057.5,1429.8 L2054.5,1429.8 L2051.5,1429.8 L2048.5,1429.8 L2045.5,1429.8 L2042.5,1429.8 L2039.5,1429.8 L2036.5,1429.8 L2033.5,1429.8 L2030.5,1429.8 L2027.5,1429.8 L2024.5,1429.8 L2021.5,1429.8 L2018.5,1429.8 L2015.5,1429.8 L2012.5,1429.8 L2009.5,1429.8 L2006.5,1429.8 L2003.5,1429.8 L2000.5,1429.8 L1997.5,1429.7 L1994.5,1429.7 L1991.5,1429.7 L1988.5,1429.7 L1985.5,1429.7 L1982.5,1429.7 L1979.5,1429.6 L1976.5,1429.6 L1973.5,1429.6 L1970.5,1429.6 L1967.5,1429.5 L1964.5,1429.5 L1961.5,1429.5 L1958.5,1429.5 L1955.5,1429.4 L1952.5,1429.4 L1949.5,1429.4 L1946.5,1429.3 L1943.5,1429.3 L1940.5,1429.3 L1937.5,1429.2 L1934.5,1429.2 L1931.5,1429.2 L1928.5,1429.2 L1925.5,1429.1 L1922.5,1429.1 L1919.5,1429.0 L1916.5,1429.0 L1913.5,1429.0 L1910.5,1428.9 L1907.5,1428.9 L1904.5,1428.9 L1901.5,1428.8 L1898.5,1428.8 L1895.5,1428.8 L1892.5,1428.7 L1889.5,1428.7 L1886.5,1428.6 L1883.5,1428.6 L1880.5,1428.6 L1877.5,1428.5 L1874.5,1428.5 L1871.5,1428.4 L1868.5,1428.4 L1865.5,1428.4 L1862.5,1428.3 L1859.5,1428.3 L1856.5,1428.2 L1853.5,1428.2 L1850.5,1428.2 L1847.5,1428.1 L1844.5,1428.1 L1841.5,1428.1 L1838.5,1428.0 L1835.5,1428.0 L1832.5,1427.9 L1829.5,1427.9 L1826.5,1427.9 L1823.5,1427.8 L1820.5,1427.8 L1817.5,1427.8 L1814.5,1427.7 L1811.5,1427.7 L1808.5,1427.7 L1805.5,1427.6 L1802.5,1427.6 L1799.5,1427.6 L1796.5,1427.5 L1793.5,1427.5 L1790.5,1427.5 L1787.5,1427.4 L1784.5,1427.4 L1781.5,1427.4 L1778.5,1427.4 L1775.5,1427.3 L1772.5,1427.3 L1769.5,1427.3 L1766.5,1427.2 L1763.5,1427.2 L1760.5,1427.2 L1757.5,1427.2 L1754.5,1427.2 L1751.5,1427.1 L1748.5,1427.1 L1745.5,1427.1 L1742.5,1427.1 L1739.5,1427.1 L1736.5,1427.1 L1733.5,1427.0 L1730.5,1427.0 L1727.5,1427.0 L1724.5,1427.0 L1721.5,1427.0 L1718.5,1427.0 L1715.5,1427.0 L1712.5,1427.0 L1709.5,1427.0 L1706.5,1427.0 L1703.5,1427.0 L1700.5,1427.0 L1697.5,1427.0 L1694.5,1427.0 L1691.5,1427.0 L1688.5,1427.0 L1685.5,1427.0 L1682.5,1427.0 L1679.5,1427.0 L1676.5,1427.0 L1673.5,1427.0 L1670.5,1427.1 L1667.5,1427.1 L1664.5,1427.1 L1661.5,1427.1 L1658.5,1427.1 L1655.5,1427.2 L1652.5,1427.2 L1649.5,1427.2 L1646.5,1427.2 L1643.5,1427.3 L1640.5,1427.3 L1637.5,1427.3 L1634.5,1427.4 L1631.5,1427.4 L1628.5,1427.5 L1625.5,1427.5 L1622.5,1427.6 L1619.5,1427.6 L1616.5,1427.7 L1613.5,1427.7 L1610.6,1427.8 L1607.6,1427.8 L1604.6,1427.9 L1601.6,1427.9 L1598.6,1428.0 L1595.6,1428.0 L1592.6,1428.1 L1589.6,1428.2 L1586.6,1428.2 L1583.6,1428.3 L1580.6,1428.4 L1577.6,1428.4 L1574.6,1428.5 L1571.6,1428.6 L1568.6,1428.7 L1565.6,1428.7 L1562.6,1428.8 L1559.6,1428.9 L1556.6,1429.0 L1553.6,1429.0 L1550.6,1429.1 L1547.6,1429.2 L1544.6,1429.3 L1541.6,1429.4 L1538.6,1429.4 L1535.6,1429.5 L1532.6,1429.6 L1529.6,1429.7 L1526.6,1429.8 L1523.6,1429.9 L1520.6,1430.0 L1517.6,1430.0 L1514.6,1430.1 L1511.6,1430.2 L1508.6,1430.3 L1505.6,1430.4 L1502.6,1430.5 L1499.6,1430.6 L1496.6,1430.7 L1493.6,1430.8 L1490.6,1430.8 L1487.6,1430.9 L1484.6,1431.0 L1481.6,1431.1 L1478.6,1431.2 L1475.6,1431.3 L1472.6,1431.4 L1469.6,1431.5 L1466.6,1431.6 L1463.6,1431.7 L1460.6,1431.7 L1457.6,1431.8 L1454.6,1431.9 L1451.6,1432.0 L1448.6,1432.1 L1445.6,1432.2 L1442.6,1432.3 L1439.6,1432.3 L1436.6,1432.4 L1433.6,1432.5 L1430.6,1432.6 L1427.6,1432.7 L1424.6,1432.8 L1421.6,1432.8 L1418.6,1432.9 L1415.6,1433.0 L1412.6,1433.1 L1409.6,1433.2 L1406.6,1433.2 L1403.6,1433.3 L1400.6,1433.4 L1397.6,1433.5 L1394.6,1433.5 L1391.6,1433.6 L1388.6,1433.7 L1385.6,1433.7 L1382.6,1433.8 L1379.6,1433.9 L1376.6,1433.9 L1373.6,1434.0 L1370.6,1434.0 L1367.6,1434.1 L1364.6,1434.2 L1361.6,1434.2 L1358.5,1434.3 L1355.5,1434.3 L1352.5,1434.4 L1349.5,1434.4 L1346.5,1434.5 L1343.5,1434.5 L1340.5,1434.6 L1337.5,1434.6 L1334.5,1434.6 L1331.5,1434.7 L1328.5,1434.7 L1325.5,1434.7 L1322.5,1434.8 L1319.5,1434.8 L1316.5,1434.8 L1313.5,1434.8 L1310.5,1434.9 L1307.5,1434.9 L1304.5,1434.9 L1301.5,1434.9 L1298.5,1434.9 L1295.5,1434.9 L1292.5,1434.9 L1289.5,1434.9 L1286.5,1434.9 L1283.5,1434.9 L1280.5,1434.9 L1277.5,1434.9 L1274.5,1434.9 L1271.5,1434.9 L1268.5,1434.9 L1265.5,1434.9 L1262.5,1434.8 L1259.5,1434.8 L1256.5,1434.8 L1253.5,1434.7 L1250.5,1434.7 L1247.5,1434.7 L1244.5,1434.6 L1241.5,1434.6 L1238.5,1434.5 L1235.4,1434.5 L1232.4,1434.4 L1229.4,1434.4 L1226.4,1434.3 L1223.4,1434.2 L1220.4,1434.2 L1217.4,1434.1 L1214.4,1434.0 L1211.4,1433.9 L1208.4,1433.8 L1205.4,1433.8 L1202.4,1433.7 L1199.4,1433.6 L1196.4,1433.5 L1193.4,1433.4 L1190.4,1433.3 L1187.4,1433.1 L1184.4,1433.0 L1181.4,1432.9 L1178.4,1432.8 L1175.4,1432.7 L1172.4,1432.5 L1169.4,1432.4 L1166.4,1432.2 L1163.4,1432.1 L1160.4,1431.9 L1157.3,1431.8 L1154.3,1431.6 L1151.3,1431.5 L1148.3,1431.3 L1145.3,1431.1 L1142.3,1430.9 L1139.3,1430.7 L1136.3,1430.5 L1133.3,1430.3 L1130.3,1430.1 L1127.3,1429.9 L1124.3,1429.7 L1121.3,1429.5 L1118.3,1429.2 L1115.3,1429.0 L1112.3,1428.7 L1109.3,1428.5 L1106.2,1428.2 L1103.2,1427.9 L1100.2,1427.7 L1097.2,1427.4 L1094.2,1427.1 L1091.2,1426.8 L1088.2,1426.5 L1085.2,1426.1 L1082.2,1425.8 L1079.2,1425.5 L1076.2,1425.1 L1073.2,1424.8 L1070.2,1424.4 L1067.1,1424.0 L1064.1,1423.6 L1061.1,1423.3 L1058.1,1422.9 L1055.1,1422.5 L1052.1,1422.1 L1049.1,1421.6 L1046.1,1421.2 L1043.1,1420.8 L1040.1,1420.4 L1037.1,1419.9 L1034.1,1419.5 L1031.1,1419.1 L1028.1,1418.6 L1025.1,1418.2 L1022.1,1417.7 L1019.1,1417.3 L1016.1,1416.9 L1013.1,1416.4 L1010.1,1416.0 L1007.1,1415.5 L1004.1,1415.0 L1001.1,1414.6 L998.1,1414.1 L995.1,1413.7 L992.1,1413.2 L989.1,1412.8 L986.1,1412.4 L983.1,1411.9 L980.1,1411.5 L977.1,1411.0 L974.1,1410.6 L971.1,1410.2 L968.1,1409.8 L965.1,1409.3 L962.1,1408.9 L959.1,1408.5 L956.1,1408.1 L953.1,1407.7 L950.1,1407.3 L947.1,1406.9 L944.1,1406.5 L941.1,1406.1 L938.2,1405.8 L935.2,1405.4 L932.2,1405.0 L929.2,1404.7 L926.2,1404.3 L923.2,1404.0 L920.2,1403.7 L917.2,1403.4 L914.2,1403.0 L911.2,1402.7 L908.2,1402.4 L905.2,1402.1 L902.2,1401.9 L899.2,1401.6 L896.3,1401.3 L893.3,1401.1 L890.3,1400.8 L887.3,1400.6 L884.3,1400.4 L881.3,1400.2 L878.3,1400.0 L875.3,1399.8 L872.3,1399.6 L869.3,1399.4 L866.4,1399.3 L863.4,1399.1 L860.4,1399.0 L857.4,1398.9 L854.4,1398.8 L851.4,1398.7 L848.4,1398.6 L845.4,1398.5 L842.5,1398.5 L839.5,1398.4 L836.5,1398.4 L833.5,1398.4 L830.5,1398.4 L827.5,1398.4 L824.5,1398.4 L821.5,1398.4 L818.5,1398.5 L815.6,1398.5 L812.6,1398.6 L809.6,1398.7 L806.6,1398.7 L803.6,1398.8 L800.6,1398.9 L797.6,1399.0 L794.6,1399.2 L791.6,1399.3 L788.6,1399.5 L785.7,1399.6 L782.7,1399.8 L779.7,1399.9 L776.7,1400.1 L773.7,1400.3 L770.7,1400.5 L767.7,1400.7 L764.7,1401.0 L761.7,1401.2 L758.7,1401.4 L755.7,1401.7 L752.7,1401.9 L749.8,1402.2 L746.8,1402.4 L743.8,1402.7 L740.8,1403.0 L737.8,1403.3 L734.8,1403.6 L731.8,1403.9 L728.8,1404.2 L725.8,1404.5 L722.8,1404.9 L719.8,1405.2 L716.8,1405.5 L713.8,1405.9 L710.8,1406.2 L707.8,1406.6 L704.8,1406.9 L701.8,1407.3 L698.9,1407.7 L695.9,1408.0 L692.9,1408.4 L689.9,1408.8 L686.9,1409.2 L683.9,1409.6 L680.9,1410.0 L677.9,1410.3 L674.9,1410.8 L671.9,1411.2 L668.9,1411.6 L665.9,1412.0 L662.9,1412.4 L659.9,1412.8 L656.9,1413.2 L653.9,1413.6 L650.9,1414.1 L647.9,1414.5 L644.9,1414.9 L641.9,1415.3 L638.9,1415.7 L635.9,1416.2 L632.9,1416.6 L629.9,1417.0 L626.9,1417.5 L623.9,1417.9 L620.9,1418.3 L617.9,1418.7 L614.9,1419.2 L611.9,1419.6 L608.9,1420.0 L605.9,1420.4 L602.9,1420.9 L599.9,1421.3 L596.9,1421.7 L593.9,1422.1 L590.9,1422.5 L587.9,1422.9 L584.9,1423.3 L581.9,1423.7 L578.9,1424.1 L575.9,1424.5 L572.9,1424.9 L569.8,1425.2 L566.8,1425.6 L563.8,1425.9 L560.8,1426.3 L557.8,1426.6 L554.8,1427.0 L551.8,1427.3 L548.8,1427.6 L545.8,1427.9 L542.8,1428.2 L539.8,1428.5 L536.8,1428.8 L533.7,1429.0 L530.7,1429.3 L527.7,1429.5 L524.7,1429.7 L521.7,1430.0 L518.7,1430.2 L515.7,1430.3 L512.7,1430.5 L509.6,1430.7 L506.6,1430.8 L503.6,1431.0 L500.6,1431.1 L497.6,1431.2 L494.6,1431.3 L491.6,1431.3 L488.5,1431.4 L485.5,1431.4 L482.5,1431.4 L479.5,1431.4 L476.5,1431.4 L473.5,1431.4 L470.5,1431.4 L467.4,1431.3 L464.4,1431.2 L461.4,1431.2 L458.4,1431.1 L455.4,1430.9 L452.4,1430.8 L449.4,1430.7 L446.3,1430.5 L443.3,1430.3 L440.3,1430.1 L437.3,1429.9 L434.3,1429.7 L431.3,1429.5 L428.3,1429.2 L425.2,1429.0 L422.2,1428.7 L419.2,1428.4 L416.2,1428.1 L413.2,1427.7 L410.2,1427.4 L407.2,1427.0 L404.1,1426.7 L401.1,1426.3 L398.1,1425.9 L395.1,1425.5 L392.1,1425.0 L389.1,1424.6 L386.1,1424.1 L383.1,1423.7 L380.0,1423.2 L377.0,1422.7 L374.0,1422.2 L371.0,1421.6 L368.0,1421.1 L365.0,1420.5 L362.0,1420.0 L358.9,1419.4 L355.9,1418.8 L352.9,1418.2 L349.9,1417.5 L346.9,1416.9 L343.9,1416.2 L340.9,1415.6 L337.9,1414.9 L334.9,1414.2 L331.8,1413.5 L328.8,1412.7 L325.8,1412.0 L322.8,1411.3 L319.8,1410.5 L316.8,1409.7 L313.8,1408.9 L310.8,1408.1 L307.7,1407.3 L304.7,1406.4 L301.7,1405.6 L298.7,1404.7 L295.7,1403.9 L292.7,1403.0 L289.7,1402.1 L286.7,1401.2 L283.7,1400.2 L280.6,1399.3 L277.6,1398.3 L274.8,1397.4 L272.1,1397.0 L269.1,1396.6 L266.1,1396.1 L263.1,1395.7 L260.1,1395.3 L257.1,1394.9 L254.1,1394.5 L251.1,1394.0 L248.1,1393.6 L245.1,1393.2Z" fill="#0088FF"/>
<path d="M246.1,1345.4 L249.1,1346.0 L252.1,1346.7 L255.1,1347.3 L258.1,1347.9 L261.1,1348.6 L264.1,1349.2 L267.1,1349.8 L270.1,1350.5 L273.1,1351.1 L276.4,1351.9 L279.6,1353.2 L282.6,1354.5 L285.6,1355.7 L288.6,1356.9 L291.5,1358.1 L294.5,1359.3 L297.5,1360.4 L300.5,1361.6 L303.5,1362.7 L306.5,1363.8 L309.5,1364.9 L312.5,1366.0 L315.5,1367.1 L318.4,1368.1 L321.4,1369.1 L324.4,1370.2 L327.4,1371.2 L330.4,1372.2 L333.4,1373.1 L336.4,1374.1 L339.3,1375.0 L342.3,1375.9 L345.3,1376.8 L348.3,1377.7 L351.3,1378.6 L354.3,1379.4 L357.3,1380.2 L360.2,1381.0 L363.2,1381.8 L366.2,1382.6 L369.2,1383.3 L372.2,1384.1 L375.2,1384.8 L378.1,1385.5 L381.1,1386.1 L384.1,1386.8 L387.1,1387.4 L390.1,1388.0 L393.0,1388.6 L396.0,1389.2 L399.0,1389.7 L402.0,1390.3 L405.0,1390.8 L407.9,1391.3 L410.9,1391.7 L413.9,1392.2 L416.9,1392.6 L419.9,1393.0 L422.9,1393.4 L425.8,1393.8 L428.8,1394.1 L431.8,1394.4 L434.8,1394.7 L437.8,1395.0 L440.7,1395.3 L443.7,1395.5 L446.7,1395.7 L449.7,1395.9 L452.7,1396.1 L455.6,1396.3 L458.6,1396.4 L461.6,1396.6 L464.6,1396.7 L467.6,1396.7 L470.6,1396.8 L473.5,1396.9 L476.5,1396.9 L479.5,1396.9 L482.5,1396.9 L485.5,1396.8 L488.4,1396.8 L491.4,1396.7 L494.4,1396.6 L497.4,1396.5 L500.4,1396.4 L503.3,1396.2 L506.3,1396.1 L509.3,1395.9 L512.3,1395.7 L515.3,1395.4 L518.3,1395.2 L521.2,1394.9 L524.2,1394.7 L527.2,1394.4 L530.2,1394.1 L533.2,1393.7 L536.2,1393.4 L539.2,1393.1 L542.1,1392.7 L545.1,1392.3 L548.1,1391.9 L551.1,1391.5 L554.1,1391.1 L557.1,1390.7 L560.1,1390.2 L563.1,1389.8 L566.1,1389.3 L569.0,1388.8 L572.0,1388.3 L575.0,1387.9 L578.0,1387.4 L581.0,1386.8 L584.0,1386.3 L587.0,1385.8 L590.0,1385.3 L593.0,1384.7 L596.0,1384.2 L599.0,1383.6 L602.0,1383.0 L605.0,1382.5 L608.0,1381.9 L611.0,1381.3 L614.0,1380.7 L617.0,1380.2 L619.9,1379.6 L622.9,1379.0 L625.9,1378.4 L628.9,1377.8 L631.9,1377.2 L634.9,1376.6 L637.9,1376.0 L640.9,1375.4 L643.9,1374.8 L646.9,1374.2 L649.9,1373.6 L652.9,1373.0 L655.9,1372.4 L658.9,1371.8 L661.9,1371.2 L664.9,1370.6 L668.0,1370.0 L671.0,1369.4 L674.0,1368.8 L677.0,1368.2 L680.0,1367.6 L683.0,1367.1 L686.0,1366.5 L689.0,1365.9 L692.0,1365.4 L695.0,1364.9 L698.0,1364.3 L701.0,1363.8 L704.0,1363.3 L707.0,1362.7 L710.0,1362.2 L713.0,1361.7 L716.0,1361.2 L719.1,1360.8 L722.1,1360.3 L725.1,1359.8 L728.1,1359.4 L731.1,1359.0 L734.1,1358.5 L737.1,1358.1 L740.1,1357.7 L743.1,1357.3 L746.2,1357.0 L749.2,1356.6 L752.2,1356.3 L755.2,1355.9 L758.2,1355.6 L761.2,1355.3 L764.2,1355.0 L767.3,1354.8 L770.3,1354.5 L773.3,1354.3 L776.3,1354.0 L779.3,1353.8 L782.3,1353.6 L785.3,1353.4 L788.3,1353.3 L791.4,1353.1 L794.4,1353.0 L797.4,1352.9 L800.4,1352.7 L803.4,1352.7 L806.4,1352.6 L809.4,1352.5 L812.5,1352.5 L815.5,1352.4 L818.5,1352.4 L821.5,1352.4 L824.5,1352.4 L827.5,1352.5 L830.5,1352.5 L833.6,1352.6 L836.6,1352.6 L839.6,1352.7 L842.6,1352.8 L845.6,1353.0 L848.6,1353.1 L851.7,1353.3 L854.7,1353.4 L857.7,1353.6 L860.7,1353.8 L863.7,1354.0 L866.7,1354.3 L869.7,1354.5 L872.8,1354.8 L875.8,1355.1 L878.8,1355.4 L881.8,1355.7 L884.8,1356.0 L887.8,1356.3 L890.8,1356.7 L893.8,1357.0 L896.8,1357.4 L899.9,1357.7 L902.9,1358.1 L905.9,1358.5 L908.9,1358.9 L911.9,1359.3 L914.9,1359.8 L917.9,1360.2 L920.9,1360.6 L923.9,1361.1 L926.9,1361.5 L929.9,1362.0 L932.9,1362.5 L935.9,1363.0 L939.0,1363.4 L942.0,1363.9 L945.0,1364.4 L948.0,1364.9 L951.0,1365.4 L954.0,1365.9 L957.0,1366.4 L960.0,1366.9 L963.0,1367.5 L966.0,1368.0 L969.0,1368.5 L972.0,1369.0 L975.0,1369.5 L978.0,1370.1 L981.0,1370.6 L984.0,1371.1 L987.0,1371.7 L990.0,1372.2 L993.0,1372.7 L996.0,1373.2 L999.0,1373.8 L1002.0,1374.3 L1005.0,1374.8 L1008.0,1375.4 L1011.0,1375.9 L1014.0,1376.4 L1017.0,1377.0 L1020.0,1377.5 L1023.0,1378.0 L1026.0,1378.5 L1029.0,1379.0 L1032.0,1379.6 L1035.0,1380.1 L1038.0,1380.6 L1041.0,1381.1 L1044.0,1381.6 L1047.0,1382.1 L1050.0,1382.6 L1053.0,1383.1 L1056.0,1383.6 L1059.0,1384.1 L1062.0,1384.6 L1065.0,1385.1 L1068.0,1385.6 L1070.9,1386.1 L1073.9,1386.6 L1076.9,1387.0 L1079.9,1387.5 L1082.9,1388.0 L1085.9,1388.4 L1088.9,1388.9 L1091.9,1389.3 L1094.9,1389.8 L1097.9,1390.2 L1100.9,1390.6 L1103.9,1391.0 L1106.9,1391.5 L1109.9,1391.9 L1112.9,1392.3 L1115.9,1392.7 L1118.9,1393.1 L1121.9,1393.5 L1124.9,1393.8 L1127.8,1394.2 L1130.8,1394.6 L1133.8,1394.9 L1136.8,1395.3 L1139.8,1395.6 L1142.8,1395.9 L1145.8,1396.3 L1148.8,1396.6 L1151.8,1396.9 L1154.8,1397.2 L1157.8,1397.5 L1160.8,1397.8 L1163.8,1398.0 L1166.7,1398.3 L1169.7,1398.5 L1172.7,1398.8 L1175.7,1399.0 L1178.7,1399.2 L1181.7,1399.4 L1184.7,1399.6 L1187.7,1399.8 L1190.7,1400.0 L1193.7,1400.2 L1196.7,1400.3 L1199.6,1400.5 L1202.6,1400.6 L1205.6,1400.8 L1208.6,1400.9 L1211.6,1401.0 L1214.6,1401.1 L1217.6,1401.2 L1220.6,1401.3 L1223.6,1401.4 L1226.6,1401.5 L1229.6,1401.6 L1232.6,1401.6 L1235.6,1401.7 L1238.5,1401.8 L1241.5,1401.8 L1244.5,1401.8 L1247.5,1401.9 L1250.5,1401.9 L1253.5,1401.9 L1256.5,1401.9 L1259.5,1401.9 L1262.5,1401.9 L1265.5,1401.9 L1268.5,1401.9 L1271.5,1401.9 L1274.5,1401.9 L1277.5,1401.8 L1280.5,1401.8 L1283.5,1401.8 L1286.5,1401.7 L1289.5,1401.7 L1292.4,1401.6 L1295.4,1401.6 L1298.4,1401.5 L1301.4,1401.5 L1304.4,1401.4 L1307.4,1401.3 L1310.4,1401.3 L1313.4,1401.2 L1316.4,1401.1 L1319.4,1401.0 L1322.4,1400.9 L1325.4,1400.8 L1328.4,1400.7 L1331.4,1400.6 L1334.4,1400.6 L1337.4,1400.5 L1340.4,1400.4 L1343.4,1400.2 L1346.4,1400.1 L1349.4,1400.0 L1352.4,1399.9 L1355.4,1399.8 L1358.4,1399.7 L1361.4,1399.6 L1364.4,1399.5 L1367.4,1399.4 L1370.4,1399.3 L1373.4,1399.1 L1376.4,1399.0 L1379.4,1398.9 L1382.4,1398.8 L1385.4,1398.7 L1388.4,1398.6 L1391.4,1398.5 L1394.4,1398.3 L1397.4,1398.2 L1400.4,1398.1 L1403.4,1398.0 L1406.4,1397.9 L1409.4,1397.8 L1412.4,1397.7 L1415.4,1397.6 L1418.4,1397.5 L1421.4,1397.4 L1424.4,1397.2 L1427.4,1397.1 L1430.4,1397.0 L1433.4,1396.9 L1436.4,1396.8 L1439.4,1396.7 L1442.4,1396.6 L1445.4,1396.6 L1448.4,1396.5 L1451.4,1396.4 L1454.4,1396.3 L1457.4,1396.2 L1460.4,1396.1 L1463.4,1396.0 L1466.4,1395.9 L1469.4,1395.8 L1472.4,1395.7 L1475.4,1395.6 L1478.4,1395.6 L1481.4,1395.5 L1484.4,1395.4 L1487.4,1395.3 L1490.4,1395.2 L1493.4,1395.2 L1496.4,1395.1 L1499.4,1395.0 L1502.4,1394.9 L1505.4,1394.8 L1508.4,1394.8 L1511.4,1394.7 L1514.4,1394.6 L1517.4,1394.5 L1520.4,1394.5 L1523.4,1394.4 L1526.4,1394.3 L1529.4,1394.3 L1532.4,1394.2 L1535.4,1394.1 L1538.4,1394.1 L1541.4,1394.0 L1544.4,1394.0 L1547.4,1393.9 L1550.4,1393.8 L1553.4,1393.8 L1556.4,1393.7 L1559.4,1393.7 L1562.4,1393.6 L1565.4,1393.5 L1568.4,1393.5 L1571.4,1393.4 L1574.5,1393.4 L1577.5,1393.3 L1580.5,1393.3 L1583.5,1393.2 L1586.5,1393.2 L1589.5,1393.1 L1592.5,1393.1 L1595.5,1393.0 L1598.5,1393.0 L1601.5,1393.0 L1604.5,1392.9 L1607.5,1392.9 L1610.5,1392.8 L1613.5,1392.8 L1616.5,1392.7 L1619.5,1392.7 L1622.5,1392.7 L1625.5,1392.6 L1628.5,1392.6 L1631.5,1392.6 L1634.5,1392.5 L1637.5,1392.5 L1640.5,1392.5 L1643.5,1392.4 L1646.5,1392.4 L1649.5,1392.4 L1652.5,1392.4 L1655.5,1392.3 L1658.5,1392.3 L1661.5,1392.3 L1664.5,1392.3 L1667.5,1392.2 L1670.5,1392.2 L1673.5,1392.2 L1676.5,1392.2 L1679.5,1392.2 L1682.5,1392.1 L1685.5,1392.1 L1688.5,1392.1 L1691.5,1392.1 L1694.5,1392.1 L1697.5,1392.1 L1700.5,1392.0 L1703.5,1392.0 L1706.5,1392.0 L1709.5,1392.0 L1712.5,1392.0 L1715.5,1392.0 L1718.5,1392.0 L1721.5,1392.0 L1724.5,1392.0 L1727.5,1392.0 L1730.5,1391.9 L1733.5,1391.9 L1736.5,1391.9 L1739.5,1391.9 L1742.5,1391.9 L1745.5,1391.9 L1748.5,1391.9 L1751.5,1391.9 L1754.5,1391.9 L1757.5,1391.9 L1760.5,1391.9 L1763.5,1391.9 L1766.5,1391.9 L1769.5,1392.0 L1772.5,1392.0 L1775.5,1392.0 L1778.5,1392.0 L1781.5,1392.0 L1784.5,1392.0 L1787.5,1392.0 L1790.5,1392.0 L1793.5,1392.0 L1796.5,1392.0 L1799.5,1392.0 L1802.5,1392.0 L1805.5,1392.1 L1808.5,1392.1 L1811.5,1392.1 L1814.5,1392.1 L1817.5,1392.1 L1820.5,1392.1 L1823.5,1392.1 L1826.5,1392.2 L1829.5,1392.2 L1832.5,1392.2 L1835.5,1392.2 L1838.5,1392.2 L1841.5,1392.3 L1844.5,1392.3 L1847.5,1392.3 L1850.5,1392.3 L1853.5,1392.3 L1856.5,1392.4 L1859.5,1392.4 L1862.5,1392.4 L1865.5,1392.4 L1868.5,1392.5 L1871.5,1392.5 L1874.5,1392.5 L1877.5,1392.5 L1880.5,1392.6 L1883.5,1392.6 L1886.5,1392.6 L1889.5,1392.7 L1892.5,1392.7 L1895.5,1392.7 L1898.5,1392.8 L1901.5,1392.8 L1904.5,1392.8 L1907.5,1392.8 L1910.5,1392.9 L1913.5,1392.9 L1916.5,1392.9 L1919.5,1393.0 L1922.5,1393.0 L1925.5,1393.1 L1928.5,1393.1 L1931.5,1393.1 L1934.5,1393.2 L1937.5,1393.2 L1940.5,1393.2 L1943.5,1393.3 L1946.5,1393.3 L1949.5,1393.3 L1952.5,1393.4 L1955.5,1393.4 L1958.5,1393.5 L1961.5,1393.5 L1964.5,1393.5 L1967.5,1393.6 L1970.5,1393.6 L1973.5,1393.7 L1976.5,1393.7 L1979.5,1393.8 L1982.5,1393.8 L1985.5,1393.8 L1988.5,1393.9 L1991.5,1393.9 L1994.5,1394.0 L1997.5,1394.0 L2000.5,1394.1 L2003.5,1394.1 L2006.5,1394.1 L2009.5,1394.2 L2012.5,1394.2 L2015.5,1394.3 L2018.5,1394.3 L2021.5,1394.4 L2024.5,1394.4 L2027.5,1394.5 L2030.5,1394.5 L2033.5,1394.6 L2036.5,1394.6 L2039.5,1394.7 L2042.5,1394.7 L2045.5,1394.8 L2048.5,1394.8 L2051.5,1394.9 L2054.5,1394.9 L2057.5,1395.0 L2060.5,1395.0 L2063.5,1395.1 L2066.5,1395.1 L2069.5,1395.2 L2072.5,1395.2 L2075.5,1395.3 L2078.5,1395.3 L2081.5,1395.4 L2081.5,1401.1 L2078.5,1401.0 L2075.5,1401.0 L2072.5,1400.9 L2069.5,1400.9 L2066.5,1400.8 L2063.5,1400.8 L2060.5,1400.7 L2057.5,1400.7 L2054.5,1400.6 L2051.5,1400.6 L2048.5,1400.5 L2045.5,1400.5 L2042.5,1400.4 L2039.5,1400.4 L2036.5,1400.3 L2033.5,1400.3 L2030.5,1400.2 L2027.5,1400.2 L2024.5,1400.1 L2021.5,1400.1 L2018.5,1400.0 L2015.5,1400.0 L2012.5,1399.9 L2009.5,1399.9 L2006.5,1399.8 L2003.5,1399.8 L2000.5,1399.8 L1997.5,1399.7 L1994.5,1399.7 L1991.5,1399.6 L1988.5,1399.6 L1985.5,1399.5 L1982.5,1399.5 L1979.5,1399.5 L1976.5,1399.4 L1973.5,1399.4 L1970.5,1399.3 L1967.5,1399.3 L1964.5,1399.2 L1961.5,1399.2 L1958.5,1399.2 L1955.5,1399.1 L1952.5,1399.1 L1949.5,1399.0 L1946.5,1399.0 L1943.5,1399.0 L1940.5,1398.9 L1937.5,1398.9 L1934.5,1398.9 L1931.5,1398.8 L1928.5,1398.8 L1925.5,1398.8 L1922.5,1398.7 L1919.5,1398.7 L1916.5,1398.6 L1913.5,1398.6 L1910.5,1398.6 L1907.5,1398.5 L1904.5,1398.5 L1901.5,1398.5 L1898.5,1398.5 L1895.5,1398.4 L1892.5,1398.4 L1889.5,1398.4 L1886.5,1398.3 L1883.5,1398.3 L1880.5,1398.3 L1877.5,1398.2 L1874.5,1398.2 L1871.5,1398.2 L1868.5,1398.2 L1865.5,1398.1 L1862.5,1398.1 L1859.5,1398.1 L1856.5,1398.1 L1853.5,1398.0 L1850.5,1398.0 L1847.5,1398.0 L1844.5,1398.0 L1841.5,1398.0 L1838.5,1397.9 L1835.5,1397.9 L1832.5,1397.9 L1829.5,1397.9 L1826.5,1397.9 L1823.5,1397.8 L1820.5,1397.8 L1817.5,1397.8 L1814.5,1397.8 L1811.5,1397.8 L1808.5,1397.8 L1805.5,1397.8 L1802.5,1397.7 L1799.5,1397.7 L1796.5,1397.7 L1793.5,1397.7 L1790.5,1397.7 L1787.5,1397.7 L1784.5,1397.7 L1781.5,1397.7 L1778.5,1397.7 L1775.5,1397.7 L1772.5,1397.7 L1769.5,1397.7 L1766.5,1397.6 L1763.5,1397.6 L1760.5,1397.6 L1757.5,1397.6 L1754.5,1397.6 L1751.5,1397.6 L1748.5,1397.6 L1745.5,1397.6 L1742.5,1397.6 L1739.5,1397.6 L1736.5,1397.6 L1733.5,1397.6 L1730.5,1397.6 L1727.5,1397.7 L1724.5,1397.7 L1721.5,1397.7 L1718.5,1397.7 L1715.5,1397.7 L1712.5,1397.7 L1709.5,1397.7 L1706.5,1397.7 L1703.5,1397.7 L1700.5,1397.7 L1697.5,1397.8 L1694.5,1397.8 L1691.5,1397.8 L1688.5,1397.8 L1685.5,1397.8 L1682.5,1397.8 L1679.5,1397.9 L1676.5,1397.9 L1673.5,1397.9 L1670.5,1397.9 L1667.5,1397.9 L1664.5,1398.0 L1661.5,1398.0 L1658.5,1398.0 L1655.5,1398.0 L1652.5,1398.1 L1649.5,1398.1 L1646.5,1398.1 L1643.5,1398.1 L1640.5,1398.2 L1637.5,1398.2 L1634.5,1398.2 L1631.5,1398.3 L1628.5,1398.3 L1625.5,1398.3 L1622.5,1398.4 L1619.5,1398.4 L1616.5,1398.4 L1613.5,1398.5 L1610.5,1398.5 L1607.5,1398.6 L1604.5,1398.6 L1601.5,1398.7 L1598.5,1398.7 L1595.5,1398.7 L1592.5,1398.8 L1589.5,1398.8 L1586.5,1398.9 L1583.5,1398.9 L1580.5,1399.0 L1577.5,1399.0 L1574.5,1399.1 L1571.6,1399.1 L1568.6,1399.2 L1565.6,1399.2 L1562.6,1399.3 L1559.6,1399.4 L1556.6,1399.4 L1553.6,1399.5 L1550.6,1399.5 L1547.6,1399.6 L1544.6,1399.7 L1541.6,1399.7 L1538.6,1399.8 L1535.6,1399.8 L1532.6,1399.9 L1529.6,1400.0 L1526.6,1400.0 L1523.6,1400.1 L1520.6,1400.2 L1517.6,1400.2 L1514.6,1400.3 L1511.6,1400.4 L1508.6,1400.5 L1505.6,1400.5 L1502.6,1400.6 L1499.6,1400.7 L1496.6,1400.8 L1493.6,1400.8 L1490.6,1400.9 L1487.6,1401.0 L1484.6,1401.1 L1481.6,1401.2 L1478.6,1401.3 L1475.6,1401.3 L1472.6,1401.4 L1469.6,1401.5 L1466.6,1401.6 L1463.6,1401.7 L1460.6,1401.8 L1457.6,1401.9 L1454.6,1402.0 L1451.6,1402.1 L1448.6,1402.2 L1445.6,1402.2 L1442.6,1402.3 L1439.6,1402.4 L1436.6,1402.5 L1433.6,1402.6 L1430.6,1402.7 L1427.6,1402.8 L1424.6,1402.9 L1421.6,1403.0 L1418.6,1403.2 L1415.6,1403.3 L1412.6,1403.4 L1409.6,1403.5 L1406.6,1403.6 L1403.6,1403.7 L1400.6,1403.8 L1397.6,1403.9 L1394.6,1404.0 L1391.6,1404.1 L1388.6,1404.3 L1385.6,1404.4 L1382.6,1404.5 L1379.6,1404.6 L1376.6,1404.7 L1373.6,1404.8 L1370.6,1405.0 L1367.6,1405.1 L1364.6,1405.2 L1361.6,1405.3 L1358.6,1405.4 L1355.6,1405.5 L1352.6,1405.6 L1349.6,1405.7 L1346.6,1405.8 L1343.6,1405.9 L1340.6,1406.0 L1337.6,1406.1 L1334.6,1406.2 L1331.6,1406.3 L1328.6,1406.4 L1325.6,1406.5 L1322.6,1406.6 L1319.6,1406.7 L1316.6,1406.8 L1313.6,1406.9 L1310.6,1407.0 L1307.6,1407.0 L1304.6,1407.1 L1301.6,1407.2 L1298.6,1407.2 L1295.6,1407.3 L1292.6,1407.3 L1289.5,1407.4 L1286.5,1407.4 L1283.5,1407.5 L1280.5,1407.5 L1277.5,1407.5 L1274.5,1407.6 L1271.5,1407.6 L1268.5,1407.6 L1265.5,1407.6 L1262.5,1407.6 L1259.5,1407.6 L1256.5,1407.6 L1253.5,1407.6 L1250.5,1407.6 L1247.5,1407.6 L1244.5,1407.5 L1241.5,1407.5 L1238.5,1407.5 L1235.4,1407.4 L1232.4,1407.3 L1229.4,1407.3 L1226.4,1407.2 L1223.4,1407.1 L1220.4,1407.0 L1217.4,1406.9 L1214.4,1406.8 L1211.4,1406.7 L1208.4,1406.6 L1205.4,1406.5 L1202.4,1406.3 L1199.4,1406.2 L1196.3,1406.0 L1193.3,1405.9 L1190.3,1405.7 L1187.3,1405.5 L1184.3,1405.3 L1181.3,1405.1 L1178.3,1404.9 L1175.3,1404.7 L1172.3,1404.5 L1169.3,1404.2 L1166.3,1404.0 L1163.2,1403.7 L1160.2,1403.4 L1157.2,1403.1 L1154.2,1402.9 L1151.2,1402.6 L1148.2,1402.3 L1145.2,1401.9 L1142.2,1401.6 L1139.2,1401.3 L1136.2,1400.9 L1133.2,1400.6 L1130.2,1400.2 L1127.2,1399.9 L1124.1,1399.5 L1121.1,1399.1 L1118.1,1398.7 L1115.1,1398.3 L1112.1,1397.9 L1109.1,1397.5 L1106.1,1397.1 L1103.1,1396.7 L1100.1,1396.3 L1097.1,1395.8 L1094.1,1395.4 L1091.1,1395.0 L1088.1,1394.5 L1085.1,1394.1 L1082.1,1393.6 L1079.1,1393.1 L1076.1,1392.7 L1073.1,1392.2 L1070.1,1391.7 L1067.0,1391.2 L1064.0,1390.7 L1061.0,1390.3 L1058.0,1389.8 L1055.0,1389.3 L1052.0,1388.8 L1049.0,1388.3 L1046.0,1387.8 L1043.0,1387.2 L1040.0,1386.7 L1037.0,1386.2 L1034.0,1385.7 L1031.0,1385.2 L1028.0,1384.7 L1025.0,1384.1 L1022.0,1383.6 L1019.0,1383.1 L1016.0,1382.6 L1013.0,1382.0 L1010.0,1381.5 L1007.0,1381.0 L1004.0,1380.5 L1001.0,1379.9 L998.0,1379.4 L995.0,1378.9 L992.0,1378.3 L989.0,1377.8 L986.0,1377.3 L983.0,1376.7 L980.0,1376.2 L977.0,1375.7 L974.0,1375.2 L971.0,1374.6 L968.0,1374.1 L965.0,1373.6 L962.0,1373.1 L959.0,1372.6 L956.0,1372.0 L953.0,1371.5 L950.0,1371.0 L947.0,1370.5 L944.0,1370.0 L941.0,1369.5 L938.0,1369.1 L935.1,1368.6 L932.1,1368.1 L929.1,1367.6 L926.1,1367.2 L923.1,1366.7 L920.1,1366.3 L917.1,1365.8 L914.1,1365.4 L911.1,1365.0 L908.1,1364.6 L905.1,1364.2 L902.1,1363.8 L899.1,1363.4 L896.2,1363.0 L893.2,1362.7 L890.2,1362.3 L887.2,1362.0 L884.2,1361.7 L881.2,1361.3 L878.2,1361.0 L875.2,1360.8 L872.2,1360.5 L869.3,1360.2 L866.3,1360.0 L863.3,1359.7 L860.3,1359.5 L857.3,1359.3 L854.3,1359.1 L851.3,1359.0 L848.4,1358.8 L845.4,1358.7 L842.4,1358.5 L839.4,1358.4 L836.4,1358.3 L833.4,1358.3 L830.5,1358.2 L827.5,1358.2 L824.5,1358.1 L821.5,1358.1 L818.5,1358.1 L815.5,1358.1 L812.5,1358.2 L809.6,1358.2 L806.6,1358.3 L803.6,1358.4 L800.6,1358.4 L797.6,1358.6 L794.6,1358.7 L791.6,1358.8 L788.7,1359.0 L785.7,1359.1 L782.7,1359.3 L779.7,1359.5 L776.7,1359.7 L773.7,1360.0 L770.7,1360.2 L767.7,1360.5 L764.8,1360.7 L761.8,1361.0 L758.8,1361.3 L755.8,1361.6 L752.8,1361.9 L749.8,1362.3 L746.8,1362.6 L743.9,1363.0 L740.9,1363.4 L737.9,1363.8 L734.9,1364.2 L731.9,1364.6 L728.9,1365.0 L725.9,1365.5 L722.9,1365.9 L719.9,1366.4 L717.0,1366.9 L714.0,1367.4 L711.0,1367.9 L708.0,1368.4 L705.0,1368.9 L702.0,1369.4 L699.0,1369.9 L696.0,1370.5 L693.0,1371.0 L690.0,1371.6 L687.0,1372.1 L684.0,1372.7 L681.0,1373.2 L678.0,1373.8 L675.0,1374.4 L672.0,1375.0 L669.0,1375.6 L666.1,1376.2 L663.1,1376.8 L660.1,1377.3 L657.1,1377.9 L654.1,1378.5 L651.1,1379.1 L648.1,1379.8 L645.1,1380.4 L642.1,1381.0 L639.1,1381.6 L636.1,1382.2 L633.1,1382.8 L630.1,1383.4 L627.1,1384.0 L624.1,1384.6 L621.1,1385.2 L618.0,1385.7 L615.0,1386.3 L612.0,1386.9 L609.0,1387.5 L606.0,1388.1 L603.0,1388.6 L600.0,1389.2 L597.0,1389.8 L594.0,1390.3 L591.0,1390.9 L588.0,1391.4 L585.0,1391.9 L582.0,1392.5 L579.0,1393.0 L576.0,1393.5 L573.0,1394.0 L570.0,1394.5 L566.9,1394.9 L563.9,1395.4 L560.9,1395.9 L557.9,1396.3 L554.9,1396.7 L551.9,1397.2 L548.9,1397.6 L545.9,1398.0 L542.9,1398.3 L539.8,1398.7 L536.8,1399.1 L533.8,1399.4 L530.8,1399.7 L527.8,1400.0 L524.8,1400.3 L521.8,1400.6 L518.7,1400.9 L515.7,1401.1 L512.7,1401.3 L509.7,1401.6 L506.7,1401.7 L503.7,1401.9 L500.6,1402.1 L497.6,1402.2 L494.6,1402.3 L491.6,1402.4 L488.6,1402.5 L485.5,1402.5 L482.5,1402.6 L479.5,1402.6 L476.5,1402.6 L473.5,1402.6 L470.4,1402.5 L467.4,1402.4 L464.4,1402.4 L461.4,1402.3 L458.4,1402.1 L455.4,1402.0 L452.3,1401.8 L449.3,1401.6 L446.3,1401.4 L443.3,1401.2 L440.3,1401.0 L437.2,1400.7 L434.2,1400.4 L431.2,1400.1 L428.2,1399.8 L425.2,1399.4 L422.1,1399.0 L419.1,1398.7 L416.1,1398.2 L413.1,1397.8 L410.1,1397.4 L407.1,1396.9 L404.0,1396.4 L401.0,1395.9 L398.0,1395.4 L395.0,1394.8 L392.0,1394.2 L388.9,1393.6 L385.9,1393.0 L382.9,1392.4 L379.9,1391.7 L376.9,1391.0 L373.8,1390.3 L370.8,1389.6 L367.8,1388.9 L364.8,1388.1 L361.8,1387.3 L358.8,1386.5 L355.7,1385.7 L352.7,1384.9 L349.7,1384.0 L346.7,1383.2 L343.7,1382.3 L340.7,1381.4 L337.7,1380.4 L334.6,1379.5 L331.6,1378.5 L328.6,1377.6 L325.6,1376.6 L322.6,1375.6 L319.6,1374.5 L316.6,1373.5 L313.5,1372.4 L310.5,1371.4 L307.5,1370.3 L304.5,1369.2 L301.5,1368.0 L298.5,1366.9 L295.5,1365.7 L292.5,1364.6 L289.5,1363.4 L286.4,1362.2 L283.4,1361.0 L280.4,1359.7 L277.4,1358.5 L274.6,1357.3 L271.9,1356.7 L268.9,1356.1 L265.9,1355.4 L262.9,1354.8 L259.9,1354.2 L256.9,1353.5 L253.9,1352.9 L250.9,1352.3 L247.9,1351.6 L244.9,1351.0Z" fill="#00D4FF"/>
<path d="M245.7,1487.3 L248.7,1487.5 L251.7,1487.8 L254.7,1488.0 L257.7,1488.2 L260.7,1488.5 L263.7,1488.7 L266.7,1488.9 L269.7,1489.2 L272.7,1489.4 L275.7,1489.6 L278.7,1489.8 L281.7,1490.1 L284.7,1490.3 L287.7,1490.5 L290.7,1490.7 L293.7,1490.9 L296.7,1491.1 L299.7,1491.2 L302.7,1491.4 L305.7,1491.6 L308.7,1491.8 L311.7,1491.9 L314.7,1492.1 L317.6,1492.3 L320.6,1492.4 L323.6,1492.6 L326.6,1492.7 L329.6,1492.8 L332.6,1493.0 L335.6,1493.1 L338.6,1493.2 L341.6,1493.4 L344.6,1493.5 L347.6,1493.6 L350.6,1493.7 L353.6,1493.8 L356.6,1493.9 L359.6,1494.0 L362.6,1494.1 L365.6,1494.2 L368.6,1494.3 L371.6,1494.3 L374.6,1494.4 L377.6,1494.5 L380.6,1494.6 L383.6,1494.6 L386.6,1494.7 L389.6,1494.8 L392.6,1494.8 L395.5,1494.9 L398.5,1494.9 L401.5,1495.0 L404.5,1495.0 L407.5,1495.0 L410.5,1495.1 L413.5,1495.1 L416.5,1495.1 L419.5,1495.2 L422.5,1495.2 L425.5,1495.2 L428.5,1495.2 L431.5,1495.3 L434.5,1495.3 L437.5,1495.3 L440.5,1495.3 L443.5,1495.3 L446.5,1495.3 L449.5,1495.3 L452.5,1495.3 L455.5,1495.3 L458.5,1495.3 L461.5,1495.3 L464.5,1495.3 L467.5,1495.3 L470.5,1495.2 L473.5,1495.2 L476.5,1495.2 L479.5,1495.2 L482.5,1495.2 L485.5,1495.1 L488.5,1495.1 L491.5,1495.1 L494.5,1495.1 L497.5,1495.0 L500.5,1495.0 L503.5,1495.0 L506.5,1494.9 L509.5,1494.9 L512.5,1494.8 L515.5,1494.8 L518.5,1494.8 L521.5,1494.7 L524.5,1494.7 L527.5,1494.6 L530.5,1494.6 L533.5,1494.5 L536.5,1494.5 L539.5,1494.4 L542.4,1494.4 L545.4,1494.3 L548.4,1494.3 L551.4,1494.2 L554.4,1494.1 L557.4,1494.1 L560.4,1494.0 L563.4,1494.0 L566.4,1493.9 L569.4,1493.8 L572.4,1493.8 L575.4,1493.7 L578.4,1493.7 L581.4,1493.6 L584.4,1493.5 L587.4,1493.5 L590.4,1493.4 L593.4,1493.3 L596.4,1493.3 L599.4,1493.2 L602.4,1493.1 L605.4,1493.1 L608.4,1493.0 L611.4,1492.9 L614.4,1492.9 L617.4,1492.8 L620.4,1492.7 L623.4,1492.7 L626.4,1492.6 L629.4,1492.6 L632.4,1492.5 L635.4,1492.4 L638.4,1492.4 L641.4,1492.3 L644.4,1492.2 L647.4,1492.2 L650.4,1492.1 L653.4,1492.0 L656.4,1492.0 L659.4,1491.9 L662.4,1491.9 L665.4,1491.8 L668.4,1491.7 L671.4,1491.7 L674.4,1491.6 L677.4,1491.6 L680.4,1491.5 L683.4,1491.4 L686.4,1491.4 L689.4,1491.3 L692.5,1491.3 L695.5,1491.2 L698.5,1491.2 L701.5,1491.1 L704.5,1491.1 L707.5,1491.0 L710.5,1491.0 L713.5,1490.9 L716.5,1490.9 L719.5,1490.9 L722.5,1490.8 L725.5,1490.8 L728.5,1490.7 L731.5,1490.7 L734.5,1490.7 L737.5,1490.6 L740.5,1490.6 L743.5,1490.6 L746.5,1490.5 L749.5,1490.5 L752.5,1490.5 L755.5,1490.5 L758.5,1490.5 L761.5,1490.4 L764.5,1490.4 L767.5,1490.4 L770.5,1490.4 L773.5,1490.4 L776.5,1490.4 L779.5,1490.4 L782.5,1490.3 L785.5,1490.3 L788.5,1490.3 L791.5,1490.3 L794.5,1490.3 L797.5,1490.3 L800.5,1490.3 L803.5,1490.3 L806.5,1490.3 L809.5,1490.3 L812.5,1490.3 L815.5,1490.4 L818.5,1490.4 L821.5,1490.4 L824.5,1490.4 L827.5,1490.4 L830.5,1490.4 L833.5,1490.4 L836.5,1490.5 L839.5,1490.5 L842.5,1490.5 L845.5,1490.5 L848.5,1490.5 L851.5,1490.6 L854.5,1490.6 L857.5,1490.6 L860.5,1490.6 L863.5,1490.7 L866.5,1490.7 L869.5,1490.7 L872.5,1490.7 L875.5,1490.8 L878.5,1490.8 L881.5,1490.8 L884.5,1490.9 L887.5,1490.9 L890.5,1490.9 L893.5,1491.0 L896.5,1491.0 L899.5,1491.1 L902.5,1491.1 L905.5,1491.1 L908.5,1491.2 L911.5,1491.2 L914.5,1491.3 L917.5,1491.3 L920.5,1491.4 L923.5,1491.4 L926.5,1491.4 L929.5,1491.5 L932.5,1491.5 L935.5,1491.6 L938.5,1491.6 L941.5,1491.7 L944.5,1491.7 L947.5,1491.8 L950.5,1491.8 L953.5,1491.9 L956.5,1491.9 L959.5,1492.0 L962.5,1492.0 L965.5,1492.1 L968.6,1492.1 L971.6,1492.2 L974.6,1492.2 L977.6,1492.3 L980.6,1492.4 L983.6,1492.4 L986.6,1492.5 L989.6,1492.5 L992.6,1492.6 L995.6,1492.6 L998.6,1492.7 L1001.6,1492.7 L1004.6,1492.8 L1007.6,1492.8 L1010.6,1492.9 L1013.6,1493.0 L1016.6,1493.0 L1019.6,1493.1 L1022.6,1493.1 L1025.6,1493.2 L1028.6,1493.2 L1031.6,1493.3 L1034.6,1493.4 L1037.6,1493.4 L1040.6,1493.5 L1043.6,1493.5 L1046.6,1493.6 L1049.6,1493.6 L1052.6,1493.7 L1055.6,1493.7 L1058.6,1493.8 L1061.6,1493.9 L1064.6,1493.9 L1067.6,1494.0 L1070.6,1494.0 L1073.6,1494.1 L1076.6,1494.1 L1079.6,1494.2 L1082.6,1494.2 L1085.6,1494.3 L1088.6,1494.3 L1091.5,1494.4 L1094.5,1494.5 L1097.5,1494.5 L1100.5,1494.6 L1103.5,1494.6 L1106.5,1494.7 L1109.5,1494.7 L1112.5,1494.8 L1115.5,1494.8 L1118.5,1494.9 L1121.5,1494.9 L1124.5,1494.9 L1127.5,1495.0 L1130.5,1495.0 L1133.5,1495.1 L1136.5,1495.1 L1139.5,1495.2 L1142.5,1495.2 L1145.5,1495.3 L1148.5,1495.3 L1151.5,1495.3 L1154.5,1495.4 L1157.5,1495.4 L1160.5,1495.5 L1163.5,1495.5 L1166.5,1495.5 L1169.5,1495.6 L1172.5,1495.6 L1175.5,1495.6 L1178.5,1495.7 L1181.5,1495.7 L1184.5,1495.7 L1187.5,1495.8 L1190.5,1495.8 L1193.5,1495.8 L1196.5,1495.9 L1199.5,1495.9 L1202.5,1495.9 L1205.5,1495.9 L1208.5,1496.0 L1211.5,1496.0 L1214.5,1496.0 L1217.5,1496.0 L1220.5,1496.1 L1223.5,1496.1 L1226.5,1496.1 L1229.5,1496.1 L1232.5,1496.1 L1235.5,1496.2 L1238.5,1496.2 L1241.5,1496.2 L1244.5,1496.2 L1247.5,1496.2 L1250.5,1496.2 L1253.5,1496.2 L1256.5,1496.3 L1259.5,1496.3 L1262.5,1496.3 L1265.5,1496.3 L1268.5,1496.3 L1271.5,1496.3 L1274.5,1496.3 L1277.5,1496.3 L1280.5,1496.3 L1283.5,1496.4 L1286.5,1496.4 L1289.5,1496.4 L1292.5,1496.4 L1295.5,1496.4 L1298.5,1496.4 L1301.5,1496.4 L1304.5,1496.4 L1307.5,1496.4 L1310.5,1496.4 L1313.5,1496.4 L1316.5,1496.4 L1319.5,1496.4 L1322.5,1496.4 L1325.5,1496.4 L1328.5,1496.4 L1331.5,1496.4 L1334.5,1496.4 L1337.5,1496.4 L1340.5,1496.4 L1343.5,1496.4 L1346.5,1496.4 L1349.5,1496.4 L1352.5,1496.4 L1355.5,1496.4 L1358.5,1496.4 L1361.5,1496.4 L1364.5,1496.4 L1367.5,1496.4 L1370.5,1496.3 L1373.5,1496.3 L1376.5,1496.3 L1379.5,1496.3 L1382.5,1496.3 L1385.5,1496.3 L1388.5,1496.3 L1391.5,1496.3 L1394.5,1496.3 L1397.5,1496.3 L1400.5,1496.3 L1403.5,1496.3 L1406.5,1496.3 L1409.5,1496.2 L1412.5,1496.2 L1415.5,1496.2 L1418.5,1496.2 L1421.5,1496.2 L1424.5,1496.2 L1427.5,1496.2 L1430.5,1496.2 L1433.5,1496.2 L1436.5,1496.1 L1439.5,1496.1 L1442.5,1496.1 L1445.5,1496.1 L1448.5,1496.1 L1451.5,1496.1 L1454.5,1496.1 L1457.5,1496.1 L1460.5,1496.1 L1463.5,1496.0 L1466.5,1496.0 L1469.5,1496.0 L1472.5,1496.0 L1475.5,1496.0 L1478.5,1496.0 L1481.5,1496.0 L1484.5,1496.0 L1487.5,1495.9 L1490.5,1495.9 L1493.5,1495.9 L1496.5,1495.9 L1499.5,1495.9 L1502.5,1495.9 L1505.5,1495.9 L1508.5,1495.8 L1511.5,1495.8 L1514.5,1495.8 L1517.5,1495.8 L1520.5,1495.8 L1523.5,1495.8 L1526.5,1495.8 L1529.5,1495.8 L1532.5,1495.8 L1535.5,1495.7 L1538.5,1495.7 L1541.5,1495.7 L1544.5,1495.7 L1547.5,1495.7 L1550.5,1495.7 L1553.5,1495.7 L1556.5,1495.7 L1559.5,1495.7 L1562.5,1495.6 L1565.5,1495.6 L1568.5,1495.6 L1571.5,1495.6 L1574.5,1495.6 L1577.5,1495.6 L1580.5,1495.6 L1583.5,1495.6 L1586.5,1495.6 L1589.5,1495.6 L1592.5,1495.6 L1595.5,1495.5 L1598.5,1495.5 L1601.5,1495.5 L1604.5,1495.5 L1607.5,1495.5 L1610.5,1495.5 L1613.5,1495.5 L1616.5,1495.5 L1619.5,1495.5 L1622.5,1495.5 L1625.5,1495.5 L1628.5,1495.5 L1631.5,1495.5 L1634.5,1495.5 L1637.5,1495.5 L1640.5,1495.5 L1643.5,1495.5 L1646.5,1495.5 L1649.5,1495.5 L1652.5,1495.5 L1655.5,1495.5 L1658.5,1495.5 L1661.5,1495.5 L1664.5,1495.5 L1667.5,1495.5 L1670.5,1495.5 L1673.5,1495.5 L1676.5,1495.5 L1679.5,1495.5 L1682.5,1495.5 L1685.5,1495.5 L1688.5,1495.5 L1691.5,1495.5 L1694.5,1495.5 L1697.5,1495.5 L1700.5,1495.5 L1703.5,1495.5 L1706.5,1495.5 L1709.5,1495.5 L1712.5,1495.5 L1715.5,1495.5 L1718.5,1495.5 L1721.5,1495.6 L1724.5,1495.6 L1727.5,1495.6 L1730.5,1495.6 L1733.5,1495.6 L1736.5,1495.6 L1739.5,1495.6 L1742.5,1495.6 L1745.5,1495.6 L1748.5,1495.6 L1751.5,1495.6 L1754.5,1495.6 L1757.5,1495.6 L1760.5,1495.6 L1763.5,1495.6 L1766.5,1495.7 L1769.5,1495.7 L1772.5,1495.7 L1775.5,1495.7 L1778.5,1495.7 L1781.5,1495.7 L1784.5,1495.7 L1787.5,1495.7 L1790.5,1495.7 L1793.5,1495.7 L1796.5,1495.7 L1799.5,1495.7 L1802.5,1495.7 L1805.5,1495.8 L1808.5,1495.8 L1811.5,1495.8 L1814.5,1495.8 L1817.5,1495.8 L1820.5,1495.8 L1823.5,1495.8 L1826.5,1495.8 L1829.5,1495.8 L1832.5,1495.8 L1835.5,1495.8 L1838.5,1495.8 L1841.5,1495.8 L1844.5,1495.8 L1847.5,1495.8 L1850.5,1495.8 L1853.5,1495.9 L1856.5,1495.9 L1859.5,1495.9 L1862.5,1495.9 L1865.5,1495.9 L1868.5,1495.9 L1871.5,1495.9 L1874.5,1495.9 L1877.5,1495.9 L1880.5,1495.9 L1883.5,1495.9 L1886.5,1495.9 L1889.5,1495.9 L1892.5,1495.9 L1895.5,1495.9 L1898.5,1495.9 L1901.5,1495.9 L1904.5,1495.9 L1907.5,1495.9 L1910.5,1495.9 L1913.5,1495.9 L1916.5,1495.9 L1919.5,1495.9 L1922.5,1495.9 L1925.5,1495.9 L1928.5,1495.9 L1931.5,1495.9 L1934.5,1495.9 L1937.5,1495.9 L1940.5,1495.9 L1943.5,1495.9 L1946.5,1495.9 L1949.5,1495.9 L1952.5,1495.8 L1955.5,1495.8 L1958.5,1495.8 L1961.5,1495.8 L1964.5,1495.8 L1967.5,1495.8 L1970.5,1495.8 L1973.5,1495.8 L1976.5,1495.8 L1979.5,1495.8 L1982.5,1495.8 L1985.5,1495.7 L1988.5,1495.7 L1991.5,1495.7 L1994.5,1495.7 L1997.5,1495.7 L2000.5,1495.7 L2003.5,1495.7 L2006.5,1495.6 L2009.5,1495.6 L2012.5,1495.6 L2015.5,1495.6 L2018.5,1495.6 L2021.5,1495.6 L2024.5,1495.5 L2027.5,1495.5 L2030.5,1495.5 L2033.5,1495.5 L2036.5,1495.4 L2039.5,1495.4 L2042.5,1495.4 L2045.5,1495.4 L2048.5,1495.3 L2051.5,1495.3 L2054.5,1495.3 L2057.5,1495.3 L2060.5,1495.2 L2063.5,1495.2 L2066.5,1495.2 L2069.5,1495.1 L2072.5,1495.1 L2075.5,1495.1 L2078.5,1495.0 L2081.5,1495.0 L2081.5,1500.7 L2078.5,1500.7 L2075.5,1500.8 L2072.5,1500.8 L2069.5,1500.8 L2066.5,1500.9 L2063.5,1500.9 L2060.5,1500.9 L2057.5,1501.0 L2054.5,1501.0 L2051.5,1501.0 L2048.5,1501.0 L2045.5,1501.1 L2042.5,1501.1 L2039.5,1501.1 L2036.5,1501.1 L2033.5,1501.2 L2030.5,1501.2 L2027.5,1501.2 L2024.5,1501.2 L2021.5,1501.3 L2018.5,1501.3 L2015.5,1501.3 L2012.5,1501.3 L2009.5,1501.3 L2006.5,1501.3 L2003.5,1501.4 L2000.5,1501.4 L1997.5,1501.4 L1994.5,1501.4 L1991.5,1501.4 L1988.5,1501.4 L1985.5,1501.4 L1982.5,1501.5 L1979.5,1501.5 L1976.5,1501.5 L1973.5,1501.5 L1970.5,1501.5 L1967.5,1501.5 L1964.5,1501.5 L1961.5,1501.5 L1958.5,1501.5 L1955.5,1501.5 L1952.5,1501.5 L1949.5,1501.6 L1946.5,1501.6 L1943.5,1501.6 L1940.5,1501.6 L1937.5,1501.6 L1934.5,1501.6 L1931.5,1501.6 L1928.5,1501.6 L1925.5,1501.6 L1922.5,1501.6 L1919.5,1501.6 L1916.5,1501.6 L1913.5,1501.6 L1910.5,1501.6 L1907.5,1501.6 L1904.5,1501.6 L1901.5,1501.6 L1898.5,1501.6 L1895.5,1501.6 L1892.5,1501.6 L1889.5,1501.6 L1886.5,1501.6 L1883.5,1501.6 L1880.5,1501.6 L1877.5,1501.6 L1874.5,1501.6 L1871.5,1501.6 L1868.5,1501.6 L1865.5,1501.6 L1862.5,1501.6 L1859.5,1501.6 L1856.5,1501.6 L1853.5,1501.6 L1850.5,1501.5 L1847.5,1501.5 L1844.5,1501.5 L1841.5,1501.5 L1838.5,1501.5 L1835.5,1501.5 L1832.5,1501.5 L1829.5,1501.5 L1826.5,1501.5 L1823.5,1501.5 L1820.5,1501.5 L1817.5,1501.5 L1814.5,1501.5 L1811.5,1501.5 L1808.5,1501.5 L1805.5,1501.5 L1802.5,1501.4 L1799.5,1501.4 L1796.5,1501.4 L1793.5,1501.4 L1790.5,1501.4 L1787.5,1501.4 L1784.5,1501.4 L1781.5,1501.4 L1778.5,1501.4 L1775.5,1501.4 L1772.5,1501.4 L1769.5,1501.4 L1766.5,1501.4 L1763.5,1501.3 L1760.5,1501.3 L1757.5,1501.3 L1754.5,1501.3 L1751.5,1501.3 L1748.5,1501.3 L1745.5,1501.3 L1742.5,1501.3 L1739.5,1501.3 L1736.5,1501.3 L1733.5,1501.3 L1730.5,1501.3 L1727.5,1501.3 L1724.5,1501.3 L1721.5,1501.3 L1718.5,1501.2 L1715.5,1501.2 L1712.5,1501.2 L1709.5,1501.2 L1706.5,1501.2 L1703.5,1501.2 L1700.5,1501.2 L1697.5,1501.2 L1694.5,1501.2 L1691.5,1501.2 L1688.5,1501.2 L1685.5,1501.2 L1682.5,1501.2 L1679.5,1501.2 L1676.5,1501.2 L1673.5,1501.2 L1670.5,1501.2 L1667.5,1501.2 L1664.5,1501.2 L1661.5,1501.2 L1658.5,1501.2 L1655.5,1501.2 L1652.5,1501.2 L1649.5,1501.2 L1646.5,1501.2 L1643.5,1501.2 L1640.5,1501.2 L1637.5,1501.2 L1634.5,1501.2 L1631.5,1501.2 L1628.5,1501.2 L1625.5,1501.2 L1622.5,1501.2 L1619.5,1501.2 L1616.5,1501.2 L1613.5,1501.2 L1610.5,1501.2 L1607.5,1501.2 L1604.5,1501.2 L1601.5,1501.2 L1598.5,1501.2 L1595.5,1501.2 L1592.5,1501.3 L1589.5,1501.3 L1586.5,1501.3 L1583.5,1501.3 L1580.5,1501.3 L1577.5,1501.3 L1574.5,1501.3 L1571.5,1501.3 L1568.5,1501.3 L1565.5,1501.3 L1562.5,1501.3 L1559.5,1501.4 L1556.5,1501.4 L1553.5,1501.4 L1550.5,1501.4 L1547.5,1501.4 L1544.5,1501.4 L1541.5,1501.4 L1538.5,1501.4 L1535.5,1501.4 L1532.5,1501.5 L1529.5,1501.5 L1526.5,1501.5 L1523.5,1501.5 L1520.5,1501.5 L1517.5,1501.5 L1514.5,1501.5 L1511.5,1501.5 L1508.5,1501.5 L1505.5,1501.6 L1502.5,1501.6 L1499.5,1501.6 L1496.5,1501.6 L1493.5,1501.6 L1490.5,1501.6 L1487.5,1501.6 L1484.5,1501.7 L1481.5,1501.7 L1478.5,1501.7 L1475.5,1501.7 L1472.5,1501.7 L1469.5,1501.7 L1466.5,1501.7 L1463.5,1501.7 L1460.5,1501.8 L1457.5,1501.8 L1454.5,1501.8 L1451.5,1501.8 L1448.5,1501.8 L1445.5,1501.8 L1442.5,1501.8 L1439.5,1501.8 L1436.5,1501.8 L1433.5,1501.9 L1430.5,1501.9 L1427.5,1501.9 L1424.5,1501.9 L1421.5,1501.9 L1418.5,1501.9 L1415.5,1501.9 L1412.5,1501.9 L1409.5,1501.9 L1406.5,1502.0 L1403.5,1502.0 L1400.5,1502.0 L1397.5,1502.0 L1394.5,1502.0 L1391.5,1502.0 L1388.5,1502.0 L1385.5,1502.0 L1382.5,1502.0 L1379.5,1502.0 L1376.5,1502.0 L1373.5,1502.0 L1370.5,1502.0 L1367.5,1502.1 L1364.5,1502.1 L1361.5,1502.1 L1358.5,1502.1 L1355.5,1502.1 L1352.5,1502.1 L1349.5,1502.1 L1346.5,1502.1 L1343.5,1502.1 L1340.5,1502.1 L1337.5,1502.1 L1334.5,1502.1 L1331.5,1502.1 L1328.5,1502.1 L1325.5,1502.1 L1322.5,1502.1 L1319.5,1502.1 L1316.5,1502.1 L1313.5,1502.1 L1310.5,1502.1 L1307.5,1502.1 L1304.5,1502.1 L1301.5,1502.1 L1298.5,1502.1 L1295.5,1502.1 L1292.5,1502.1 L1289.5,1502.1 L1286.5,1502.1 L1283.5,1502.1 L1280.5,1502.0 L1277.5,1502.0 L1274.5,1502.0 L1271.5,1502.0 L1268.5,1502.0 L1265.5,1502.0 L1262.5,1502.0 L1259.5,1502.0 L1256.5,1502.0 L1253.5,1501.9 L1250.5,1501.9 L1247.5,1501.9 L1244.5,1501.9 L1241.5,1501.9 L1238.5,1501.9 L1235.5,1501.9 L1232.5,1501.8 L1229.5,1501.8 L1226.5,1501.8 L1223.5,1501.8 L1220.5,1501.8 L1217.5,1501.7 L1214.5,1501.7 L1211.5,1501.7 L1208.5,1501.7 L1205.5,1501.6 L1202.5,1501.6 L1199.5,1501.6 L1196.5,1501.6 L1193.5,1501.5 L1190.5,1501.5 L1187.5,1501.5 L1184.5,1501.4 L1181.5,1501.4 L1178.5,1501.4 L1175.5,1501.3 L1172.5,1501.3 L1169.5,1501.3 L1166.5,1501.2 L1163.5,1501.2 L1160.5,1501.2 L1157.5,1501.1 L1154.5,1501.1 L1151.5,1501.0 L1148.5,1501.0 L1145.5,1501.0 L1142.5,1500.9 L1139.5,1500.9 L1136.5,1500.8 L1133.5,1500.8 L1130.5,1500.7 L1127.5,1500.7 L1124.5,1500.6 L1121.5,1500.6 L1118.5,1500.6 L1115.5,1500.5 L1112.5,1500.5 L1109.5,1500.4 L1106.5,1500.4 L1103.5,1500.3 L1100.5,1500.3 L1097.5,1500.2 L1094.5,1500.2 L1091.5,1500.1 L1088.4,1500.0 L1085.4,1500.0 L1082.4,1499.9 L1079.4,1499.9 L1076.4,1499.8 L1073.4,1499.8 L1070.4,1499.7 L1067.4,1499.7 L1064.4,1499.6 L1061.4,1499.6 L1058.4,1499.5 L1055.4,1499.4 L1052.4,1499.4 L1049.4,1499.3 L1046.4,1499.3 L1043.4,1499.2 L1040.4,1499.2 L1037.4,1499.1 L1034.4,1499.1 L1031.4,1499.0 L1028.4,1498.9 L1025.4,1498.9 L1022.4,1498.8 L1019.4,1498.8 L1016.4,1498.7 L1013.4,1498.7 L1010.4,1498.6 L1007.4,1498.5 L1004.4,1498.5 L1001.4,1498.4 L998.4,1498.4 L995.4,1498.3 L992.4,1498.3 L989.4,1498.2 L986.4,1498.2 L983.4,1498.1 L980.4,1498.1 L977.4,1498.0 L974.4,1497.9 L971.4,1497.9 L968.4,1497.8 L965.5,1497.8 L962.5,1497.7 L959.5,1497.7 L956.5,1497.6 L953.5,1497.6 L950.5,1497.5 L947.5,1497.5 L944.5,1497.4 L941.5,1497.4 L938.5,1497.3 L935.5,1497.3 L932.5,1497.2 L929.5,1497.2 L926.5,1497.1 L923.5,1497.1 L920.5,1497.1 L917.5,1497.0 L914.5,1497.0 L911.5,1496.9 L908.5,1496.9 L905.5,1496.8 L902.5,1496.8 L899.5,1496.8 L896.5,1496.7 L893.5,1496.7 L890.5,1496.6 L887.5,1496.6 L884.5,1496.6 L881.5,1496.5 L878.5,1496.5 L875.5,1496.5 L872.5,1496.4 L869.5,1496.4 L866.5,1496.4 L863.5,1496.4 L860.5,1496.3 L857.5,1496.3 L854.5,1496.3 L851.5,1496.3 L848.5,1496.2 L845.5,1496.2 L842.5,1496.2 L839.5,1496.2 L836.5,1496.2 L833.5,1496.1 L830.5,1496.1 L827.5,1496.1 L824.5,1496.1 L821.5,1496.1 L818.5,1496.1 L815.5,1496.1 L812.5,1496.0 L809.5,1496.0 L806.5,1496.0 L803.5,1496.0 L800.5,1496.0 L797.5,1496.0 L794.5,1496.0 L791.5,1496.0 L788.5,1496.0 L785.5,1496.0 L782.5,1496.0 L779.5,1496.1 L776.5,1496.1 L773.5,1496.1 L770.5,1496.1 L767.5,1496.1 L764.5,1496.1 L761.5,1496.1 L758.5,1496.2 L755.5,1496.2 L752.5,1496.2 L749.5,1496.2 L746.5,1496.2 L743.5,1496.3 L740.5,1496.3 L737.5,1496.3 L734.5,1496.4 L731.5,1496.4 L728.5,1496.4 L725.5,1496.5 L722.5,1496.5 L719.5,1496.6 L716.5,1496.6 L713.5,1496.6 L710.5,1496.7 L707.5,1496.7 L704.5,1496.8 L701.5,1496.8 L698.5,1496.9 L695.5,1496.9 L692.5,1497.0 L689.6,1497.0 L686.6,1497.1 L683.6,1497.1 L680.6,1497.2 L677.6,1497.3 L674.6,1497.3 L671.6,1497.4 L668.6,1497.4 L665.6,1497.5 L662.6,1497.5 L659.6,1497.6 L656.6,1497.7 L653.6,1497.7 L650.6,1497.8 L647.6,1497.9 L644.6,1497.9 L641.6,1498.0 L638.6,1498.1 L635.6,1498.1 L632.6,1498.2 L629.6,1498.3 L626.6,1498.3 L623.6,1498.4 L620.6,1498.4 L617.6,1498.5 L614.6,1498.6 L611.6,1498.6 L608.6,1498.7 L605.6,1498.8 L602.6,1498.8 L599.6,1498.9 L596.6,1499.0 L593.6,1499.0 L590.6,1499.1 L587.6,1499.2 L584.6,1499.2 L581.6,1499.3 L578.6,1499.4 L575.6,1499.4 L572.6,1499.5 L569.6,1499.5 L566.6,1499.6 L563.6,1499.7 L560.6,1499.7 L557.6,1499.8 L554.6,1499.8 L551.6,1499.9 L548.6,1500.0 L545.6,1500.0 L542.6,1500.1 L539.5,1500.1 L536.5,1500.2 L533.5,1500.2 L530.5,1500.3 L527.5,1500.3 L524.5,1500.4 L521.5,1500.4 L518.5,1500.5 L515.5,1500.5 L512.5,1500.5 L509.5,1500.6 L506.5,1500.6 L503.5,1500.7 L500.5,1500.7 L497.5,1500.7 L494.5,1500.8 L491.5,1500.8 L488.5,1500.8 L485.5,1500.8 L482.5,1500.9 L479.5,1500.9 L476.5,1500.9 L473.5,1500.9 L470.5,1500.9 L467.5,1501.0 L464.5,1501.0 L461.5,1501.0 L458.5,1501.0 L455.5,1501.0 L452.5,1501.0 L449.5,1501.0 L446.5,1501.0 L443.5,1501.0 L440.5,1501.0 L437.5,1501.0 L434.5,1501.0 L431.5,1501.0 L428.5,1500.9 L425.5,1500.9 L422.5,1500.9 L419.5,1500.9 L416.5,1500.8 L413.5,1500.8 L410.5,1500.8 L407.5,1500.7 L404.5,1500.7 L401.5,1500.7 L398.5,1500.6 L395.5,1500.6 L392.4,1500.5 L389.4,1500.5 L386.4,1500.4 L383.4,1500.3 L380.4,1500.3 L377.4,1500.2 L374.4,1500.1 L371.4,1500.0 L368.4,1500.0 L365.4,1499.9 L362.4,1499.8 L359.4,1499.7 L356.4,1499.6 L353.4,1499.5 L350.4,1499.4 L347.4,1499.3 L344.4,1499.2 L341.4,1499.0 L338.4,1498.9 L335.4,1498.8 L332.4,1498.7 L329.4,1498.5 L326.4,1498.4 L323.4,1498.3 L320.4,1498.1 L317.4,1498.0 L314.3,1497.8 L311.3,1497.6 L308.3,1497.5 L305.3,1497.3 L302.3,1497.1 L299.3,1496.9 L296.3,1496.8 L293.3,1496.6 L290.3,1496.4 L287.3,1496.2 L284.3,1496.0 L281.3,1495.7 L278.3,1495.5 L275.3,1495.3 L272.3,1495.1 L269.3,1494.8 L266.3,1494.6 L263.3,1494.4 L260.3,1494.1 L257.3,1493.9 L254.3,1493.7 L251.3,1493.5 L248.3,1493.2 L245.3,1493.0Z" fill="#00FFDD"/>
<path d="M245.1,1502.3 L248.1,1501.9 L251.1,1501.5 L254.1,1501.2 L257.1,1500.8 L260.1,1500.4 L263.1,1500.0 L266.1,1499.6 L269.1,1499.2 L272.1,1498.8 L275.1,1498.4 L278.0,1497.9 L281.0,1497.4 L284.0,1496.9 L287.0,1496.4 L290.0,1495.9 L293.0,1495.4 L296.0,1494.9 L299.1,1494.4 L302.1,1493.9 L305.1,1493.5 L308.1,1493.0 L311.1,1492.6 L314.1,1492.1 L317.1,1491.7 L320.1,1491.3 L323.1,1490.8 L326.1,1490.4 L329.1,1490.0 L332.1,1489.6 L335.1,1489.3 L338.1,1488.9 L341.2,1488.5 L344.2,1488.2 L347.2,1487.8 L350.2,1487.4 L353.2,1487.1 L356.2,1486.8 L359.2,1486.5 L362.2,1486.1 L365.2,1485.8 L368.2,1485.5 L371.2,1485.2 L374.2,1484.9 L377.2,1484.6 L380.2,1484.4 L383.3,1484.1 L386.3,1483.8 L389.3,1483.6 L392.3,1483.3 L395.3,1483.1 L398.3,1482.9 L401.3,1482.6 L404.3,1482.4 L407.3,1482.2 L410.3,1482.0 L413.3,1481.8 L416.3,1481.6 L419.3,1481.4 L422.3,1481.2 L425.3,1481.1 L428.3,1480.9 L431.4,1480.7 L434.4,1480.6 L437.4,1480.4 L440.4,1480.3 L443.4,1480.2 L446.4,1480.0 L449.4,1479.9 L452.4,1479.8 L455.4,1479.7 L458.4,1479.6 L461.4,1479.5 L464.4,1479.4 L467.4,1479.3 L470.4,1479.2 L473.4,1479.1 L476.4,1479.1 L479.4,1479.0 L482.4,1479.0 L485.5,1478.9 L488.5,1478.9 L491.5,1478.8 L494.5,1478.8 L497.5,1478.8 L500.5,1478.7 L503.5,1478.7 L506.5,1478.7 L509.5,1478.7 L512.5,1478.7 L515.5,1478.7 L518.5,1478.7 L521.5,1478.7 L524.5,1478.7 L527.5,1478.7 L530.5,1478.8 L533.5,1478.8 L536.5,1478.8 L539.5,1478.8 L542.5,1478.9 L545.5,1478.9 L548.5,1478.9 L551.5,1479.0 L554.5,1479.0 L557.5,1479.0 L560.5,1479.1 L563.5,1479.1 L566.5,1479.1 L569.5,1479.2 L572.5,1479.2 L575.5,1479.3 L578.5,1479.3 L581.5,1479.3 L584.5,1479.4 L587.5,1479.4 L590.5,1479.4 L593.5,1479.4 L596.5,1479.5 L599.5,1479.5 L602.5,1479.5 L605.5,1479.5 L608.5,1479.5 L611.5,1479.5 L614.5,1479.5 L617.5,1479.5 L620.5,1479.5 L623.5,1479.5 L626.5,1479.5 L629.5,1479.5 L632.5,1479.4 L635.5,1479.4 L638.5,1479.4 L641.5,1479.3 L644.5,1479.3 L647.5,1479.2 L650.5,1479.2 L653.4,1479.1 L656.4,1479.1 L659.4,1479.0 L662.4,1479.0 L665.4,1478.9 L668.4,1478.9 L671.4,1478.8 L674.4,1478.7 L677.4,1478.7 L680.4,1478.6 L683.4,1478.5 L686.4,1478.5 L689.4,1478.4 L692.4,1478.3 L695.4,1478.2 L698.4,1478.2 L701.4,1478.1 L704.4,1478.0 L707.4,1478.0 L710.4,1477.9 L713.4,1477.9 L716.4,1477.8 L719.4,1477.7 L722.4,1477.7 L725.5,1477.6 L728.5,1477.6 L731.5,1477.5 L734.5,1477.5 L737.5,1477.5 L740.5,1477.4 L743.5,1477.4 L746.5,1477.4 L749.5,1477.3 L752.5,1477.3 L755.5,1477.3 L758.5,1477.3 L761.5,1477.3 L764.5,1477.3 L767.5,1477.3 L770.5,1477.3 L773.5,1477.3 L776.5,1477.3 L779.5,1477.3 L782.5,1477.4 L785.5,1477.4 L788.5,1477.4 L791.5,1477.5 L794.5,1477.5 L797.5,1477.5 L800.5,1477.6 L803.5,1477.6 L806.5,1477.7 L809.6,1477.7 L812.6,1477.8 L815.6,1477.8 L818.6,1477.9 L821.6,1478.0 L824.6,1478.0 L827.6,1478.1 L830.6,1478.2 L833.6,1478.2 L836.6,1478.3 L839.6,1478.4 L842.6,1478.5 L845.6,1478.6 L848.6,1478.7 L851.6,1478.8 L854.6,1478.8 L857.6,1478.9 L860.6,1479.0 L863.6,1479.1 L866.6,1479.2 L869.6,1479.3 L872.6,1479.4 L875.6,1479.5 L878.6,1479.7 L881.6,1479.8 L884.6,1479.9 L887.6,1480.0 L890.6,1480.1 L893.6,1480.2 L896.6,1480.3 L899.6,1480.5 L902.6,1480.6 L905.6,1480.7 L908.6,1480.8 L911.6,1480.9 L914.6,1481.1 L917.6,1481.2 L920.6,1481.3 L923.6,1481.4 L926.6,1481.6 L929.6,1481.7 L932.6,1481.8 L935.6,1481.9 L938.6,1482.1 L941.6,1482.2 L944.6,1482.3 L947.6,1482.5 L950.6,1482.6 L953.6,1482.7 L956.6,1482.9 L959.6,1483.0 L962.6,1483.1 L965.6,1483.3 L968.6,1483.4 L971.6,1483.5 L974.6,1483.7 L977.6,1483.8 L980.6,1483.9 L983.6,1484.0 L986.6,1484.2 L989.6,1484.3 L992.6,1484.4 L995.6,1484.6 L998.6,1484.7 L1001.6,1484.8 L1004.6,1485.0 L1007.6,1485.1 L1010.6,1485.2 L1013.6,1485.3 L1016.6,1485.5 L1019.6,1485.6 L1022.6,1485.7 L1025.6,1485.8 L1028.6,1486.0 L1031.6,1486.1 L1034.6,1486.2 L1037.6,1486.3 L1040.6,1486.5 L1043.6,1486.6 L1046.6,1486.7 L1049.6,1486.8 L1052.6,1487.0 L1055.6,1487.1 L1058.6,1487.2 L1061.6,1487.3 L1064.6,1487.4 L1067.6,1487.6 L1070.6,1487.7 L1073.6,1487.8 L1076.6,1487.9 L1079.6,1488.0 L1082.6,1488.1 L1085.6,1488.3 L1088.6,1488.4 L1091.6,1488.5 L1094.6,1488.6 L1097.6,1488.7 L1100.6,1488.8 L1103.6,1489.0 L1106.6,1489.1 L1109.6,1489.2 L1112.6,1489.3 L1115.6,1489.4 L1118.6,1489.5 L1121.6,1489.6 L1124.6,1489.7 L1127.6,1489.8 L1130.6,1489.9 L1133.6,1490.1 L1136.6,1490.2 L1139.6,1490.3 L1142.6,1490.4 L1145.6,1490.5 L1148.6,1490.6 L1151.6,1490.7 L1154.6,1490.8 L1157.6,1490.9 L1160.6,1491.0 L1163.6,1491.1 L1166.6,1491.2 L1169.6,1491.3 L1172.6,1491.4 L1175.6,1491.5 L1178.6,1491.6 L1181.6,1491.7 L1184.6,1491.8 L1187.6,1491.9 L1190.6,1492.0 L1193.6,1492.1 L1196.6,1492.1 L1199.6,1492.2 L1202.6,1492.3 L1205.6,1492.4 L1208.6,1492.5 L1211.6,1492.6 L1214.6,1492.7 L1217.6,1492.8 L1220.6,1492.9 L1223.6,1492.9 L1226.6,1493.0 L1229.6,1493.1 L1232.6,1493.2 L1235.6,1493.3 L1238.6,1493.4 L1241.6,1493.4 L1244.6,1493.5 L1247.6,1493.6 L1250.6,1493.7 L1253.6,1493.8 L1256.6,1493.9 L1259.6,1493.9 L1262.6,1494.0 L1265.6,1494.1 L1268.6,1494.2 L1271.6,1494.2 L1274.6,1494.3 L1277.6,1494.4 L1280.6,1494.5 L1283.6,1494.5 L1286.6,1494.6 L1289.6,1494.7 L1292.6,1494.8 L1295.6,1494.8 L1298.6,1494.9 L1301.6,1495.0 L1304.6,1495.0 L1307.6,1495.1 L1310.6,1495.2 L1313.6,1495.2 L1316.6,1495.3 L1319.6,1495.4 L1322.6,1495.5 L1325.6,1495.5 L1328.6,1495.6 L1331.6,1495.7 L1334.6,1495.7 L1337.6,1495.8 L1340.6,1495.8 L1343.6,1495.9 L1346.6,1496.0 L1349.6,1496.0 L1352.6,1496.1 L1355.6,1496.2 L1358.6,1496.2 L1361.6,1496.3 L1364.6,1496.3 L1367.6,1496.4 L1370.6,1496.5 L1373.6,1496.5 L1376.6,1496.6 L1379.6,1496.7 L1382.6,1496.7 L1385.6,1496.8 L1388.6,1496.8 L1391.6,1496.9 L1394.6,1496.9 L1397.6,1497.0 L1400.6,1497.1 L1403.6,1497.1 L1406.6,1497.2 L1409.6,1497.2 L1412.6,1497.3 L1415.6,1497.3 L1418.6,1497.4 L1421.6,1497.4 L1424.6,1497.5 L1427.6,1497.6 L1430.6,1497.6 L1433.6,1497.7 L1436.6,1497.7 L1439.6,1497.8 L1442.5,1497.8 L1445.5,1497.9 L1448.5,1497.9 L1451.5,1498.0 L1454.5,1498.0 L1457.5,1498.1 L1460.5,1498.1 L1463.5,1498.2 L1466.5,1498.2 L1469.5,1498.3 L1472.5,1498.3 L1475.5,1498.4 L1478.5,1498.4 L1481.5,1498.5 L1484.5,1498.5 L1487.5,1498.6 L1490.5,1498.6 L1493.5,1498.7 L1496.5,1498.7 L1499.5,1498.8 L1502.5,1498.8 L1505.5,1498.9 L1508.5,1498.9 L1511.5,1499.0 L1514.5,1499.0 L1517.5,1499.1 L1520.5,1499.1 L1523.5,1499.2 L1526.5,1499.2 L1529.5,1499.3 L1532.5,1499.3 L1535.5,1499.4 L1538.5,1499.4 L1541.5,1499.4 L1544.5,1499.5 L1547.5,1499.5 L1550.5,1499.6 L1553.5,1499.6 L1556.5,1499.7 L1559.5,1499.7 L1562.5,1499.8 L1565.5,1499.8 L1568.5,1499.9 L1571.5,1499.9 L1574.5,1500.0 L1577.5,1500.0 L1580.5,1500.1 L1583.5,1500.1 L1586.5,1500.2 L1589.5,1500.2 L1592.5,1500.2 L1595.5,1500.3 L1598.5,1500.3 L1601.5,1500.4 L1604.5,1500.4 L1607.5,1500.5 L1610.5,1500.5 L1613.5,1500.6 L1616.5,1500.6 L1619.5,1500.7 L1622.5,1500.7 L1625.5,1500.8 L1628.5,1500.8 L1631.5,1500.9 L1634.5,1500.9 L1637.5,1501.0 L1640.5,1501.0 L1643.5,1501.0 L1646.5,1501.1 L1649.5,1501.1 L1652.5,1501.2 L1655.5,1501.2 L1658.5,1501.3 L1661.5,1501.3 L1664.5,1501.4 L1667.5,1501.4 L1670.5,1501.5 L1673.5,1501.5 L1676.5,1501.6 L1679.5,1501.6 L1682.5,1501.7 L1685.5,1501.7 L1688.5,1501.8 L1691.5,1501.8 L1694.5,1501.8 L1697.5,1501.9 L1700.5,1501.9 L1703.5,1502.0 L1706.5,1502.0 L1709.5,1502.1 L1712.5,1502.1 L1715.5,1502.2 L1718.5,1502.2 L1721.5,1502.2 L1724.5,1502.3 L1727.5,1502.3 L1730.5,1502.4 L1733.5,1502.4 L1736.5,1502.4 L1739.5,1502.5 L1742.5,1502.5 L1745.5,1502.6 L1748.5,1502.6 L1751.5,1502.6 L1754.5,1502.7 L1757.5,1502.7 L1760.5,1502.7 L1763.5,1502.8 L1766.5,1502.8 L1769.5,1502.8 L1772.5,1502.9 L1775.5,1502.9 L1778.5,1502.9 L1781.5,1503.0 L1784.5,1503.0 L1787.5,1503.0 L1790.5,1503.0 L1793.5,1503.1 L1796.5,1503.1 L1799.5,1503.1 L1802.5,1503.1 L1805.5,1503.2 L1808.5,1503.2 L1811.5,1503.2 L1814.5,1503.2 L1817.5,1503.2 L1820.5,1503.3 L1823.5,1503.3 L1826.5,1503.3 L1829.5,1503.3 L1832.5,1503.3 L1835.5,1503.3 L1838.5,1503.3 L1841.5,1503.3 L1844.5,1503.3 L1847.5,1503.4 L1850.5,1503.4 L1853.5,1503.4 L1856.5,1503.4 L1859.5,1503.4 L1862.5,1503.4 L1865.5,1503.4 L1868.5,1503.4 L1871.5,1503.4 L1874.5,1503.3 L1877.5,1503.3 L1880.5,1503.3 L1883.5,1503.3 L1886.5,1503.3 L1889.5,1503.3 L1892.5,1503.3 L1895.5,1503.3 L1898.5,1503.2 L1901.5,1503.2 L1904.5,1503.2 L1907.5,1503.2 L1910.5,1503.2 L1913.5,1503.1 L1916.5,1503.1 L1919.5,1503.1 L1922.5,1503.0 L1925.5,1503.0 L1928.5,1503.0 L1931.5,1502.9 L1934.5,1502.9 L1937.5,1502.9 L1940.5,1502.8 L1943.5,1502.8 L1946.5,1502.7 L1949.5,1502.7 L1952.5,1502.6 L1955.5,1502.6 L1958.4,1502.5 L1961.4,1502.5 L1964.4,1502.4 L1967.4,1502.4 L1970.4,1502.3 L1973.4,1502.2 L1976.4,1502.2 L1979.4,1502.1 L1982.4,1502.0 L1985.4,1502.0 L1988.4,1501.9 L1991.4,1501.8 L1994.4,1501.7 L1997.4,1501.6 L2000.4,1501.6 L2003.4,1501.5 L2006.4,1501.4 L2009.4,1501.3 L2012.4,1501.2 L2015.4,1501.1 L2018.4,1501.0 L2021.4,1500.9 L2024.4,1500.8 L2027.4,1500.7 L2030.4,1500.6 L2033.4,1500.5 L2036.4,1500.4 L2039.4,1500.3 L2042.4,1500.2 L2045.4,1500.1 L2048.4,1499.9 L2051.4,1499.8 L2054.4,1499.7 L2057.4,1499.6 L2060.4,1499.4 L2063.4,1499.3 L2066.4,1499.2 L2069.4,1499.0 L2072.4,1498.9 L2075.4,1498.7 L2078.4,1498.6 L2081.4,1498.4 L2081.6,1504.1 L2078.6,1504.3 L2075.6,1504.4 L2072.6,1504.6 L2069.6,1504.7 L2066.6,1504.8 L2063.6,1505.0 L2060.6,1505.1 L2057.6,1505.2 L2054.6,1505.4 L2051.6,1505.5 L2048.6,1505.6 L2045.6,1505.7 L2042.6,1505.9 L2039.6,1506.0 L2036.6,1506.1 L2033.6,1506.2 L2030.6,1506.3 L2027.6,1506.4 L2024.6,1506.5 L2021.6,1506.6 L2018.6,1506.7 L2015.6,1506.8 L2012.6,1506.9 L2009.6,1507.0 L2006.6,1507.1 L2003.6,1507.2 L2000.6,1507.3 L1997.6,1507.3 L1994.6,1507.4 L1991.6,1507.5 L1988.6,1507.6 L1985.6,1507.7 L1982.6,1507.7 L1979.6,1507.8 L1976.6,1507.9 L1973.6,1507.9 L1970.6,1508.0 L1967.6,1508.1 L1964.6,1508.1 L1961.6,1508.2 L1958.6,1508.2 L1955.5,1508.3 L1952.5,1508.3 L1949.5,1508.4 L1946.5,1508.4 L1943.5,1508.5 L1940.5,1508.5 L1937.5,1508.6 L1934.5,1508.6 L1931.5,1508.6 L1928.5,1508.7 L1925.5,1508.7 L1922.5,1508.7 L1919.5,1508.8 L1916.5,1508.8 L1913.5,1508.8 L1910.5,1508.9 L1907.5,1508.9 L1904.5,1508.9 L1901.5,1508.9 L1898.5,1508.9 L1895.5,1509.0 L1892.5,1509.0 L1889.5,1509.0 L1886.5,1509.0 L1883.5,1509.0 L1880.5,1509.0 L1877.5,1509.0 L1874.5,1509.0 L1871.5,1509.1 L1868.5,1509.1 L1865.5,1509.1 L1862.5,1509.1 L1859.5,1509.1 L1856.5,1509.1 L1853.5,1509.1 L1850.5,1509.1 L1847.5,1509.1 L1844.5,1509.0 L1841.5,1509.0 L1838.5,1509.0 L1835.5,1509.0 L1832.5,1509.0 L1829.5,1509.0 L1826.5,1509.0 L1823.5,1509.0 L1820.5,1509.0 L1817.5,1508.9 L1814.5,1508.9 L1811.5,1508.9 L1808.5,1508.9 L1805.5,1508.9 L1802.5,1508.8 L1799.5,1508.8 L1796.5,1508.8 L1793.5,1508.8 L1790.5,1508.7 L1787.5,1508.7 L1784.5,1508.7 L1781.5,1508.7 L1778.5,1508.6 L1775.5,1508.6 L1772.5,1508.6 L1769.5,1508.5 L1766.5,1508.5 L1763.5,1508.5 L1760.5,1508.4 L1757.5,1508.4 L1754.5,1508.4 L1751.5,1508.3 L1748.5,1508.3 L1745.5,1508.3 L1742.5,1508.2 L1739.5,1508.2 L1736.5,1508.1 L1733.5,1508.1 L1730.5,1508.1 L1727.5,1508.0 L1724.5,1508.0 L1721.5,1507.9 L1718.5,1507.9 L1715.5,1507.9 L1712.5,1507.8 L1709.5,1507.8 L1706.5,1507.7 L1703.5,1507.7 L1700.5,1507.6 L1697.5,1507.6 L1694.5,1507.5 L1691.5,1507.5 L1688.5,1507.5 L1685.5,1507.4 L1682.5,1507.4 L1679.5,1507.3 L1676.5,1507.3 L1673.5,1507.2 L1670.5,1507.2 L1667.5,1507.1 L1664.5,1507.1 L1661.5,1507.0 L1658.5,1507.0 L1655.5,1506.9 L1652.5,1506.9 L1649.5,1506.8 L1646.5,1506.8 L1643.5,1506.7 L1640.5,1506.7 L1637.5,1506.7 L1634.5,1506.6 L1631.5,1506.6 L1628.5,1506.5 L1625.5,1506.5 L1622.5,1506.4 L1619.5,1506.4 L1616.5,1506.3 L1613.5,1506.3 L1610.5,1506.2 L1607.5,1506.2 L1604.5,1506.1 L1601.5,1506.1 L1598.5,1506.0 L1595.5,1506.0 L1592.5,1505.9 L1589.5,1505.9 L1586.5,1505.9 L1583.5,1505.8 L1580.5,1505.8 L1577.5,1505.7 L1574.5,1505.7 L1571.5,1505.6 L1568.5,1505.6 L1565.5,1505.5 L1562.5,1505.5 L1559.5,1505.4 L1556.5,1505.4 L1553.5,1505.3 L1550.5,1505.3 L1547.5,1505.2 L1544.5,1505.2 L1541.5,1505.1 L1538.5,1505.1 L1535.5,1505.1 L1532.5,1505.0 L1529.5,1505.0 L1526.5,1504.9 L1523.5,1504.9 L1520.5,1504.8 L1517.5,1504.8 L1514.5,1504.7 L1511.5,1504.7 L1508.5,1504.6 L1505.5,1504.6 L1502.5,1504.5 L1499.5,1504.5 L1496.5,1504.4 L1493.5,1504.4 L1490.5,1504.3 L1487.5,1504.3 L1484.5,1504.2 L1481.5,1504.2 L1478.5,1504.1 L1475.5,1504.1 L1472.5,1504.0 L1469.5,1504.0 L1466.5,1503.9 L1463.5,1503.9 L1460.5,1503.8 L1457.5,1503.8 L1454.5,1503.7 L1451.5,1503.7 L1448.5,1503.6 L1445.5,1503.6 L1442.5,1503.5 L1439.4,1503.5 L1436.4,1503.4 L1433.4,1503.4 L1430.4,1503.3 L1427.4,1503.3 L1424.4,1503.2 L1421.4,1503.1 L1418.4,1503.1 L1415.4,1503.0 L1412.4,1503.0 L1409.4,1502.9 L1406.4,1502.9 L1403.4,1502.8 L1400.4,1502.8 L1397.4,1502.7 L1394.4,1502.6 L1391.4,1502.6 L1388.4,1502.5 L1385.4,1502.5 L1382.4,1502.4 L1379.4,1502.3 L1376.4,1502.3 L1373.4,1502.2 L1370.4,1502.2 L1367.4,1502.1 L1364.4,1502.0 L1361.4,1502.0 L1358.4,1501.9 L1355.4,1501.9 L1352.4,1501.8 L1349.4,1501.7 L1346.4,1501.7 L1343.4,1501.6 L1340.4,1501.5 L1337.4,1501.5 L1334.4,1501.4 L1331.4,1501.4 L1328.4,1501.3 L1325.4,1501.2 L1322.4,1501.2 L1319.4,1501.1 L1316.4,1501.0 L1313.4,1500.9 L1310.4,1500.9 L1307.4,1500.8 L1304.4,1500.7 L1301.4,1500.7 L1298.4,1500.6 L1295.4,1500.5 L1292.4,1500.5 L1289.4,1500.4 L1286.4,1500.3 L1283.4,1500.2 L1280.4,1500.2 L1277.4,1500.1 L1274.4,1500.0 L1271.4,1499.9 L1268.4,1499.9 L1265.4,1499.8 L1262.4,1499.7 L1259.4,1499.6 L1256.4,1499.5 L1253.4,1499.5 L1250.4,1499.4 L1247.4,1499.3 L1244.4,1499.2 L1241.4,1499.1 L1238.4,1499.1 L1235.4,1499.0 L1232.4,1498.9 L1229.4,1498.8 L1226.4,1498.7 L1223.4,1498.6 L1220.4,1498.6 L1217.4,1498.5 L1214.4,1498.4 L1211.4,1498.3 L1208.4,1498.2 L1205.4,1498.1 L1202.4,1498.0 L1199.4,1497.9 L1196.4,1497.8 L1193.4,1497.7 L1190.4,1497.7 L1187.4,1497.6 L1184.4,1497.5 L1181.4,1497.4 L1178.4,1497.3 L1175.4,1497.2 L1172.4,1497.1 L1169.4,1497.0 L1166.4,1496.9 L1163.4,1496.8 L1160.4,1496.7 L1157.4,1496.6 L1154.4,1496.5 L1151.4,1496.4 L1148.4,1496.3 L1145.4,1496.2 L1142.4,1496.1 L1139.4,1496.0 L1136.4,1495.9 L1133.4,1495.8 L1130.4,1495.6 L1127.4,1495.5 L1124.4,1495.4 L1121.4,1495.3 L1118.4,1495.2 L1115.4,1495.1 L1112.4,1495.0 L1109.4,1494.9 L1106.4,1494.8 L1103.4,1494.6 L1100.4,1494.5 L1097.4,1494.4 L1094.4,1494.3 L1091.4,1494.2 L1088.4,1494.1 L1085.4,1494.0 L1082.4,1493.8 L1079.4,1493.7 L1076.4,1493.6 L1073.4,1493.5 L1070.4,1493.4 L1067.4,1493.3 L1064.4,1493.1 L1061.4,1493.0 L1058.4,1492.9 L1055.4,1492.8 L1052.4,1492.6 L1049.4,1492.5 L1046.4,1492.4 L1043.4,1492.3 L1040.4,1492.2 L1037.4,1492.0 L1034.4,1491.9 L1031.4,1491.8 L1028.4,1491.7 L1025.4,1491.5 L1022.4,1491.4 L1019.4,1491.3 L1016.4,1491.2 L1013.4,1491.0 L1010.4,1490.9 L1007.4,1490.8 L1004.4,1490.6 L1001.4,1490.5 L998.4,1490.4 L995.4,1490.3 L992.4,1490.1 L989.4,1490.0 L986.4,1489.9 L983.4,1489.7 L980.4,1489.6 L977.4,1489.5 L974.4,1489.3 L971.4,1489.2 L968.4,1489.1 L965.4,1489.0 L962.4,1488.8 L959.4,1488.7 L956.4,1488.6 L953.4,1488.4 L950.4,1488.3 L947.4,1488.2 L944.4,1488.0 L941.4,1487.9 L938.4,1487.8 L935.4,1487.6 L932.4,1487.5 L929.4,1487.4 L926.4,1487.3 L923.4,1487.1 L920.4,1487.0 L917.4,1486.9 L914.4,1486.8 L911.4,1486.6 L908.4,1486.5 L905.4,1486.4 L902.4,1486.3 L899.4,1486.1 L896.4,1486.0 L893.4,1485.9 L890.4,1485.8 L887.4,1485.7 L884.4,1485.6 L881.4,1485.5 L878.4,1485.3 L875.4,1485.2 L872.4,1485.1 L869.4,1485.0 L866.4,1484.9 L863.4,1484.8 L860.4,1484.7 L857.4,1484.6 L854.4,1484.5 L851.4,1484.4 L848.4,1484.4 L845.4,1484.3 L842.4,1484.2 L839.4,1484.1 L836.4,1484.0 L833.4,1483.9 L830.4,1483.9 L827.4,1483.8 L824.4,1483.7 L821.4,1483.7 L818.4,1483.6 L815.4,1483.5 L812.4,1483.5 L809.4,1483.4 L806.5,1483.4 L803.5,1483.3 L800.5,1483.3 L797.5,1483.2 L794.5,1483.2 L791.5,1483.2 L788.5,1483.1 L785.5,1483.1 L782.5,1483.1 L779.5,1483.0 L776.5,1483.0 L773.5,1483.0 L770.5,1483.0 L767.5,1483.0 L764.5,1483.0 L761.5,1483.0 L758.5,1483.0 L755.5,1483.0 L752.5,1483.0 L749.5,1483.0 L746.5,1483.1 L743.5,1483.1 L740.5,1483.1 L737.5,1483.2 L734.5,1483.2 L731.5,1483.2 L728.5,1483.3 L725.5,1483.3 L722.6,1483.4 L719.6,1483.4 L716.6,1483.5 L713.6,1483.6 L710.6,1483.6 L707.6,1483.7 L704.6,1483.7 L701.6,1483.8 L698.6,1483.9 L695.6,1483.9 L692.6,1484.0 L689.6,1484.1 L686.6,1484.1 L683.6,1484.2 L680.6,1484.3 L677.6,1484.4 L674.6,1484.4 L671.6,1484.5 L668.6,1484.5 L665.6,1484.6 L662.6,1484.7 L659.6,1484.7 L656.6,1484.8 L653.6,1484.8 L650.5,1484.9 L647.5,1484.9 L644.5,1485.0 L641.5,1485.0 L638.5,1485.1 L635.5,1485.1 L632.5,1485.1 L629.5,1485.2 L626.5,1485.2 L623.5,1485.2 L620.5,1485.2 L617.5,1485.2 L614.5,1485.2 L611.5,1485.2 L608.5,1485.2 L605.5,1485.2 L602.5,1485.2 L599.5,1485.2 L596.5,1485.2 L593.5,1485.1 L590.5,1485.1 L587.5,1485.1 L584.5,1485.1 L581.5,1485.0 L578.5,1485.0 L575.5,1485.0 L572.5,1484.9 L569.5,1484.9 L566.5,1484.8 L563.5,1484.8 L560.5,1484.8 L557.5,1484.7 L554.5,1484.7 L551.5,1484.7 L548.5,1484.6 L545.5,1484.6 L542.5,1484.6 L539.5,1484.5 L536.5,1484.5 L533.5,1484.5 L530.5,1484.5 L527.5,1484.4 L524.5,1484.4 L521.5,1484.4 L518.5,1484.4 L515.5,1484.4 L512.5,1484.4 L509.5,1484.4 L506.5,1484.4 L503.5,1484.4 L500.5,1484.4 L497.5,1484.5 L494.5,1484.5 L491.5,1484.5 L488.5,1484.6 L485.5,1484.6 L482.6,1484.7 L479.6,1484.7 L476.6,1484.8 L473.6,1484.8 L470.6,1484.9 L467.6,1485.0 L464.6,1485.1 L461.6,1485.2 L458.6,1485.3 L455.6,1485.4 L452.6,1485.5 L449.6,1485.6 L446.6,1485.7 L443.6,1485.9 L440.6,1486.0 L437.6,1486.1 L434.6,1486.3 L431.6,1486.4 L428.7,1486.6 L425.7,1486.8 L422.7,1486.9 L419.7,1487.1 L416.7,1487.3 L413.7,1487.5 L410.7,1487.7 L407.7,1487.9 L404.7,1488.1 L401.7,1488.3 L398.7,1488.6 L395.7,1488.8 L392.7,1489.0 L389.7,1489.3 L386.7,1489.5 L383.7,1489.8 L380.8,1490.1 L377.8,1490.3 L374.8,1490.6 L371.8,1490.9 L368.8,1491.2 L365.8,1491.5 L362.8,1491.8 L359.8,1492.1 L356.8,1492.4 L353.8,1492.8 L350.8,1493.1 L347.8,1493.5 L344.8,1493.8 L341.8,1494.2 L338.9,1494.5 L335.9,1494.9 L332.9,1495.3 L329.9,1495.7 L326.9,1496.1 L323.9,1496.5 L320.9,1496.9 L317.9,1497.3 L314.9,1497.8 L311.9,1498.2 L308.9,1498.6 L305.9,1499.1 L302.9,1499.6 L299.9,1500.0 L297.0,1500.5 L294.0,1501.0 L291.0,1501.5 L288.0,1502.0 L285.0,1502.5 L282.0,1503.0 L279.0,1503.5 L275.9,1504.1 L272.9,1504.5 L269.9,1504.9 L266.9,1505.3 L263.9,1505.6 L260.9,1506.0 L257.9,1506.4 L254.9,1506.8 L251.9,1507.2 L248.9,1507.6 L245.9,1508.0Z" fill="#00FF15"/>
<path d="M245.1,1490.9 L248.1,1490.4 L251.1,1489.9 L254.1,1489.4 L257.1,1489.0 L260.1,1488.5 L263.1,1488.0 L266.1,1487.5 L269.1,1487.1 L272.0,1486.6 L274.7,1486.1 L277.5,1485.0 L280.5,1483.9 L283.5,1482.8 L286.5,1481.7 L289.6,1480.7 L292.6,1479.6 L295.6,1478.6 L298.6,1477.6 L301.6,1476.6 L304.6,1475.6 L307.6,1474.7 L310.7,1473.7 L313.7,1472.8 L316.7,1471.9 L319.7,1471.0 L322.7,1470.2 L325.7,1469.3 L328.8,1468.5 L331.8,1467.7 L334.8,1466.9 L337.8,1466.1 L340.8,1465.3 L343.8,1464.6 L346.8,1463.9 L349.9,1463.1 L352.9,1462.4 L355.9,1461.8 L358.9,1461.1 L361.9,1460.4 L364.9,1459.8 L367.9,1459.2 L370.9,1458.6 L374.0,1458.0 L377.0,1457.4 L380.0,1456.9 L383.0,1456.3 L386.0,1455.8 L389.0,1455.3 L392.0,1454.8 L395.1,1454.3 L398.1,1453.8 L401.1,1453.4 L404.1,1452.9 L407.1,1452.5 L410.1,1452.1 L413.1,1451.6 L416.1,1451.3 L419.1,1450.9 L422.2,1450.5 L425.2,1450.1 L428.2,1449.8 L431.2,1449.5 L434.2,1449.2 L437.2,1448.8 L440.2,1448.5 L443.2,1448.3 L446.2,1448.0 L449.3,1447.7 L452.3,1447.5 L455.3,1447.2 L458.3,1447.0 L461.3,1446.8 L464.3,1446.6 L467.3,1446.4 L470.3,1446.2 L473.3,1446.0 L476.3,1445.9 L479.4,1445.7 L482.4,1445.6 L485.4,1445.4 L488.4,1445.3 L491.4,1445.2 L494.4,1445.1 L497.4,1445.0 L500.4,1444.9 L503.4,1444.8 L506.4,1444.7 L509.4,1444.6 L512.4,1444.6 L515.5,1444.5 L518.5,1444.5 L521.5,1444.4 L524.5,1444.4 L527.5,1444.4 L530.5,1444.4 L533.5,1444.3 L536.5,1444.3 L539.5,1444.3 L542.5,1444.3 L545.5,1444.3 L548.5,1444.3 L551.5,1444.3 L554.5,1444.4 L557.5,1444.4 L560.5,1444.4 L563.5,1444.4 L566.5,1444.4 L569.5,1444.5 L572.5,1444.5 L575.5,1444.5 L578.5,1444.6 L581.5,1444.6 L584.5,1444.6 L587.5,1444.6 L590.5,1444.7 L593.5,1444.7 L596.5,1444.7 L599.5,1444.8 L602.5,1444.8 L605.5,1444.8 L608.5,1444.8 L611.5,1444.9 L614.5,1444.9 L617.5,1444.9 L620.5,1444.9 L623.5,1444.9 L626.5,1444.9 L629.5,1444.9 L632.5,1444.9 L635.5,1444.9 L638.5,1444.9 L641.5,1444.9 L644.5,1444.9 L647.5,1444.9 L650.5,1444.8 L653.5,1444.8 L656.5,1444.8 L659.5,1444.8 L662.5,1444.7 L665.5,1444.7 L668.5,1444.6 L671.5,1444.6 L674.5,1444.6 L677.5,1444.5 L680.5,1444.5 L683.5,1444.4 L686.5,1444.4 L689.5,1444.3 L692.5,1444.3 L695.5,1444.2 L698.5,1444.2 L701.5,1444.1 L704.5,1444.1 L707.4,1444.0 L710.4,1444.0 L713.4,1443.9 L716.4,1443.9 L719.4,1443.8 L722.4,1443.8 L725.4,1443.7 L728.4,1443.7 L731.4,1443.6 L734.5,1443.6 L737.5,1443.5 L740.5,1443.5 L743.5,1443.4 L746.5,1443.4 L749.5,1443.3 L752.5,1443.3 L755.5,1443.2 L758.5,1443.2 L761.5,1443.1 L764.5,1443.1 L767.5,1443.1 L770.5,1443.0 L773.5,1443.0 L776.5,1443.0 L779.5,1442.9 L782.5,1442.9 L785.5,1442.9 L788.5,1442.9 L791.5,1442.9 L794.5,1442.9 L797.5,1442.9 L800.5,1442.9 L803.5,1442.9 L806.5,1442.9 L809.5,1442.9 L812.5,1442.9 L815.5,1442.9 L818.5,1443.0 L821.5,1443.0 L824.5,1443.1 L827.6,1443.1 L830.6,1443.2 L833.6,1443.2 L836.6,1443.3 L839.6,1443.4 L842.6,1443.5 L845.6,1443.6 L848.6,1443.7 L851.6,1443.8 L854.6,1443.9 L857.6,1444.0 L860.6,1444.2 L863.6,1444.3 L866.6,1444.5 L869.7,1444.6 L872.7,1444.8 L875.7,1445.0 L878.7,1445.1 L881.7,1445.3 L884.7,1445.5 L887.7,1445.7 L890.7,1445.9 L893.7,1446.1 L896.7,1446.4 L899.7,1446.6 L902.7,1446.8 L905.7,1447.0 L908.7,1447.3 L911.7,1447.5 L914.7,1447.8 L917.7,1448.0 L920.8,1448.3 L923.8,1448.6 L926.8,1448.9 L929.8,1449.1 L932.8,1449.4 L935.8,1449.7 L938.8,1450.0 L941.8,1450.3 L944.8,1450.6 L947.8,1450.9 L950.8,1451.2 L953.8,1451.5 L956.8,1451.8 L959.8,1452.1 L962.8,1452.4 L965.8,1452.8 L968.8,1453.1 L971.8,1453.4 L974.8,1453.7 L977.8,1454.1 L980.8,1454.4 L983.8,1454.7 L986.8,1455.1 L989.8,1455.4 L992.8,1455.8 L995.8,1456.1 L998.8,1456.4 L1001.8,1456.8 L1004.8,1457.1 L1007.8,1457.5 L1010.8,1457.8 L1013.8,1458.2 L1016.8,1458.5 L1019.8,1458.8 L1022.8,1459.2 L1025.8,1459.5 L1028.8,1459.9 L1031.8,1460.2 L1034.8,1460.5 L1037.8,1460.9 L1040.8,1461.2 L1043.8,1461.5 L1046.8,1461.9 L1049.8,1462.2 L1052.8,1462.5 L1055.8,1462.8 L1058.8,1463.2 L1061.8,1463.5 L1064.8,1463.8 L1067.8,1464.1 L1070.8,1464.4 L1073.8,1464.7 L1076.8,1465.0 L1079.8,1465.3 L1082.8,1465.6 L1085.8,1465.9 L1088.8,1466.2 L1091.8,1466.4 L1094.8,1466.7 L1097.8,1467.0 L1100.7,1467.2 L1103.7,1467.5 L1106.7,1467.8 L1109.7,1468.0 L1112.7,1468.3 L1115.7,1468.5 L1118.7,1468.7 L1121.7,1469.0 L1124.7,1469.2 L1127.7,1469.4 L1130.7,1469.6 L1133.7,1469.9 L1136.7,1470.1 L1139.7,1470.3 L1142.7,1470.5 L1145.7,1470.7 L1148.7,1470.9 L1151.7,1471.1 L1154.7,1471.3 L1157.7,1471.5 L1160.7,1471.6 L1163.7,1471.8 L1166.7,1472.0 L1169.7,1472.2 L1172.7,1472.3 L1175.7,1472.5 L1178.6,1472.6 L1181.6,1472.8 L1184.6,1472.9 L1187.6,1473.1 L1190.6,1473.2 L1193.6,1473.4 L1196.6,1473.5 L1199.6,1473.6 L1202.6,1473.8 L1205.6,1473.9 L1208.6,1474.0 L1211.6,1474.1 L1214.6,1474.3 L1217.6,1474.4 L1220.6,1474.5 L1223.6,1474.6 L1226.6,1474.7 L1229.6,1474.8 L1232.6,1474.9 L1235.6,1475.0 L1238.6,1475.1 L1241.6,1475.2 L1244.6,1475.3 L1247.6,1475.4 L1250.6,1475.5 L1253.6,1475.6 L1256.6,1475.6 L1259.6,1475.7 L1262.6,1475.8 L1265.6,1475.9 L1268.6,1476.0 L1271.6,1476.1 L1274.6,1476.1 L1277.6,1476.2 L1280.6,1476.3 L1283.6,1476.4 L1286.6,1476.4 L1289.6,1476.5 L1292.6,1476.6 L1295.6,1476.7 L1298.6,1476.7 L1301.6,1476.8 L1304.6,1476.9 L1307.6,1476.9 L1310.6,1477.0 L1313.6,1477.1 L1316.6,1477.1 L1319.6,1477.2 L1322.6,1477.3 L1325.6,1477.3 L1328.6,1477.4 L1331.6,1477.5 L1334.6,1477.6 L1337.6,1477.6 L1340.6,1477.7 L1343.6,1477.8 L1346.6,1477.8 L1349.6,1477.9 L1352.6,1478.0 L1355.6,1478.1 L1358.6,1478.1 L1361.6,1478.2 L1364.6,1478.3 L1367.6,1478.4 L1370.6,1478.5 L1373.6,1478.6 L1376.6,1478.6 L1379.6,1478.7 L1382.6,1478.8 L1385.6,1478.9 L1388.6,1479.0 L1391.6,1479.1 L1394.6,1479.2 L1397.6,1479.3 L1400.6,1479.4 L1403.6,1479.5 L1406.6,1479.6 L1409.6,1479.7 L1412.6,1479.8 L1415.6,1479.9 L1418.6,1480.0 L1421.6,1480.2 L1424.6,1480.3 L1427.6,1480.4 L1430.6,1480.5 L1433.6,1480.6 L1436.6,1480.8 L1439.6,1480.9 L1442.6,1481.0 L1445.6,1481.1 L1448.6,1481.3 L1451.6,1481.4 L1454.6,1481.5 L1457.6,1481.7 L1460.6,1481.8 L1463.6,1482.0 L1466.6,1482.1 L1469.6,1482.2 L1472.6,1482.4 L1475.6,1482.5 L1478.6,1482.7 L1481.6,1482.8 L1484.6,1483.0 L1487.6,1483.1 L1490.6,1483.3 L1493.6,1483.4 L1496.6,1483.6 L1499.6,1483.7 L1502.6,1483.9 L1505.6,1484.0 L1508.6,1484.2 L1511.6,1484.3 L1514.6,1484.5 L1517.6,1484.6 L1520.6,1484.8 L1523.6,1484.9 L1526.6,1485.1 L1529.6,1485.2 L1532.6,1485.4 L1535.6,1485.6 L1538.6,1485.7 L1541.6,1485.9 L1544.6,1486.0 L1547.6,1486.2 L1550.6,1486.3 L1553.6,1486.5 L1556.6,1486.6 L1559.6,1486.8 L1562.6,1486.9 L1565.6,1487.1 L1568.6,1487.2 L1571.6,1487.4 L1574.6,1487.5 L1577.6,1487.7 L1580.6,1487.8 L1583.6,1488.0 L1586.6,1488.1 L1589.6,1488.3 L1592.6,1488.4 L1595.6,1488.6 L1598.6,1488.7 L1601.6,1488.8 L1604.6,1489.0 L1607.6,1489.1 L1610.6,1489.3 L1613.6,1489.4 L1616.6,1489.5 L1619.6,1489.7 L1622.6,1489.8 L1625.6,1489.9 L1628.6,1490.1 L1631.6,1490.2 L1634.6,1490.3 L1637.6,1490.4 L1640.6,1490.6 L1643.6,1490.7 L1646.6,1490.8 L1649.6,1490.9 L1652.6,1491.0 L1655.6,1491.1 L1658.6,1491.2 L1661.6,1491.3 L1664.6,1491.5 L1667.6,1491.6 L1670.6,1491.7 L1673.6,1491.8 L1676.6,1491.9 L1679.6,1492.0 L1682.6,1492.0 L1685.6,1492.1 L1688.6,1492.2 L1691.6,1492.3 L1694.6,1492.4 L1697.6,1492.5 L1700.6,1492.6 L1703.6,1492.7 L1706.6,1492.7 L1709.6,1492.8 L1712.6,1492.9 L1715.6,1492.9 L1718.6,1493.0 L1721.6,1493.1 L1724.6,1493.1 L1727.6,1493.2 L1730.6,1493.3 L1733.6,1493.3 L1736.6,1493.4 L1739.5,1493.4 L1742.5,1493.5 L1745.5,1493.5 L1748.5,1493.6 L1751.5,1493.6 L1754.5,1493.7 L1757.5,1493.7 L1760.5,1493.7 L1763.5,1493.8 L1766.5,1493.8 L1769.5,1493.8 L1772.5,1493.9 L1775.5,1493.9 L1778.5,1493.9 L1781.5,1493.9 L1784.5,1493.9 L1787.5,1494.0 L1790.5,1494.0 L1793.5,1494.0 L1796.5,1494.0 L1799.5,1494.0 L1802.5,1494.0 L1805.5,1494.0 L1808.5,1494.0 L1811.5,1494.0 L1814.5,1494.0 L1817.5,1494.0 L1820.5,1493.9 L1823.5,1493.9 L1826.5,1493.9 L1829.5,1493.9 L1832.5,1493.9 L1835.5,1493.8 L1838.5,1493.8 L1841.5,1493.8 L1844.5,1493.7 L1847.5,1493.7 L1850.5,1493.6 L1853.5,1493.6 L1856.5,1493.6 L1859.4,1493.5 L1862.4,1493.4 L1865.4,1493.4 L1868.4,1493.3 L1871.4,1493.3 L1874.4,1493.2 L1877.4,1493.1 L1880.4,1493.1 L1883.4,1493.0 L1886.4,1492.9 L1889.4,1492.8 L1892.4,1492.8 L1895.4,1492.7 L1898.4,1492.6 L1901.4,1492.5 L1904.4,1492.4 L1907.4,1492.3 L1910.4,1492.3 L1913.4,1492.2 L1916.4,1492.1 L1919.4,1492.0 L1922.4,1491.9 L1925.4,1491.8 L1928.4,1491.7 L1931.4,1491.6 L1934.4,1491.5 L1937.4,1491.4 L1940.4,1491.3 L1943.4,1491.2 L1946.4,1491.1 L1949.4,1491.0 L1952.4,1490.9 L1955.4,1490.8 L1958.4,1490.7 L1961.4,1490.6 L1964.4,1490.5 L1967.4,1490.4 L1970.4,1490.3 L1973.4,1490.2 L1976.4,1490.1 L1979.4,1490.0 L1982.4,1490.0 L1985.4,1489.9 L1988.4,1489.8 L1991.4,1489.7 L1994.4,1489.6 L1997.4,1489.5 L2000.4,1489.4 L2003.4,1489.3 L2006.4,1489.3 L2009.4,1489.2 L2012.4,1489.1 L2015.4,1489.0 L2018.4,1488.9 L2021.4,1488.9 L2024.4,1488.8 L2027.4,1488.7 L2030.4,1488.7 L2033.4,1488.6 L2036.4,1488.6 L2039.4,1488.5 L2042.5,1488.4 L2045.5,1488.4 L2048.5,1488.3 L2051.5,1488.3 L2054.5,1488.3 L2057.5,1488.2 L2060.5,1488.2 L2063.5,1488.2 L2066.5,1488.1 L2069.5,1488.1 L2072.5,1488.1 L2075.5,1488.1 L2078.5,1488.1 L2081.5,1488.1 L2081.5,1493.8 L2078.5,1493.8 L2075.5,1493.8 L2072.5,1493.8 L2069.5,1493.8 L2066.5,1493.8 L2063.5,1493.9 L2060.5,1493.9 L2057.5,1493.9 L2054.5,1494.0 L2051.5,1494.0 L2048.5,1494.0 L2045.5,1494.1 L2042.5,1494.1 L2039.6,1494.2 L2036.6,1494.3 L2033.6,1494.3 L2030.6,1494.4 L2027.6,1494.4 L2024.6,1494.5 L2021.6,1494.6 L2018.6,1494.6 L2015.6,1494.7 L2012.6,1494.8 L2009.6,1494.9 L2006.6,1495.0 L2003.6,1495.0 L2000.6,1495.1 L1997.6,1495.2 L1994.6,1495.3 L1991.6,1495.4 L1988.6,1495.5 L1985.6,1495.6 L1982.6,1495.7 L1979.6,1495.7 L1976.6,1495.8 L1973.6,1495.9 L1970.6,1496.0 L1967.6,1496.1 L1964.6,1496.2 L1961.6,1496.3 L1958.6,1496.4 L1955.6,1496.5 L1952.6,1496.6 L1949.6,1496.7 L1946.6,1496.8 L1943.6,1496.9 L1940.6,1497.0 L1937.6,1497.1 L1934.6,1497.2 L1931.6,1497.3 L1928.6,1497.4 L1925.6,1497.5 L1922.6,1497.6 L1919.6,1497.7 L1916.6,1497.8 L1913.6,1497.9 L1910.6,1498.0 L1907.6,1498.0 L1904.6,1498.1 L1901.6,1498.2 L1898.6,1498.3 L1895.6,1498.4 L1892.6,1498.5 L1889.6,1498.5 L1886.6,1498.6 L1883.6,1498.7 L1880.6,1498.8 L1877.6,1498.8 L1874.6,1498.9 L1871.6,1499.0 L1868.6,1499.0 L1865.6,1499.1 L1862.6,1499.1 L1859.6,1499.2 L1856.5,1499.3 L1853.5,1499.3 L1850.5,1499.3 L1847.5,1499.4 L1844.5,1499.4 L1841.5,1499.5 L1838.5,1499.5 L1835.5,1499.5 L1832.5,1499.6 L1829.5,1499.6 L1826.5,1499.6 L1823.5,1499.6 L1820.5,1499.6 L1817.5,1499.7 L1814.5,1499.7 L1811.5,1499.7 L1808.5,1499.7 L1805.5,1499.7 L1802.5,1499.7 L1799.5,1499.7 L1796.5,1499.7 L1793.5,1499.7 L1790.5,1499.7 L1787.5,1499.7 L1784.5,1499.6 L1781.5,1499.6 L1778.5,1499.6 L1775.5,1499.6 L1772.5,1499.6 L1769.5,1499.5 L1766.5,1499.5 L1763.5,1499.5 L1760.5,1499.4 L1757.5,1499.4 L1754.5,1499.4 L1751.5,1499.3 L1748.5,1499.3 L1745.5,1499.2 L1742.5,1499.2 L1739.5,1499.1 L1736.4,1499.1 L1733.4,1499.0 L1730.4,1499.0 L1727.4,1498.9 L1724.4,1498.8 L1721.4,1498.8 L1718.4,1498.7 L1715.4,1498.6 L1712.4,1498.6 L1709.4,1498.5 L1706.4,1498.4 L1703.4,1498.3 L1700.4,1498.3 L1697.4,1498.2 L1694.4,1498.1 L1691.4,1498.0 L1688.4,1497.9 L1685.4,1497.8 L1682.4,1497.7 L1679.4,1497.7 L1676.4,1497.6 L1673.4,1497.5 L1670.4,1497.4 L1667.4,1497.3 L1664.4,1497.2 L1661.4,1497.0 L1658.4,1496.9 L1655.4,1496.8 L1652.4,1496.7 L1649.4,1496.6 L1646.4,1496.5 L1643.4,1496.4 L1640.4,1496.2 L1637.4,1496.1 L1634.4,1496.0 L1631.4,1495.9 L1628.4,1495.8 L1625.4,1495.6 L1622.4,1495.5 L1619.4,1495.4 L1616.4,1495.2 L1613.4,1495.1 L1610.4,1495.0 L1607.4,1494.8 L1604.4,1494.7 L1601.4,1494.5 L1598.4,1494.4 L1595.4,1494.3 L1592.4,1494.1 L1589.4,1494.0 L1586.4,1493.8 L1583.4,1493.7 L1580.4,1493.5 L1577.4,1493.4 L1574.4,1493.2 L1571.4,1493.1 L1568.4,1492.9 L1565.4,1492.8 L1562.4,1492.6 L1559.4,1492.5 L1556.4,1492.3 L1553.4,1492.2 L1550.4,1492.0 L1547.4,1491.9 L1544.4,1491.7 L1541.4,1491.6 L1538.4,1491.4 L1535.4,1491.2 L1532.4,1491.1 L1529.4,1490.9 L1526.4,1490.8 L1523.4,1490.6 L1520.4,1490.5 L1517.4,1490.3 L1514.4,1490.2 L1511.4,1490.0 L1508.4,1489.9 L1505.4,1489.7 L1502.4,1489.6 L1499.4,1489.4 L1496.4,1489.3 L1493.4,1489.1 L1490.4,1489.0 L1487.4,1488.8 L1484.4,1488.7 L1481.4,1488.5 L1478.4,1488.4 L1475.4,1488.2 L1472.4,1488.1 L1469.4,1487.9 L1466.4,1487.8 L1463.4,1487.7 L1460.4,1487.5 L1457.4,1487.4 L1454.4,1487.2 L1451.4,1487.1 L1448.4,1487.0 L1445.4,1486.8 L1442.4,1486.7 L1439.4,1486.6 L1436.4,1486.5 L1433.4,1486.3 L1430.4,1486.2 L1427.4,1486.1 L1424.4,1486.0 L1421.4,1485.8 L1418.4,1485.7 L1415.4,1485.6 L1412.4,1485.5 L1409.4,1485.4 L1406.4,1485.3 L1403.4,1485.2 L1400.4,1485.1 L1397.4,1485.0 L1394.4,1484.9 L1391.4,1484.8 L1388.4,1484.7 L1385.4,1484.6 L1382.4,1484.5 L1379.4,1484.4 L1376.4,1484.3 L1373.4,1484.2 L1370.4,1484.2 L1367.4,1484.1 L1364.4,1484.0 L1361.4,1483.9 L1358.4,1483.8 L1355.4,1483.8 L1352.4,1483.7 L1349.4,1483.6 L1346.4,1483.5 L1343.4,1483.5 L1340.4,1483.4 L1337.4,1483.3 L1334.4,1483.3 L1331.4,1483.2 L1328.4,1483.1 L1325.4,1483.0 L1322.4,1483.0 L1319.4,1482.9 L1316.4,1482.8 L1313.4,1482.8 L1310.4,1482.7 L1307.4,1482.6 L1304.4,1482.6 L1301.4,1482.5 L1298.4,1482.4 L1295.4,1482.4 L1292.4,1482.3 L1289.4,1482.2 L1286.4,1482.1 L1283.4,1482.1 L1280.4,1482.0 L1277.4,1481.9 L1274.4,1481.8 L1271.4,1481.8 L1268.4,1481.7 L1265.4,1481.6 L1262.4,1481.5 L1259.4,1481.4 L1256.4,1481.3 L1253.4,1481.3 L1250.4,1481.2 L1247.4,1481.1 L1244.4,1481.0 L1241.4,1480.9 L1238.4,1480.8 L1235.4,1480.7 L1232.4,1480.6 L1229.4,1480.5 L1226.4,1480.4 L1223.4,1480.3 L1220.4,1480.2 L1217.4,1480.1 L1214.4,1480.0 L1211.4,1479.8 L1208.4,1479.7 L1205.4,1479.6 L1202.4,1479.5 L1199.4,1479.3 L1196.4,1479.2 L1193.4,1479.1 L1190.4,1478.9 L1187.4,1478.8 L1184.4,1478.6 L1181.4,1478.5 L1178.4,1478.3 L1175.3,1478.2 L1172.3,1478.0 L1169.3,1477.8 L1166.3,1477.7 L1163.3,1477.5 L1160.3,1477.3 L1157.3,1477.1 L1154.3,1477.0 L1151.3,1476.8 L1148.3,1476.6 L1145.3,1476.4 L1142.3,1476.2 L1139.3,1476.0 L1136.3,1475.8 L1133.3,1475.6 L1130.3,1475.3 L1127.3,1475.1 L1124.3,1474.9 L1121.3,1474.7 L1118.3,1474.4 L1115.3,1474.2 L1112.3,1473.9 L1109.3,1473.7 L1106.3,1473.4 L1103.3,1473.2 L1100.3,1472.9 L1097.2,1472.7 L1094.2,1472.4 L1091.2,1472.1 L1088.2,1471.8 L1085.2,1471.6 L1082.2,1471.3 L1079.2,1471.0 L1076.2,1470.7 L1073.2,1470.4 L1070.2,1470.1 L1067.2,1469.8 L1064.2,1469.5 L1061.2,1469.1 L1058.2,1468.8 L1055.2,1468.5 L1052.2,1468.2 L1049.2,1467.9 L1046.2,1467.5 L1043.2,1467.2 L1040.2,1466.9 L1037.2,1466.5 L1034.2,1466.2 L1031.2,1465.9 L1028.2,1465.5 L1025.2,1465.2 L1022.2,1464.8 L1019.2,1464.5 L1016.2,1464.2 L1013.2,1463.8 L1010.2,1463.5 L1007.2,1463.1 L1004.2,1462.8 L1001.2,1462.4 L998.2,1462.1 L995.2,1461.8 L992.2,1461.4 L989.2,1461.1 L986.2,1460.7 L983.2,1460.4 L980.2,1460.1 L977.2,1459.7 L974.2,1459.4 L971.2,1459.1 L968.2,1458.8 L965.2,1458.4 L962.2,1458.1 L959.2,1457.8 L956.2,1457.5 L953.2,1457.2 L950.2,1456.9 L947.2,1456.6 L944.2,1456.3 L941.2,1456.0 L938.2,1455.7 L935.2,1455.4 L932.2,1455.1 L929.2,1454.8 L926.2,1454.5 L923.2,1454.3 L920.2,1454.0 L917.3,1453.7 L914.3,1453.5 L911.3,1453.2 L908.3,1453.0 L905.3,1452.7 L902.3,1452.5 L899.3,1452.3 L896.3,1452.0 L893.3,1451.8 L890.3,1451.6 L887.3,1451.4 L884.3,1451.2 L881.3,1451.0 L878.3,1450.8 L875.3,1450.6 L872.3,1450.5 L869.3,1450.3 L866.4,1450.2 L863.4,1450.0 L860.4,1449.9 L857.4,1449.7 L854.4,1449.6 L851.4,1449.5 L848.4,1449.4 L845.4,1449.3 L842.4,1449.2 L839.4,1449.1 L836.4,1449.0 L833.4,1448.9 L830.4,1448.9 L827.4,1448.8 L824.5,1448.8 L821.5,1448.7 L818.5,1448.7 L815.5,1448.6 L812.5,1448.6 L809.5,1448.6 L806.5,1448.6 L803.5,1448.6 L800.5,1448.6 L797.5,1448.6 L794.5,1448.6 L791.5,1448.6 L788.5,1448.6 L785.5,1448.6 L782.5,1448.6 L779.5,1448.6 L776.5,1448.7 L773.5,1448.7 L770.5,1448.7 L767.5,1448.8 L764.5,1448.8 L761.5,1448.8 L758.5,1448.9 L755.5,1448.9 L752.5,1449.0 L749.5,1449.0 L746.5,1449.1 L743.5,1449.1 L740.5,1449.2 L737.5,1449.2 L734.5,1449.3 L731.6,1449.3 L728.6,1449.4 L725.6,1449.4 L722.6,1449.5 L719.6,1449.5 L716.6,1449.6 L713.6,1449.6 L710.6,1449.7 L707.6,1449.7 L704.5,1449.8 L701.5,1449.8 L698.5,1449.9 L695.5,1449.9 L692.5,1450.0 L689.5,1450.0 L686.5,1450.1 L683.5,1450.1 L680.5,1450.2 L677.5,1450.2 L674.5,1450.3 L671.5,1450.3 L668.5,1450.3 L665.5,1450.4 L662.5,1450.4 L659.5,1450.4 L656.5,1450.5 L653.5,1450.5 L650.5,1450.5 L647.5,1450.6 L644.5,1450.6 L641.5,1450.6 L638.5,1450.6 L635.5,1450.6 L632.5,1450.6 L629.5,1450.6 L626.5,1450.6 L623.5,1450.6 L620.5,1450.6 L617.5,1450.6 L614.5,1450.6 L611.5,1450.6 L608.5,1450.5 L605.5,1450.5 L602.5,1450.5 L599.5,1450.5 L596.5,1450.4 L593.5,1450.4 L590.5,1450.4 L587.5,1450.3 L584.5,1450.3 L581.5,1450.3 L578.5,1450.3 L575.5,1450.2 L572.5,1450.2 L569.5,1450.2 L566.5,1450.1 L563.5,1450.1 L560.5,1450.1 L557.5,1450.1 L554.5,1450.1 L551.5,1450.0 L548.5,1450.0 L545.5,1450.0 L542.5,1450.0 L539.5,1450.0 L536.5,1450.0 L533.5,1450.0 L530.5,1450.1 L527.5,1450.1 L524.5,1450.1 L521.5,1450.1 L518.5,1450.2 L515.5,1450.2 L512.6,1450.3 L509.6,1450.3 L506.6,1450.4 L503.6,1450.5 L500.6,1450.6 L497.6,1450.7 L494.6,1450.8 L491.6,1450.9 L488.6,1451.0 L485.6,1451.1 L482.6,1451.2 L479.6,1451.4 L476.7,1451.5 L473.7,1451.7 L470.7,1451.9 L467.7,1452.1 L464.7,1452.3 L461.7,1452.5 L458.7,1452.7 L455.7,1452.9 L452.7,1453.2 L449.7,1453.4 L446.8,1453.7 L443.8,1453.9 L440.8,1454.2 L437.8,1454.5 L434.8,1454.8 L431.8,1455.1 L428.8,1455.5 L425.8,1455.8 L422.8,1456.2 L419.9,1456.5 L416.9,1456.9 L413.9,1457.3 L410.9,1457.7 L407.9,1458.1 L404.9,1458.5 L401.9,1459.0 L398.9,1459.4 L395.9,1459.9 L393.0,1460.4 L390.0,1460.9 L387.0,1461.4 L384.0,1461.9 L381.0,1462.5 L378.0,1463.0 L375.0,1463.6 L372.1,1464.2 L369.1,1464.8 L366.1,1465.4 L363.1,1466.0 L360.1,1466.7 L357.1,1467.3 L354.1,1468.0 L351.1,1468.7 L348.2,1469.4 L345.2,1470.1 L342.2,1470.9 L339.2,1471.6 L336.2,1472.4 L333.2,1473.2 L330.2,1474.0 L327.3,1474.8 L324.3,1475.6 L321.3,1476.5 L318.3,1477.4 L315.3,1478.3 L312.3,1479.2 L309.4,1480.1 L306.4,1481.0 L303.4,1482.0 L300.4,1483.0 L297.4,1484.0 L294.4,1485.0 L291.4,1486.0 L288.5,1487.1 L285.5,1488.2 L282.5,1489.3 L279.5,1490.4 L276.3,1491.6 L273.0,1492.2 L269.9,1492.7 L266.9,1493.2 L263.9,1493.6 L260.9,1494.1 L257.9,1494.6 L254.9,1495.1 L251.9,1495.6 L248.9,1496.0 L245.9,1496.5Z" fill="#CC00FF"/>
</g>
<filter id="bin" x="0" y="0" width="2158" height="1700" filterUnits="userSpaceOnUse" color-interpolation-filters="sRGB"><feComponentTransfer><feFuncA type="discrete" tableValues="0 1"/></feComponentTransfer></filter>
<g filter="url(#bin)">
<text class="t k" x="204.28" y="1580.4">300</text>
<text class="t k" x="465.14" y="1580.4">400</text>
<text class="t k" x="726.00" y="1580.4">500</text>
<text class="t k" x="986.85" y="1580.4">600</text>
<text class="t k" x="1247.71" y="1580.4">700</text>
<text class="t k" x="1508.57" y="1580.4">800</text>
<text class="t k" x="1769.43" y="1580.4">900</text>
<text class="t k" x="2014.54" y="1580.4">1000</text>
<text class="t k" x="199.12" y="1516.20">0</text>
<text class="t k" x="199.12" y="1288.73">1</text>
<text class="t k" x="199.12" y="1043.57">2</text>
<text class="t k" x="199.12" y="798.40">3</text>
<text class="t k" x="199.12" y="553.23">4</text>
<text class="t k" x="199.12" y="308.07">5</text>
<text class="t k" x="199.12" y="76.20">6</text>
<text class="t" x="1674.0" y="140.05" fill="#000000" stroke="#000000">118.291 eV</text>
<text class="t" x="1674.0" y="211.15" fill="#580088" stroke="#580088">118.291 eV</text>
<text class="t" x="1674.0" y="282.25" fill="#FF0048" stroke="#FF0048">107.047 eV</text>
<text class="t" x="1674.0" y="353.35" fill="#FFA500" stroke="#FFA500">107.040 eV</text>
<text class="t" x="1674.0" y="424.45" fill="#0088FF" stroke="#0088FF">106.561 eV</text>
<text class="t" x="1674.0" y="495.55" fill="#00D4FF" stroke="#00D4FF">106.496 eV</text>
<text class="t" x="1674.0" y="566.65" fill="#00FFDD" stroke="#00FFDD">106.495 eV</text>
<text class="t" x="1674.0" y="637.75" fill="#00FF15" stroke="#00FF15">105.673 eV</text>
<text class="t" x="1674.0" y="708.85" fill="#CC00FF" stroke="#CC00FF">105.607 eV</text>
<text class="l k"><tspan x="773.72" y="1658.20">Collisions Speed u</tspan><tspan x="1252.57" y="1676.00" font-size="35.5">O6</tspan><tspan x="1301.81" y="1679.40" font-size="41.8">+ </tspan><tspan x="1346.37" y="1658.20">(km s</tspan><tspan x="1488.69" y="1627.80" font-size="41.8">−</tspan><tspan x="1512.64" y="1623.30" font-size="35.5">1</tspan><tspan x="1535.51" y="1658.20">)</tspan></text>
<text class="l k" transform="rotate(-90)"><tspan x="-1182.88" y="85.25" dx="0 -2.1 -1.3 -0.8">Efficiency Factor (10</tspan><tspan x="-659.21" y="54.90" font-size="41.8">−</tspan><tspan x="-632.71" y="51.50" font-size="35.5">14 </tspan><tspan x="-577.70" y="85.25">eV </tspan><tspan x="-495.50" y="85.25">cm</tspan><tspan x="-416.94" y="51.50" font-size="35.5">2</tspan><tspan x="-396.39" y="85.25">)</tspan></text>
</g>
</svg></body></html>
